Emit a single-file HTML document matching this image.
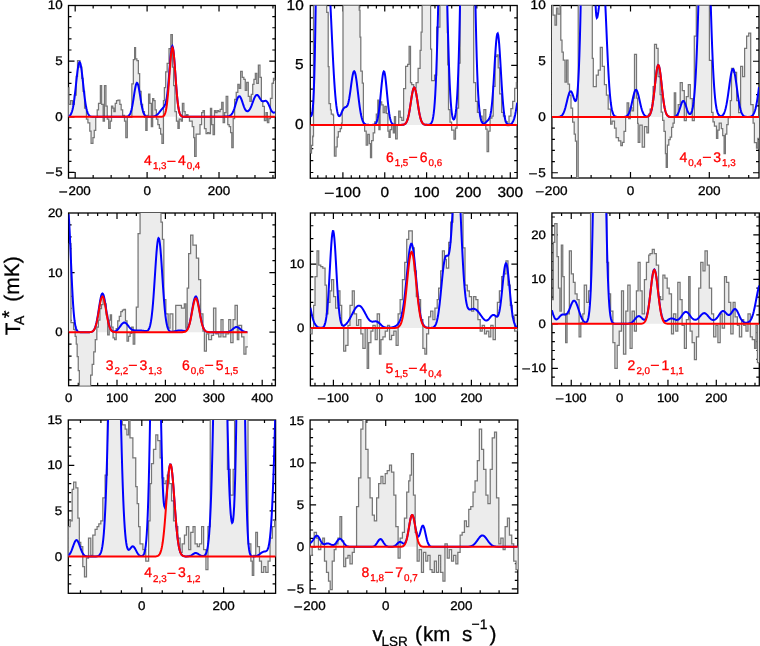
<!DOCTYPE html>
<html><head><meta charset="utf-8"><style>
html,body{margin:0;padding:0;background:#fff;}
svg{display:block;will-change:transform;}
text{font-family:"Liberation Sans", sans-serif;text-rendering:geometricPrecision;stroke:#000;stroke-width:0.3px;}
</style></head><body>
<svg width="760" height="646" viewBox="0 0 760 646">
<defs><clipPath id="c0"><rect x="68.5" y="5.5" width="206.8" height="172.6"/></clipPath><clipPath id="c1"><rect x="310.3" y="5.5" width="206.9" height="172.7"/></clipPath><clipPath id="c2"><rect x="551.9" y="5.5" width="207.1" height="172.5"/></clipPath><clipPath id="c3"><rect x="68.6" y="213" width="206.8" height="172.7"/></clipPath><clipPath id="c4"><rect x="310.4" y="213" width="207" height="172.8"/></clipPath><clipPath id="c5"><rect x="551.9" y="213" width="207.4" height="172.8"/></clipPath><clipPath id="c6"><rect x="68.3" y="420" width="207.3" height="173.3"/></clipPath><clipPath id="c7"><rect x="310.1" y="420" width="207.7" height="173.3"/></clipPath></defs>
<rect width="760" height="646" fill="#fff"/>
<rect x="68.5" y="5.5" width="206.8" height="172.6" fill="none" stroke="#000" stroke-width="1.3"/>
<path d="M75.18 178.1v-6 M75.18 5.5v6 M93.16 178.1v-3 M93.16 5.5v3 M111.14 178.1v-3 M111.14 5.5v3 M129.12 178.1v-3 M129.12 5.5v3 M147.1 178.1v-6 M147.1 5.5v6 M165.08 178.1v-3 M165.08 5.5v3 M183.06 178.1v-3 M183.06 5.5v3 M201.04 178.1v-3 M201.04 5.5v3 M219.02 178.1v-6 M219.02 5.5v6 M237 178.1v-3 M237 5.5v3 M254.98 178.1v-3 M254.98 5.5v3 M272.96 178.1v-3 M272.96 5.5v3 M68.5 172.45h6 M275.3 172.45h-6 M68.5 161.32h3 M275.3 161.32h-3 M68.5 150.19h3 M275.3 150.19h-3 M68.5 139.06h3 M275.3 139.06h-3 M68.5 127.93h3 M275.3 127.93h-3 M68.5 116.8h6 M275.3 116.8h-6 M68.5 105.67h3 M275.3 105.67h-3 M68.5 94.54h3 M275.3 94.54h-3 M68.5 83.41h3 M275.3 83.41h-3 M68.5 72.28h3 M275.3 72.28h-3 M68.5 61.15h6 M275.3 61.15h-6 M68.5 50.02h3 M275.3 50.02h-3 M68.5 38.89h3 M275.3 38.89h-3 M68.5 27.76h3 M275.3 27.76h-3 M68.5 16.63h3 M275.3 16.63h-3" stroke="#000" stroke-width="1.2" fill="none"/>
<g clip-path="url(#c0)"><path d="M67.86 116.8 L67.86 87.59 L68.79 87.59 L68.79 104.3 L70.64 104.3 L70.64 100.59 L72.5 100.59 L72.5 104.3 L74.36 104.3 L74.36 95.02 L76.22 95.02 L76.22 76.44 L77.52 76.44 L77.52 60.65 L79.93 60.65 L79.93 67.15 L81.79 67.15 L81.79 78.3 L83.09 78.3 L83.09 91.3 L84.58 91.3 L84.58 108.02 L86.43 108.02 L86.43 119.16 L87.92 119.16 L87.92 122.88 L89.78 122.88 L89.78 131.24 L91.08 131.24 L91.08 143.31 L92.93 143.31 L92.93 137.74 L94.24 137.74 L94.24 130.31 L95.72 130.31 L95.72 117.31 L97.21 117.31 L97.21 109.88 L98.51 109.88 L98.51 103.37 L100.37 103.37 L100.37 85.73 L101.67 85.73 L101.67 104.3 L103.15 104.3 L103.15 121.02 L104.45 121.02 L104.45 85.73 L105.94 85.73 L105.94 106.16 L107.24 106.16 L107.24 119.16 L108.72 119.16 L108.72 128.45 L110.21 128.45 L110.21 121.02 L111.51 121.02 L111.51 106.16 L112.81 106.16 L112.81 108.02 L113.93 108.02 L113.93 111.73 L115.23 111.73 L115.23 103.37 L116.53 103.37 L116.53 100.59 L118.01 100.59 L118.01 100.22 L119.87 100.22 L119.87 104.3 L121.17 104.3 L121.17 109.88 L122.66 109.88 L122.66 115.45 L124.51 115.45 L124.51 121.02 L125.81 121.02 L125.81 137.74 L127.3 137.74 L127.3 117.31 L131.86 117.31 L131.86 83.87 L133.34 83.87 L133.34 59.72 L134.64 59.72 L134.64 47.65 L135.57 47.65 L135.57 58.79 L136.87 58.79 L136.87 60.65 L138.36 60.65 L138.36 73.65 L139.66 73.65 L139.66 91.3 L141.15 91.3 L141.15 104.3 L142.63 104.3 L142.63 111.73 L144.49 111.73 L144.49 117.31 L145.79 117.31 L145.79 130.31 L147.09 130.31 L147.09 115.45 L148.58 115.45 L148.58 94.09 L149.88 94.09 L149.88 103.37 L151.36 103.37 L151.36 126.59 L152.66 126.59 L152.66 98.73 L153.78 98.73 L153.78 100.59 L155.08 100.59 L155.08 109.88 L156.38 109.88 L156.38 119.16 L157.86 119.16 L157.86 124.74 L159.35 124.74 L159.35 128.45 L160.65 128.45 L160.65 134.02 L161.95 134.02 L161.95 143.31 L163.44 143.31 L163.44 100.59 L164.37 100.59 L164.37 87.59 L165.67 87.59 L165.67 71.8 L167.15 71.8 L167.15 63.44 L169.01 63.44 L169.01 48.58 L170.87 48.58 L170.87 34.64 L172.35 34.64 L172.35 67.15 L173.65 67.15 L173.65 85.73 L174.95 85.73 L174.95 111.73 L176.44 111.73 L176.44 121.02 L177.93 121.02 L177.93 128.45 L179.23 128.45 L179.23 119.16 L181.08 119.16 L181.08 121.02 L182.38 121.02 L182.38 103.37 L183.87 103.37 L183.87 111.73 L185.17 111.73 L185.17 117.31 L186.66 117.31 L186.66 114.52 L187.96 114.52 L187.96 117.31 L189.44 117.31 L189.44 121.02 L190.93 121.02 L190.93 121.02 L192.23 121.02 L192.23 126.59 L193.72 126.59 L193.72 137.74 L194.64 137.74 L194.64 156.32 L196.13 156.32 L196.13 134.02 L200 134.02 L200 124.58 L201.61 124.58 L201.61 112.51 L203.02 112.51 L203.02 110.5 L204.43 110.5 L204.43 128.61 L206.04 128.61 L206.04 133.64 L207.65 133.64 L207.65 132.63 L209.06 132.63 L209.06 133.64 L210.46 133.64 L210.46 108.48 L211.67 108.48 L211.67 124.58 L213.08 124.58 L213.08 134.64 L214.49 134.64 L214.49 110.5 L215.7 110.5 L215.7 112.51 L217.11 112.51 L217.11 110.5 L218.51 110.5 L218.51 111.5 L220.12 111.5 L220.12 109.49 L221.73 109.49 L221.73 102.45 L223.14 102.45 L223.14 122.57 L224.55 122.57 L224.55 112.51 L226.16 112.51 L226.16 96.41 L227.77 96.41 L227.77 124.58 L229.18 124.58 L229.18 126.59 L230.59 126.59 L230.59 132.63 L231.8 132.63 L231.8 147.72 L233.2 147.72 L233.2 118.54 L234.61 118.54 L234.61 99.43 L236.22 99.43 L236.22 92.38 L237.83 92.38 L237.83 84.33 L239.24 84.33 L239.24 88.36 L240.65 88.36 L240.65 71.25 L242.26 71.25 L242.26 77.29 L243.87 77.29 L243.87 79.3 L245.28 79.3 L245.28 90.37 L246.69 90.37 L246.69 82.32 L248.3 82.32 L248.3 96.41 L249.91 96.41 L249.91 101.44 L251.32 101.44 L251.32 94.4 L252.72 94.4 L252.72 84.33 L253.93 84.33 L253.93 79.3 L255.34 79.3 L255.34 73.27 L256.75 73.27 L256.75 83.33 L258.36 83.33 L258.36 65.22 L259.97 65.22 L259.97 77.29 L261.38 77.29 L261.38 101.44 L262.79 101.44 L262.79 106.47 L264.4 106.47 L264.4 120.56 L266.01 120.56 L266.01 112.51 L267.41 112.51 L267.41 122.57 L268.82 122.57 L268.82 118.54 L270.43 118.54 L270.43 98.42 L272.04 98.42 L272.04 83.33 L273.45 83.33 L273.45 78.3 L274.86 78.3 L274.86 80.31 L277.07 80.31 L277.07 116.8 Z" fill="#ececec" stroke="none"/><path d="M67.86 87.59 L68.79 87.59 L68.79 104.3 L70.64 104.3 L70.64 100.59 L72.5 100.59 L72.5 104.3 L74.36 104.3 L74.36 95.02 L76.22 95.02 L76.22 76.44 L77.52 76.44 L77.52 60.65 L79.93 60.65 L79.93 67.15 L81.79 67.15 L81.79 78.3 L83.09 78.3 L83.09 91.3 L84.58 91.3 L84.58 108.02 L86.43 108.02 L86.43 119.16 L87.92 119.16 L87.92 122.88 L89.78 122.88 L89.78 131.24 L91.08 131.24 L91.08 143.31 L92.93 143.31 L92.93 137.74 L94.24 137.74 L94.24 130.31 L95.72 130.31 L95.72 117.31 L97.21 117.31 L97.21 109.88 L98.51 109.88 L98.51 103.37 L100.37 103.37 L100.37 85.73 L101.67 85.73 L101.67 104.3 L103.15 104.3 L103.15 121.02 L104.45 121.02 L104.45 85.73 L105.94 85.73 L105.94 106.16 L107.24 106.16 L107.24 119.16 L108.72 119.16 L108.72 128.45 L110.21 128.45 L110.21 121.02 L111.51 121.02 L111.51 106.16 L112.81 106.16 L112.81 108.02 L113.93 108.02 L113.93 111.73 L115.23 111.73 L115.23 103.37 L116.53 103.37 L116.53 100.59 L118.01 100.59 L118.01 100.22 L119.87 100.22 L119.87 104.3 L121.17 104.3 L121.17 109.88 L122.66 109.88 L122.66 115.45 L124.51 115.45 L124.51 121.02 L125.81 121.02 L125.81 137.74 L127.3 137.74 L127.3 117.31 L131.86 117.31 L131.86 83.87 L133.34 83.87 L133.34 59.72 L134.64 59.72 L134.64 47.65 L135.57 47.65 L135.57 58.79 L136.87 58.79 L136.87 60.65 L138.36 60.65 L138.36 73.65 L139.66 73.65 L139.66 91.3 L141.15 91.3 L141.15 104.3 L142.63 104.3 L142.63 111.73 L144.49 111.73 L144.49 117.31 L145.79 117.31 L145.79 130.31 L147.09 130.31 L147.09 115.45 L148.58 115.45 L148.58 94.09 L149.88 94.09 L149.88 103.37 L151.36 103.37 L151.36 126.59 L152.66 126.59 L152.66 98.73 L153.78 98.73 L153.78 100.59 L155.08 100.59 L155.08 109.88 L156.38 109.88 L156.38 119.16 L157.86 119.16 L157.86 124.74 L159.35 124.74 L159.35 128.45 L160.65 128.45 L160.65 134.02 L161.95 134.02 L161.95 143.31 L163.44 143.31 L163.44 100.59 L164.37 100.59 L164.37 87.59 L165.67 87.59 L165.67 71.8 L167.15 71.8 L167.15 63.44 L169.01 63.44 L169.01 48.58 L170.87 48.58 L170.87 34.64 L172.35 34.64 L172.35 67.15 L173.65 67.15 L173.65 85.73 L174.95 85.73 L174.95 111.73 L176.44 111.73 L176.44 121.02 L177.93 121.02 L177.93 128.45 L179.23 128.45 L179.23 119.16 L181.08 119.16 L181.08 121.02 L182.38 121.02 L182.38 103.37 L183.87 103.37 L183.87 111.73 L185.17 111.73 L185.17 117.31 L186.66 117.31 L186.66 114.52 L187.96 114.52 L187.96 117.31 L189.44 117.31 L189.44 121.02 L190.93 121.02 L190.93 121.02 L192.23 121.02 L192.23 126.59 L193.72 126.59 L193.72 137.74 L194.64 137.74 L194.64 156.32 L196.13 156.32 L196.13 134.02 L200 134.02 L200 124.58 L201.61 124.58 L201.61 112.51 L203.02 112.51 L203.02 110.5 L204.43 110.5 L204.43 128.61 L206.04 128.61 L206.04 133.64 L207.65 133.64 L207.65 132.63 L209.06 132.63 L209.06 133.64 L210.46 133.64 L210.46 108.48 L211.67 108.48 L211.67 124.58 L213.08 124.58 L213.08 134.64 L214.49 134.64 L214.49 110.5 L215.7 110.5 L215.7 112.51 L217.11 112.51 L217.11 110.5 L218.51 110.5 L218.51 111.5 L220.12 111.5 L220.12 109.49 L221.73 109.49 L221.73 102.45 L223.14 102.45 L223.14 122.57 L224.55 122.57 L224.55 112.51 L226.16 112.51 L226.16 96.41 L227.77 96.41 L227.77 124.58 L229.18 124.58 L229.18 126.59 L230.59 126.59 L230.59 132.63 L231.8 132.63 L231.8 147.72 L233.2 147.72 L233.2 118.54 L234.61 118.54 L234.61 99.43 L236.22 99.43 L236.22 92.38 L237.83 92.38 L237.83 84.33 L239.24 84.33 L239.24 88.36 L240.65 88.36 L240.65 71.25 L242.26 71.25 L242.26 77.29 L243.87 77.29 L243.87 79.3 L245.28 79.3 L245.28 90.37 L246.69 90.37 L246.69 82.32 L248.3 82.32 L248.3 96.41 L249.91 96.41 L249.91 101.44 L251.32 101.44 L251.32 94.4 L252.72 94.4 L252.72 84.33 L253.93 84.33 L253.93 79.3 L255.34 79.3 L255.34 73.27 L256.75 73.27 L256.75 83.33 L258.36 83.33 L258.36 65.22 L259.97 65.22 L259.97 77.29 L261.38 77.29 L261.38 101.44 L262.79 101.44 L262.79 106.47 L264.4 106.47 L264.4 120.56 L266.01 120.56 L266.01 112.51 L267.41 112.51 L267.41 122.57 L268.82 122.57 L268.82 118.54 L270.43 118.54 L270.43 98.42 L272.04 98.42 L272.04 83.33 L273.45 83.33 L273.45 78.3 L274.86 78.3 L274.86 80.31 L277.07 80.31 " fill="none" stroke="#767676" stroke-width="1.25" stroke-linejoin="miter"/><path d="M68.5 116.43 L69 116.23 L69.5 115.93 L70 115.5 L70.5 114.9 L71 114.08 L71.5 112.99 L72 111.56 L72.5 109.74 L73 107.49 L73.5 104.75 L73.99 101.53 L74.49 97.83 L74.99 93.7 L75.49 89.24 L75.99 84.58 L76.49 79.88 L76.99 75.35 L77.49 71.19 L77.99 67.62 L78.49 64.83 L78.99 62.98 L79.49 62.18 L79.99 62.48 L80.49 63.86 L80.99 66.24 L81.49 69.48 L81.99 73.39 L82.49 77.78 L82.99 82.43 L83.49 87.13 L83.99 91.7 L84.48 96 L84.98 99.9 L85.48 103.34 L85.98 106.3 L86.48 108.77 L86.98 110.79 L87.48 112.38 L87.98 113.62 L88.48 114.56 L88.98 115.25 L89.48 115.75 L89.98 116.1 L90.48 116.35 L90.98 116.51 L91.48 116.62 L91.98 116.69 L92.48 116.73 L92.98 116.76 L93.48 116.78 L93.98 116.79 L94.47 116.79 L94.97 116.8 L95.47 116.8 L95.97 116.8 L96.47 116.8 L96.97 116.8 L97.47 116.8 L97.97 116.8 L98.47 116.8 L98.97 116.8 L99.47 116.8 L99.97 116.8 L100.47 116.8 L100.97 116.8 L101.47 116.8 L101.97 116.8 L102.47 116.8 L102.97 116.8 L103.47 116.8 L103.97 116.8 L104.47 116.8 L104.96 116.8 L105.46 116.8 L105.96 116.8 L106.46 116.8 L106.96 116.8 L107.46 116.8 L107.96 116.8 L108.46 116.8 L108.96 116.8 L109.46 116.8 L109.96 116.8 L110.46 116.8 L110.96 116.8 L111.46 116.8 L111.96 116.8 L112.46 116.8 L112.96 116.8 L113.46 116.8 L113.96 116.8 L114.46 116.8 L114.96 116.8 L115.45 116.8 L115.95 116.8 L116.45 116.8 L116.95 116.8 L117.45 116.8 L117.95 116.8 L118.45 116.8 L118.95 116.8 L119.45 116.8 L119.95 116.8 L120.45 116.8 L120.95 116.8 L121.45 116.8 L121.95 116.8 L122.45 116.8 L122.95 116.8 L123.45 116.8 L123.95 116.79 L124.45 116.79 L124.95 116.78 L125.44 116.76 L125.94 116.74 L126.44 116.69 L126.94 116.61 L127.44 116.49 L127.94 116.3 L128.44 116.01 L128.94 115.6 L129.44 115 L129.94 114.19 L130.44 113.1 L130.94 111.69 L131.44 109.91 L131.94 107.76 L132.44 105.23 L132.94 102.36 L133.44 99.24 L133.94 95.97 L134.44 92.72 L134.94 89.67 L135.44 86.99 L135.93 84.87 L136.43 83.46 L136.93 82.87 L137.43 83.13 L137.93 84.23 L138.43 86.09 L138.93 88.57 L139.43 91.5 L139.93 94.7 L140.43 97.97 L140.93 101.17 L141.43 104.15 L141.93 106.82 L142.43 109.12 L142.93 111.04 L143.43 112.59 L143.93 113.8 L144.43 114.72 L144.93 115.39 L145.43 115.87 L145.93 116.2 L146.42 116.42 L146.92 116.57 L147.42 116.66 L147.92 116.71 L148.42 116.75 L148.92 116.76 L149.42 116.77 L149.92 116.76 L150.42 116.75 L150.92 116.73 L151.42 116.71 L151.92 116.67 L152.42 116.62 L152.92 116.55 L153.42 116.46 L153.92 116.35 L154.42 116.2 L154.92 116.02 L155.42 115.8 L155.92 115.53 L156.41 115.22 L156.91 114.85 L157.41 114.42 L157.91 113.94 L158.41 113.41 L158.91 112.84 L159.41 112.24 L159.91 111.61 L160.41 110.97 L160.91 110.33 L161.41 109.71 L161.91 109.11 L162.41 108.53 L162.91 107.97 L163.41 107.4 L163.91 106.78 L164.41 106.04 L164.91 105.09 L165.41 103.82 L165.91 102.11 L166.41 99.83 L166.9 96.85 L167.4 93.09 L167.9 88.52 L168.4 83.18 L168.9 77.21 L169.4 70.87 L169.9 64.48 L170.4 58.45 L170.9 53.21 L171.4 49.18 L171.9 46.72 L172.4 46.05 L172.9 47.26 L173.4 50.29 L173.9 54.9 L174.4 60.76 L174.9 67.45 L175.4 74.53 L175.9 81.6 L176.4 88.29 L176.9 94.35 L177.39 99.6 L177.89 104 L178.39 107.53 L178.89 110.27 L179.39 112.33 L179.89 113.83 L180.39 114.88 L180.89 115.59 L181.39 116.06 L181.89 116.36 L182.39 116.55 L182.89 116.66 L183.39 116.72 L183.89 116.76 L184.39 116.78 L184.89 116.79 L185.39 116.79 L185.89 116.8 L186.39 116.8 L186.89 116.8 L187.39 116.8 L187.88 116.8 L188.38 116.8 L188.88 116.8 L189.38 116.8 L189.88 116.8 L190.38 116.8 L190.88 116.8 L191.38 116.8 L191.88 116.8 L192.38 116.8 L192.88 116.8 L193.38 116.8 L193.88 116.8 L194.38 116.8 L194.88 116.8 L195.38 116.8 L195.88 116.8 L196.38 116.8 L196.88 116.8 L197.38 116.8 L197.87 116.8 L198.37 116.8 L198.87 116.8 L199.37 116.8 L199.87 116.8 L200.37 116.8 L200.87 116.8 L201.37 116.8 L201.87 116.8 L202.37 116.8 L202.87 116.8 L203.37 116.8 L203.87 116.8 L204.37 116.8 L204.87 116.8 L205.37 116.8 L205.87 116.8 L206.37 116.8 L206.87 116.8 L207.37 116.8 L207.87 116.8 L208.36 116.8 L208.86 116.8 L209.36 116.8 L209.86 116.8 L210.36 116.8 L210.86 116.79 L211.36 116.79 L211.86 116.79 L212.36 116.79 L212.86 116.79 L213.36 116.79 L213.86 116.79 L214.36 116.78 L214.86 116.78 L215.36 116.78 L215.86 116.78 L216.36 116.77 L216.86 116.77 L217.36 116.77 L217.86 116.76 L218.36 116.76 L218.85 116.75 L219.35 116.74 L219.85 116.74 L220.35 116.73 L220.85 116.72 L221.35 116.71 L221.85 116.7 L222.35 116.69 L222.85 116.68 L223.35 116.66 L223.85 116.65 L224.35 116.63 L224.85 116.61 L225.35 116.59 L225.85 116.56 L226.35 116.53 L226.85 116.48 L227.35 116.43 L227.85 116.36 L228.35 116.27 L228.84 116.15 L229.34 115.99 L229.84 115.77 L230.34 115.48 L230.84 115.1 L231.34 114.61 L231.84 113.99 L232.34 113.22 L232.84 112.29 L233.34 111.19 L233.84 109.91 L234.34 108.48 L234.84 106.91 L235.34 105.25 L235.84 103.55 L236.34 101.88 L236.84 100.3 L237.34 98.89 L237.84 97.72 L238.34 96.85 L238.84 96.33 L239.33 96.19 L239.83 96.42 L240.33 97.01 L240.83 97.92 L241.33 99.08 L241.83 100.44 L242.33 101.92 L242.83 103.44 L243.33 104.93 L243.83 106.34 L244.33 107.61 L244.83 108.71 L245.33 109.63 L245.83 110.34 L246.33 110.86 L246.83 111.17 L247.33 111.29 L247.83 111.22 L248.33 110.97 L248.83 110.54 L249.33 109.96 L249.82 109.21 L250.32 108.3 L250.82 107.26 L251.32 106.1 L251.82 104.83 L252.32 103.49 L252.82 102.11 L253.32 100.74 L253.82 99.41 L254.32 98.19 L254.82 97.11 L255.32 96.21 L255.82 95.54 L256.32 95.11 L256.82 94.95 L257.32 95.04 L257.82 95.36 L258.32 95.89 L258.82 96.58 L259.32 97.37 L259.81 98.2 L260.31 99.02 L260.81 99.76 L261.31 100.38 L261.81 100.85 L262.31 101.15 L262.81 101.29 L263.31 101.28 L263.81 101.18 L264.31 101.02 L264.81 100.87 L265.31 100.79 L265.81 100.83 L266.31 101.04 L266.81 101.44 L267.31 102.04 L267.81 102.83 L268.31 103.79 L268.81 104.88 L269.31 106.04 L269.81 107.22 L270.3 108.38 L270.8 109.46 L271.3 110.41 L271.8 111.22 L272.3 111.85 L272.8 112.29 L273.3 112.55 L273.8 112.63 L274.3 112.56 L274.8 112.35 L275.3 112.05" fill="none" stroke="#0000ff" stroke-width="2"/><path d="M68.5 116.8 L69 116.8 L69.5 116.8 L70 116.8 L70.5 116.8 L71 116.8 L71.5 116.8 L72 116.8 L72.5 116.8 L73 116.8 L73.5 116.8 L73.99 116.8 L74.49 116.8 L74.99 116.8 L75.49 116.8 L75.99 116.8 L76.49 116.8 L76.99 116.8 L77.49 116.8 L77.99 116.8 L78.49 116.8 L78.99 116.8 L79.49 116.8 L79.99 116.8 L80.49 116.8 L80.99 116.8 L81.49 116.8 L81.99 116.8 L82.49 116.8 L82.99 116.8 L83.49 116.8 L83.99 116.8 L84.48 116.8 L84.98 116.8 L85.48 116.8 L85.98 116.8 L86.48 116.8 L86.98 116.8 L87.48 116.8 L87.98 116.8 L88.48 116.8 L88.98 116.8 L89.48 116.8 L89.98 116.8 L90.48 116.8 L90.98 116.8 L91.48 116.8 L91.98 116.8 L92.48 116.8 L92.98 116.8 L93.48 116.8 L93.98 116.8 L94.47 116.8 L94.97 116.8 L95.47 116.8 L95.97 116.8 L96.47 116.8 L96.97 116.8 L97.47 116.8 L97.97 116.8 L98.47 116.8 L98.97 116.8 L99.47 116.8 L99.97 116.8 L100.47 116.8 L100.97 116.8 L101.47 116.8 L101.97 116.8 L102.47 116.8 L102.97 116.8 L103.47 116.8 L103.97 116.8 L104.47 116.8 L104.96 116.8 L105.46 116.8 L105.96 116.8 L106.46 116.8 L106.96 116.8 L107.46 116.8 L107.96 116.8 L108.46 116.8 L108.96 116.8 L109.46 116.8 L109.96 116.8 L110.46 116.8 L110.96 116.8 L111.46 116.8 L111.96 116.8 L112.46 116.8 L112.96 116.8 L113.46 116.8 L113.96 116.8 L114.46 116.8 L114.96 116.8 L115.45 116.8 L115.95 116.8 L116.45 116.8 L116.95 116.8 L117.45 116.8 L117.95 116.8 L118.45 116.8 L118.95 116.8 L119.45 116.8 L119.95 116.8 L120.45 116.8 L120.95 116.8 L121.45 116.8 L121.95 116.8 L122.45 116.8 L122.95 116.8 L123.45 116.8 L123.95 116.8 L124.45 116.8 L124.95 116.8 L125.44 116.8 L125.94 116.8 L126.44 116.8 L126.94 116.8 L127.44 116.8 L127.94 116.8 L128.44 116.8 L128.94 116.8 L129.44 116.8 L129.94 116.8 L130.44 116.8 L130.94 116.8 L131.44 116.8 L131.94 116.8 L132.44 116.8 L132.94 116.8 L133.44 116.8 L133.94 116.8 L134.44 116.8 L134.94 116.8 L135.44 116.8 L135.93 116.8 L136.43 116.8 L136.93 116.8 L137.43 116.8 L137.93 116.8 L138.43 116.8 L138.93 116.8 L139.43 116.8 L139.93 116.8 L140.43 116.8 L140.93 116.8 L141.43 116.8 L141.93 116.8 L142.43 116.8 L142.93 116.8 L143.43 116.8 L143.93 116.8 L144.43 116.8 L144.93 116.8 L145.43 116.8 L145.93 116.8 L146.42 116.8 L146.92 116.8 L147.42 116.8 L147.92 116.8 L148.42 116.8 L148.92 116.8 L149.42 116.8 L149.92 116.8 L150.42 116.8 L150.92 116.8 L151.42 116.8 L151.92 116.8 L152.42 116.8 L152.92 116.8 L153.42 116.8 L153.92 116.8 L154.42 116.8 L154.92 116.8 L155.42 116.8 L155.92 116.8 L156.41 116.8 L156.91 116.8 L157.41 116.8 L157.91 116.8 L158.41 116.8 L158.91 116.8 L159.41 116.79 L159.91 116.79 L160.41 116.78 L160.91 116.76 L161.41 116.73 L161.91 116.66 L162.41 116.56 L162.91 116.38 L163.41 116.09 L163.91 115.63 L164.41 114.94 L164.91 113.92 L165.41 112.46 L165.91 110.45 L166.41 107.77 L166.9 104.31 L167.4 100 L167.9 94.83 L168.4 88.87 L168.9 82.28 L169.4 75.31 L169.9 68.32 L170.4 61.73 L170.9 55.97 L171.4 51.48 L171.9 48.6 L172.4 47.57 L172.9 48.48 L173.4 51.24 L173.9 55.64 L174.4 61.32 L174.9 67.88 L175.4 74.85 L175.9 81.83 L176.4 88.46 L176.9 94.47 L177.39 99.69 L177.89 104.06 L178.39 107.57 L178.89 110.3 L179.39 112.35 L179.89 113.84 L180.39 114.88 L180.89 115.59 L181.39 116.06 L181.89 116.36 L182.39 116.55 L182.89 116.66 L183.39 116.72 L183.89 116.76 L184.39 116.78 L184.89 116.79 L185.39 116.79 L185.89 116.8 L186.39 116.8 L186.89 116.8 L187.39 116.8 L187.88 116.8 L188.38 116.8 L188.88 116.8 L189.38 116.8 L189.88 116.8 L190.38 116.8 L190.88 116.8 L191.38 116.8 L191.88 116.8 L192.38 116.8 L192.88 116.8 L193.38 116.8 L193.88 116.8 L194.38 116.8 L194.88 116.8 L195.38 116.8 L195.88 116.8 L196.38 116.8 L196.88 116.8 L197.38 116.8 L197.87 116.8 L198.37 116.8 L198.87 116.8 L199.37 116.8 L199.87 116.8 L200.37 116.8 L200.87 116.8 L201.37 116.8 L201.87 116.8 L202.37 116.8 L202.87 116.8 L203.37 116.8 L203.87 116.8 L204.37 116.8 L204.87 116.8 L205.37 116.8 L205.87 116.8 L206.37 116.8 L206.87 116.8 L207.37 116.8 L207.87 116.8 L208.36 116.8 L208.86 116.8 L209.36 116.8 L209.86 116.8 L210.36 116.8 L210.86 116.8 L211.36 116.8 L211.86 116.8 L212.36 116.8 L212.86 116.8 L213.36 116.8 L213.86 116.8 L214.36 116.8 L214.86 116.8 L215.36 116.8 L215.86 116.8 L216.36 116.8 L216.86 116.8 L217.36 116.8 L217.86 116.8 L218.36 116.8 L218.85 116.8 L219.35 116.8 L219.85 116.8 L220.35 116.8 L220.85 116.8 L221.35 116.8 L221.85 116.8 L222.35 116.8 L222.85 116.8 L223.35 116.8 L223.85 116.8 L224.35 116.8 L224.85 116.8 L225.35 116.8 L225.85 116.8 L226.35 116.8 L226.85 116.8 L227.35 116.8 L227.85 116.8 L228.35 116.8 L228.84 116.8 L229.34 116.8 L229.84 116.8 L230.34 116.8 L230.84 116.8 L231.34 116.8 L231.84 116.8 L232.34 116.8 L232.84 116.8 L233.34 116.8 L233.84 116.8 L234.34 116.8 L234.84 116.8 L235.34 116.8 L235.84 116.8 L236.34 116.8 L236.84 116.8 L237.34 116.8 L237.84 116.8 L238.34 116.8 L238.84 116.8 L239.33 116.8 L239.83 116.8 L240.33 116.8 L240.83 116.8 L241.33 116.8 L241.83 116.8 L242.33 116.8 L242.83 116.8 L243.33 116.8 L243.83 116.8 L244.33 116.8 L244.83 116.8 L245.33 116.8 L245.83 116.8 L246.33 116.8 L246.83 116.8 L247.33 116.8 L247.83 116.8 L248.33 116.8 L248.83 116.8 L249.33 116.8 L249.82 116.8 L250.32 116.8 L250.82 116.8 L251.32 116.8 L251.82 116.8 L252.32 116.8 L252.82 116.8 L253.32 116.8 L253.82 116.8 L254.32 116.8 L254.82 116.8 L255.32 116.8 L255.82 116.8 L256.32 116.8 L256.82 116.8 L257.32 116.8 L257.82 116.8 L258.32 116.8 L258.82 116.8 L259.32 116.8 L259.81 116.8 L260.31 116.8 L260.81 116.8 L261.31 116.8 L261.81 116.8 L262.31 116.8 L262.81 116.8 L263.31 116.8 L263.81 116.8 L264.31 116.8 L264.81 116.8 L265.31 116.8 L265.81 116.8 L266.31 116.8 L266.81 116.8 L267.31 116.8 L267.81 116.8 L268.31 116.8 L268.81 116.8 L269.31 116.8 L269.81 116.8 L270.3 116.8 L270.8 116.8 L271.3 116.8 L271.8 116.8 L272.3 116.8 L272.8 116.8 L273.3 116.8 L273.8 116.8 L274.3 116.8 L274.8 116.8 L275.3 116.8" fill="none" stroke="#ff0000" stroke-width="2"/></g>
<text transform="translate(75.18,0) scale(1.07,1)" x="0" y="194.7" font-size="12.5" text-anchor="middle"><tspan>–</tspan><tspan dx="1.3">200</tspan></text>
<text transform="translate(147.1,0) scale(1.07,1)" x="0" y="194.7" font-size="12.5" text-anchor="middle">0</text>
<text transform="translate(219.02,0) scale(1.07,1)" x="0" y="194.7" font-size="12.5" text-anchor="middle">200</text>
<text transform="translate(62.6,0) scale(1.07,1)" x="0" y="9.3" font-size="12.5" text-anchor="end">10</text>
<text transform="translate(62.6,0) scale(1.07,1)" x="0" y="64.95" font-size="12.5" text-anchor="end">5</text>
<text transform="translate(62.6,0) scale(1.07,1)" x="0" y="120.6" font-size="12.5" text-anchor="end">0</text>
<text transform="translate(62.6,0) scale(1.07,1)" x="0" y="176.25" font-size="12.5" text-anchor="end"><tspan>–</tspan><tspan dx="1.3">5</tspan></text>
<text x="144.1" y="165" fill="#ff0000" style="stroke:#ff0000;stroke-width:0.3px" font-size="14">4<tspan font-size="9.8" dx="1.0" dy="4.2">1,3</tspan><tspan dy="-4.7" dx="1.0">–</tspan><tspan dx="2.6" dy="0.5">4</tspan><tspan font-size="9.8" dx="1.0" dy="4.2">0,4</tspan></text>
<rect x="310.3" y="5.5" width="206.9" height="172.7" fill="none" stroke="#000" stroke-width="1.3"/>
<path d="M317.79 178.2v-3 M317.79 5.5v3 M326.16 178.2v-3 M326.16 5.5v3 M334.53 178.2v-3 M334.53 5.5v3 M342.9 178.2v-6 M342.9 5.5v6 M351.27 178.2v-3 M351.27 5.5v3 M359.64 178.2v-3 M359.64 5.5v3 M368.01 178.2v-3 M368.01 5.5v3 M376.38 178.2v-3 M376.38 5.5v3 M384.75 178.2v-6 M384.75 5.5v6 M393.12 178.2v-3 M393.12 5.5v3 M401.49 178.2v-3 M401.49 5.5v3 M409.86 178.2v-3 M409.86 5.5v3 M418.23 178.2v-3 M418.23 5.5v3 M426.6 178.2v-6 M426.6 5.5v6 M434.97 178.2v-3 M434.97 5.5v3 M443.34 178.2v-3 M443.34 5.5v3 M451.71 178.2v-3 M451.71 5.5v3 M460.08 178.2v-3 M460.08 5.5v3 M468.45 178.2v-6 M468.45 5.5v6 M476.82 178.2v-3 M476.82 5.5v3 M485.19 178.2v-3 M485.19 5.5v3 M493.56 178.2v-3 M493.56 5.5v3 M501.93 178.2v-3 M501.93 5.5v3 M510.3 178.2v-6 M510.3 5.5v6 M310.3 172.5h3 M517.2 172.5h-3 M310.3 160.6h3 M517.2 160.6h-3 M310.3 148.7h3 M517.2 148.7h-3 M310.3 136.8h3 M517.2 136.8h-3 M310.3 124.9h6 M517.2 124.9h-6 M310.3 113h3 M517.2 113h-3 M310.3 101.1h3 M517.2 101.1h-3 M310.3 89.2h3 M517.2 89.2h-3 M310.3 77.3h3 M517.2 77.3h-3 M310.3 65.4h6 M517.2 65.4h-6 M310.3 53.5h3 M517.2 53.5h-3 M310.3 41.6h3 M517.2 41.6h-3 M310.3 29.7h3 M517.2 29.7h-3 M310.3 17.8h3 M517.2 17.8h-3" stroke="#000" stroke-width="1.2" fill="none"/>
<g clip-path="url(#c1)"><path d="M310.3 124.9 L310.3 153.1 L311.5 153.1 L311.5 145.4 L312.7 145.4 L312.7 136.1 L313.5 136.1 L313.5 -20 L326.7 -20 L326.7 12.4 L328.2 12.4 L328.2 66.6 L329 66.6 L329 103.6 L330.5 103.6 L330.5 109.8 L331.3 109.8 L331.3 114 L333 114 L333 115.2 L333.6 115.2 L333.6 125.2 L334.4 125.2 L334.4 156.2 L336 156.2 L336 146.9 L337.2 146.9 L337.2 137 L338.3 137 L338.3 131.5 L340.3 131.5 L340.3 128.5 L341.5 128.5 L341.5 123 L342.2 123 L342.2 110 L343 110 L343 -20 L359.2 -20 L359.2 10 L360 10 L360 37 L360.8 37 L360.8 71.2 L362.3 71.2 L362.3 83.2 L363.4 83.2 L363.4 123.5 L364.6 123.5 L364.6 131.2 L366.2 131.2 L366.2 145.1 L367.7 145.1 L367.7 134.3 L369.3 134.3 L369.3 143.6 L370.5 143.6 L370.5 157.5 L371.6 157.5 L371.6 140.5 L373.2 140.5 L373.2 132.8 L374.7 132.8 L374.7 121.9 L376.3 121.9 L376.3 114.2 L377.8 114.2 L377.8 100.2 L378.9 100.2 L378.9 129.7 L380.1 129.7 L380.1 101.8 L381.7 101.8 L381.7 104.9 L383.2 104.9 L383.2 112.6 L384.8 112.6 L384.8 106.4 L386.3 106.4 L386.3 113.4 L387.9 113.4 L387.9 131.2 L389 131.2 L389 137.4 L390.2 137.4 L390.2 129.7 L391.7 129.7 L391.7 125 L393.3 125 L393.3 132.8 L394.4 132.8 L394.4 116.5 L395.6 116.5 L395.6 138.9 L397.2 138.9 L397.2 125 L398.7 125 L398.7 111.1 L400.2 111.1 L400.2 117.3 L401.8 117.3 L401.8 120.4 L403.6 120.4 L403.6 88.5 L405.6 88.5 L405.6 66.4 L407.6 66.4 L407.6 64.4 L409.1 64.4 L409.1 46.3 L410.5 46.3 L410.5 82.5 L411.7 82.5 L411.7 84.5 L413.7 84.5 L413.7 88 L416.1 88 L416.1 82.5 L418.1 82.5 L418.1 68.4 L420.1 68.4 L420.1 50.3 L421.1 50.3 L421.1 32.2 L422.1 32.2 L422.1 -20 L430.6 -20 L430.6 49 L431.6 49 L431.6 80.5 L434.5 80.5 L434.5 75 L436.6 75 L436.6 27 L439.9 27 L439.9 -20 L447.3 -20 L447.3 32.5 L447.7 32.5 L447.7 64.8 L448.5 64.8 L448.5 109.7 L450 109.7 L450 122 L451.6 122 L451.6 130 L454 130 L454 139 L455.5 139 L455.5 128 L457 128 L457 108 L458.6 108 L458.6 63 L460.1 63 L460.1 -20 L473.7 -20 L473.7 82.7 L475.6 82.7 L475.6 101.3 L477.4 101.3 L477.4 112.4 L480.2 112.4 L480.2 116.2 L482.1 116.2 L482.1 121.7 L483.9 121.7 L483.9 109.7 L485.8 109.7 L485.8 129.2 L487.1 129.2 L487.1 151.5 L488.6 151.5 L488.6 131 L490.1 131 L490.1 118 L491.9 118 L491.9 116.2 L493.2 116.2 L493.2 86.4 L495.1 86.4 L495.1 56.7 L496.9 56.7 L496.9 54.9 L498.2 54.9 L498.2 67.9 L499.7 67.9 L499.7 93.9 L501.6 93.9 L501.6 112.4 L503.4 112.4 L503.4 116.2 L505.3 116.2 L505.3 121.7 L507.2 121.7 L507.2 125.5 L509 125.5 L509 116.2 L510.9 116.2 L510.9 108.7 L512.7 108.7 L512.7 101.3 L514.6 101.3 L514.6 88.3 L516.4 88.3 L516.4 82.7 L517.5 82.7 L517.5 124.9 Z" fill="#ececec" stroke="none"/><path d="M310.3 153.1 L311.5 153.1 L311.5 145.4 L312.7 145.4 L312.7 136.1 L313.5 136.1 L313.5 -20 L326.7 -20 L326.7 12.4 L328.2 12.4 L328.2 66.6 L329 66.6 L329 103.6 L330.5 103.6 L330.5 109.8 L331.3 109.8 L331.3 114 L333 114 L333 115.2 L333.6 115.2 L333.6 125.2 L334.4 125.2 L334.4 156.2 L336 156.2 L336 146.9 L337.2 146.9 L337.2 137 L338.3 137 L338.3 131.5 L340.3 131.5 L340.3 128.5 L341.5 128.5 L341.5 123 L342.2 123 L342.2 110 L343 110 L343 -20 L359.2 -20 L359.2 10 L360 10 L360 37 L360.8 37 L360.8 71.2 L362.3 71.2 L362.3 83.2 L363.4 83.2 L363.4 123.5 L364.6 123.5 L364.6 131.2 L366.2 131.2 L366.2 145.1 L367.7 145.1 L367.7 134.3 L369.3 134.3 L369.3 143.6 L370.5 143.6 L370.5 157.5 L371.6 157.5 L371.6 140.5 L373.2 140.5 L373.2 132.8 L374.7 132.8 L374.7 121.9 L376.3 121.9 L376.3 114.2 L377.8 114.2 L377.8 100.2 L378.9 100.2 L378.9 129.7 L380.1 129.7 L380.1 101.8 L381.7 101.8 L381.7 104.9 L383.2 104.9 L383.2 112.6 L384.8 112.6 L384.8 106.4 L386.3 106.4 L386.3 113.4 L387.9 113.4 L387.9 131.2 L389 131.2 L389 137.4 L390.2 137.4 L390.2 129.7 L391.7 129.7 L391.7 125 L393.3 125 L393.3 132.8 L394.4 132.8 L394.4 116.5 L395.6 116.5 L395.6 138.9 L397.2 138.9 L397.2 125 L398.7 125 L398.7 111.1 L400.2 111.1 L400.2 117.3 L401.8 117.3 L401.8 120.4 L403.6 120.4 L403.6 88.5 L405.6 88.5 L405.6 66.4 L407.6 66.4 L407.6 64.4 L409.1 64.4 L409.1 46.3 L410.5 46.3 L410.5 82.5 L411.7 82.5 L411.7 84.5 L413.7 84.5 L413.7 88 L416.1 88 L416.1 82.5 L418.1 82.5 L418.1 68.4 L420.1 68.4 L420.1 50.3 L421.1 50.3 L421.1 32.2 L422.1 32.2 L422.1 -20 L430.6 -20 L430.6 49 L431.6 49 L431.6 80.5 L434.5 80.5 L434.5 75 L436.6 75 L436.6 27 L439.9 27 L439.9 -20 L447.3 -20 L447.3 32.5 L447.7 32.5 L447.7 64.8 L448.5 64.8 L448.5 109.7 L450 109.7 L450 122 L451.6 122 L451.6 130 L454 130 L454 139 L455.5 139 L455.5 128 L457 128 L457 108 L458.6 108 L458.6 63 L460.1 63 L460.1 -20 L473.7 -20 L473.7 82.7 L475.6 82.7 L475.6 101.3 L477.4 101.3 L477.4 112.4 L480.2 112.4 L480.2 116.2 L482.1 116.2 L482.1 121.7 L483.9 121.7 L483.9 109.7 L485.8 109.7 L485.8 129.2 L487.1 129.2 L487.1 151.5 L488.6 151.5 L488.6 131 L490.1 131 L490.1 118 L491.9 118 L491.9 116.2 L493.2 116.2 L493.2 86.4 L495.1 86.4 L495.1 56.7 L496.9 56.7 L496.9 54.9 L498.2 54.9 L498.2 67.9 L499.7 67.9 L499.7 93.9 L501.6 93.9 L501.6 112.4 L503.4 112.4 L503.4 116.2 L505.3 116.2 L505.3 121.7 L507.2 121.7 L507.2 125.5 L509 125.5 L509 116.2 L510.9 116.2 L510.9 108.7 L512.7 108.7 L512.7 101.3 L514.6 101.3 L514.6 88.3 L516.4 88.3 L516.4 82.7 L517.5 82.7 " fill="none" stroke="#767676" stroke-width="1.25" stroke-linejoin="miter"/><path d="M310.3 116.24 L310.8 116.19 L311.3 115.84 L311.8 114.8 L312.3 112.57 L312.8 108.48 L313.3 101.75 L313.8 91.45 L314.3 76.69 L314.8 56.67 L315.3 30.88 L315.8 -0.64 L316.3 -37.2 L316.8 -77.29 L317.3 -118.63 L317.8 -158.37 L318.3 -193.39 L318.8 -220.79 L319.3 -238.34 L319.8 -244.87 L320.3 -240.46 L320.79 -226.41 L321.29 -205.02 L321.79 -179.15 L322.29 -151.77 L322.79 -125.5 L323.29 -102.29 L323.79 -83.29 L324.29 -68.84 L324.79 -58.61 L325.29 -51.83 L325.79 -47.47 L326.29 -44.49 L326.79 -41.93 L327.29 -39.03 L327.79 -35.26 L328.29 -30.29 L328.79 -24 L329.29 -16.42 L329.79 -7.68 L330.29 1.99 L330.79 12.32 L331.29 23.04 L331.79 33.86 L332.29 44.52 L332.79 54.8 L333.29 64.5 L333.79 73.48 L334.29 81.63 L334.79 88.89 L335.29 95.22 L335.79 100.63 L336.29 105.14 L336.79 108.8 L337.29 111.64 L337.79 113.74 L338.29 115.15 L338.79 115.94 L339.29 116.19 L339.79 115.97 L340.29 115.37 L340.79 114.48 L341.29 113.39 L341.78 112.21 L342.28 111.04 L342.78 109.95 L343.28 109.02 L343.78 108.29 L344.28 107.77 L344.78 107.44 L345.28 107.23 L345.78 107.07 L346.28 106.84 L346.78 106.42 L347.28 105.69 L347.78 104.55 L348.28 102.93 L348.78 100.79 L349.28 98.14 L349.78 95.03 L350.28 91.57 L350.78 87.89 L351.28 84.17 L351.78 80.6 L352.28 77.37 L352.78 74.68 L353.28 72.69 L353.78 71.52 L354.28 71.26 L354.78 71.93 L355.28 73.5 L355.78 75.91 L356.28 79.03 L356.78 82.71 L357.28 86.78 L357.78 91.07 L358.28 95.41 L358.78 99.66 L359.28 103.67 L359.78 107.36 L360.28 110.67 L360.78 113.56 L361.28 116.02 L361.78 118.08 L362.27 119.75 L362.77 121.08 L363.27 122.11 L363.77 122.91 L364.27 123.5 L364.77 123.93 L365.27 124.24 L365.77 124.46 L366.27 124.61 L366.77 124.72 L367.27 124.78 L367.77 124.83 L368.27 124.86 L368.77 124.87 L369.27 124.88 L369.77 124.89 L370.27 124.89 L370.77 124.89 L371.27 124.89 L371.77 124.88 L372.27 124.87 L372.77 124.84 L373.27 124.79 L373.77 124.71 L374.27 124.57 L374.77 124.35 L375.27 124.01 L375.77 123.49 L376.27 122.72 L376.77 121.63 L377.27 120.13 L377.77 118.13 L378.27 115.56 L378.77 112.35 L379.27 108.49 L379.77 104.02 L380.27 99.05 L380.77 93.77 L381.27 88.42 L381.77 83.3 L382.27 78.75 L382.76 75.08 L383.26 72.57 L383.76 71.41 L384.26 71.71 L384.76 73.43 L385.26 76.44 L385.76 80.51 L386.26 85.33 L386.76 90.58 L387.26 95.94 L387.76 101.12 L388.26 105.9 L388.76 110.13 L389.26 113.73 L389.76 116.68 L390.26 119.01 L390.76 120.8 L391.26 122.12 L391.76 123.06 L392.26 123.72 L392.76 124.16 L393.26 124.45 L393.76 124.64 L394.26 124.75 L394.76 124.81 L395.26 124.85 L395.76 124.88 L396.26 124.89 L396.76 124.89 L397.26 124.9 L397.76 124.9 L398.26 124.9 L398.76 124.9 L399.26 124.9 L399.76 124.9 L400.26 124.89 L400.76 124.89 L401.26 124.88 L401.76 124.86 L402.26 124.83 L402.76 124.78 L403.26 124.71 L403.75 124.59 L404.25 124.42 L404.75 124.16 L405.25 123.79 L405.75 123.28 L406.25 122.58 L406.75 121.64 L407.25 120.43 L407.75 118.9 L408.25 117.03 L408.75 114.79 L409.25 112.2 L409.75 109.28 L410.25 106.12 L410.75 102.8 L411.25 99.46 L411.75 96.25 L412.25 93.34 L412.75 90.88 L413.25 89.02 L413.75 87.88 L414.25 87.54 L414.75 88 L415.25 89.25 L415.75 91.21 L416.25 93.75 L416.75 96.72 L417.25 99.96 L417.75 103.3 L418.25 106.6 L418.75 109.74 L419.25 112.61 L419.75 115.15 L420.25 117.33 L420.75 119.15 L421.25 120.63 L421.75 121.8 L422.25 122.69 L422.75 123.37 L423.25 123.86 L423.75 124.2 L424.24 124.45 L424.74 124.61 L425.24 124.72 L425.74 124.79 L426.24 124.83 L426.74 124.85 L427.24 124.85 L427.74 124.84 L428.24 124.81 L428.74 124.76 L429.24 124.66 L429.74 124.5 L430.24 124.25 L430.74 123.86 L431.24 123.27 L431.74 122.39 L432.24 121.1 L432.74 119.26 L433.24 116.7 L433.74 113.19 L434.24 108.51 L434.74 102.39 L435.24 94.58 L435.74 84.82 L436.24 72.93 L436.74 58.8 L437.24 42.42 L437.74 23.94 L438.24 3.67 L438.74 -17.91 L439.24 -40.13 L439.74 -62.18 L440.24 -83.15 L440.74 -102.07 L441.24 -118.01 L441.74 -130.12 L442.24 -137.75 L442.74 -140.47 L443.24 -138.12 L443.74 -130.83 L444.24 -119.02 L444.74 -103.34 L445.23 -84.6 L445.73 -63.75 L446.23 -41.75 L446.73 -19.51 L447.23 2.13 L447.73 22.52 L448.23 41.13 L448.73 57.66 L449.23 71.93 L449.73 83.95 L450.23 93.8 L450.73 101.67 L451.23 107.77 L451.73 112.36 L452.23 115.64 L452.73 117.83 L453.23 119.08 L453.73 119.49 L454.23 119.11 L454.73 117.91 L455.23 115.83 L455.73 112.73 L456.23 108.41 L456.73 102.63 L457.23 95.08 L457.73 85.44 L458.23 73.34 L458.73 58.43 L459.23 40.35 L459.73 18.82 L460.23 -6.38 L460.73 -35.36 L461.23 -68.07 L461.73 -104.28 L462.23 -143.59 L462.73 -185.34 L463.23 -228.7 L463.73 -272.62 L464.23 -315.91 L464.73 -357.25 L465.23 -395.27 L465.72 -428.64 L466.22 -456.12 L466.72 -476.65 L467.22 -489.42 L467.72 -493.9 L468.22 -489.91 L468.72 -477.62 L469.22 -457.53 L469.72 -430.43 L470.22 -397.37 L470.72 -359.58 L471.22 -318.4 L471.72 -275.19 L472.22 -231.27 L472.72 -187.84 L473.22 -145.97 L473.72 -106.5 L474.22 -70.09 L474.72 -37.17 L475.22 -7.97 L475.72 17.45 L476.22 39.2 L476.72 57.47 L477.22 72.57 L477.72 84.85 L478.22 94.66 L478.72 102.37 L479.22 108.34 L479.72 112.89 L480.22 116.29 L480.72 118.79 L481.22 120.58 L481.72 121.82 L482.22 122.64 L482.72 123.14 L483.22 123.38 L483.72 123.42 L484.22 123.31 L484.72 123.07 L485.22 122.74 L485.72 122.34 L486.21 121.92 L486.71 121.47 L487.21 121.03 L487.71 120.57 L488.21 120.06 L488.71 119.44 L489.21 118.61 L489.71 117.45 L490.21 115.8 L490.71 113.51 L491.21 110.42 L491.71 106.4 L492.21 101.35 L492.71 95.27 L493.21 88.22 L493.71 80.36 L494.21 71.97 L494.71 63.4 L495.21 55.11 L495.71 47.56 L496.21 41.23 L496.71 36.56 L497.21 33.86 L497.71 33.34 L498.21 35.04 L498.71 38.82 L499.21 44.44 L499.71 51.5 L500.21 59.56 L500.71 68.13 L501.21 76.77 L501.71 85.08 L502.21 92.75 L502.71 99.56 L503.21 105.42 L503.71 110.28 L504.21 114.19 L504.71 117.24 L505.21 119.56 L505.71 121.26 L506.21 122.47 L506.71 123.31 L507.2 123.87 L507.7 124.23 L508.2 124.44 L508.7 124.54 L509.2 124.55 L509.7 124.5 L510.2 124.37 L510.7 124.16 L511.2 123.85 L511.7 123.43 L512.2 122.86 L512.7 122.11 L513.2 121.15 L513.7 119.94 L514.2 118.45 L514.7 116.64 L515.2 114.49 L515.7 112 L516.2 109.16 L516.7 106.02 L517.2 102.62" fill="none" stroke="#0000ff" stroke-width="2"/><path d="M310.3 124.9 L310.8 124.9 L311.3 124.9 L311.8 124.9 L312.3 124.9 L312.8 124.9 L313.3 124.9 L313.8 124.9 L314.3 124.9 L314.8 124.9 L315.3 124.9 L315.8 124.9 L316.3 124.9 L316.8 124.9 L317.3 124.9 L317.8 124.9 L318.3 124.9 L318.8 124.9 L319.3 124.9 L319.8 124.9 L320.3 124.9 L320.79 124.9 L321.29 124.9 L321.79 124.9 L322.29 124.9 L322.79 124.9 L323.29 124.9 L323.79 124.9 L324.29 124.9 L324.79 124.9 L325.29 124.9 L325.79 124.9 L326.29 124.9 L326.79 124.9 L327.29 124.9 L327.79 124.9 L328.29 124.9 L328.79 124.9 L329.29 124.9 L329.79 124.9 L330.29 124.9 L330.79 124.9 L331.29 124.9 L331.79 124.9 L332.29 124.9 L332.79 124.9 L333.29 124.9 L333.79 124.9 L334.29 124.9 L334.79 124.9 L335.29 124.9 L335.79 124.9 L336.29 124.9 L336.79 124.9 L337.29 124.9 L337.79 124.9 L338.29 124.9 L338.79 124.9 L339.29 124.9 L339.79 124.9 L340.29 124.9 L340.79 124.9 L341.29 124.9 L341.78 124.9 L342.28 124.9 L342.78 124.9 L343.28 124.9 L343.78 124.9 L344.28 124.9 L344.78 124.9 L345.28 124.9 L345.78 124.9 L346.28 124.9 L346.78 124.9 L347.28 124.9 L347.78 124.9 L348.28 124.9 L348.78 124.9 L349.28 124.9 L349.78 124.9 L350.28 124.9 L350.78 124.9 L351.28 124.9 L351.78 124.9 L352.28 124.9 L352.78 124.9 L353.28 124.9 L353.78 124.9 L354.28 124.9 L354.78 124.9 L355.28 124.9 L355.78 124.9 L356.28 124.9 L356.78 124.9 L357.28 124.9 L357.78 124.9 L358.28 124.9 L358.78 124.9 L359.28 124.9 L359.78 124.9 L360.28 124.9 L360.78 124.9 L361.28 124.9 L361.78 124.9 L362.27 124.9 L362.77 124.9 L363.27 124.9 L363.77 124.9 L364.27 124.9 L364.77 124.9 L365.27 124.9 L365.77 124.9 L366.27 124.9 L366.77 124.9 L367.27 124.9 L367.77 124.9 L368.27 124.9 L368.77 124.9 L369.27 124.9 L369.77 124.9 L370.27 124.9 L370.77 124.9 L371.27 124.9 L371.77 124.9 L372.27 124.9 L372.77 124.9 L373.27 124.9 L373.77 124.9 L374.27 124.9 L374.77 124.9 L375.27 124.9 L375.77 124.9 L376.27 124.9 L376.77 124.9 L377.27 124.9 L377.77 124.9 L378.27 124.9 L378.77 124.9 L379.27 124.9 L379.77 124.9 L380.27 124.9 L380.77 124.9 L381.27 124.9 L381.77 124.9 L382.27 124.9 L382.76 124.9 L383.26 124.9 L383.76 124.9 L384.26 124.9 L384.76 124.9 L385.26 124.9 L385.76 124.9 L386.26 124.9 L386.76 124.9 L387.26 124.9 L387.76 124.9 L388.26 124.9 L388.76 124.9 L389.26 124.9 L389.76 124.9 L390.26 124.9 L390.76 124.9 L391.26 124.9 L391.76 124.9 L392.26 124.9 L392.76 124.9 L393.26 124.9 L393.76 124.9 L394.26 124.9 L394.76 124.9 L395.26 124.9 L395.76 124.9 L396.26 124.9 L396.76 124.9 L397.26 124.9 L397.76 124.9 L398.26 124.9 L398.76 124.9 L399.26 124.9 L399.76 124.9 L400.26 124.89 L400.76 124.89 L401.26 124.88 L401.76 124.86 L402.26 124.83 L402.76 124.78 L403.26 124.71 L403.75 124.59 L404.25 124.42 L404.75 124.16 L405.25 123.79 L405.75 123.28 L406.25 122.58 L406.75 121.64 L407.25 120.43 L407.75 118.9 L408.25 117.03 L408.75 114.79 L409.25 112.2 L409.75 109.28 L410.25 106.12 L410.75 102.8 L411.25 99.46 L411.75 96.25 L412.25 93.34 L412.75 90.88 L413.25 89.02 L413.75 87.88 L414.25 87.54 L414.75 88 L415.25 89.25 L415.75 91.21 L416.25 93.75 L416.75 96.72 L417.25 99.96 L417.75 103.3 L418.25 106.6 L418.75 109.74 L419.25 112.61 L419.75 115.15 L420.25 117.33 L420.75 119.15 L421.25 120.63 L421.75 121.8 L422.25 122.69 L422.75 123.37 L423.25 123.86 L423.75 124.21 L424.24 124.45 L424.74 124.61 L425.24 124.72 L425.74 124.79 L426.24 124.83 L426.74 124.86 L427.24 124.88 L427.74 124.89 L428.24 124.89 L428.74 124.9 L429.24 124.9 L429.74 124.9 L430.24 124.9 L430.74 124.9 L431.24 124.9 L431.74 124.9 L432.24 124.9 L432.74 124.9 L433.24 124.9 L433.74 124.9 L434.24 124.9 L434.74 124.9 L435.24 124.9 L435.74 124.9 L436.24 124.9 L436.74 124.9 L437.24 124.9 L437.74 124.9 L438.24 124.9 L438.74 124.9 L439.24 124.9 L439.74 124.9 L440.24 124.9 L440.74 124.9 L441.24 124.9 L441.74 124.9 L442.24 124.9 L442.74 124.9 L443.24 124.9 L443.74 124.9 L444.24 124.9 L444.74 124.9 L445.23 124.9 L445.73 124.9 L446.23 124.9 L446.73 124.9 L447.23 124.9 L447.73 124.9 L448.23 124.9 L448.73 124.9 L449.23 124.9 L449.73 124.9 L450.23 124.9 L450.73 124.9 L451.23 124.9 L451.73 124.9 L452.23 124.9 L452.73 124.9 L453.23 124.9 L453.73 124.9 L454.23 124.9 L454.73 124.9 L455.23 124.9 L455.73 124.9 L456.23 124.9 L456.73 124.9 L457.23 124.9 L457.73 124.9 L458.23 124.9 L458.73 124.9 L459.23 124.9 L459.73 124.9 L460.23 124.9 L460.73 124.9 L461.23 124.9 L461.73 124.9 L462.23 124.9 L462.73 124.9 L463.23 124.9 L463.73 124.9 L464.23 124.9 L464.73 124.9 L465.23 124.9 L465.72 124.9 L466.22 124.9 L466.72 124.9 L467.22 124.9 L467.72 124.9 L468.22 124.9 L468.72 124.9 L469.22 124.9 L469.72 124.9 L470.22 124.9 L470.72 124.9 L471.22 124.9 L471.72 124.9 L472.22 124.9 L472.72 124.9 L473.22 124.9 L473.72 124.9 L474.22 124.9 L474.72 124.9 L475.22 124.9 L475.72 124.9 L476.22 124.9 L476.72 124.9 L477.22 124.9 L477.72 124.9 L478.22 124.9 L478.72 124.9 L479.22 124.9 L479.72 124.9 L480.22 124.9 L480.72 124.9 L481.22 124.9 L481.72 124.9 L482.22 124.9 L482.72 124.9 L483.22 124.9 L483.72 124.9 L484.22 124.9 L484.72 124.9 L485.22 124.9 L485.72 124.9 L486.21 124.9 L486.71 124.9 L487.21 124.9 L487.71 124.9 L488.21 124.9 L488.71 124.9 L489.21 124.9 L489.71 124.9 L490.21 124.9 L490.71 124.9 L491.21 124.9 L491.71 124.9 L492.21 124.9 L492.71 124.9 L493.21 124.9 L493.71 124.9 L494.21 124.9 L494.71 124.9 L495.21 124.9 L495.71 124.9 L496.21 124.9 L496.71 124.9 L497.21 124.9 L497.71 124.9 L498.21 124.9 L498.71 124.9 L499.21 124.9 L499.71 124.9 L500.21 124.9 L500.71 124.9 L501.21 124.9 L501.71 124.9 L502.21 124.9 L502.71 124.9 L503.21 124.9 L503.71 124.9 L504.21 124.9 L504.71 124.9 L505.21 124.9 L505.71 124.9 L506.21 124.9 L506.71 124.9 L507.2 124.9 L507.7 124.9 L508.2 124.9 L508.7 124.9 L509.2 124.9 L509.7 124.9 L510.2 124.9 L510.7 124.9 L511.2 124.9 L511.7 124.9 L512.2 124.9 L512.7 124.9 L513.2 124.9 L513.7 124.9 L514.2 124.9 L514.7 124.9 L515.2 124.9 L515.7 124.9 L516.2 124.9 L516.7 124.9 L517.2 124.9" fill="none" stroke="#ff0000" stroke-width="2"/></g>
<text transform="translate(342.9,0) scale(1.07,1)" x="0" y="197.1" font-size="14.4" text-anchor="middle"><tspan>–</tspan><tspan dx="1.3">100</tspan></text>
<text transform="translate(384.75,0) scale(1.07,1)" x="0" y="197.1" font-size="14.4" text-anchor="middle">0</text>
<text transform="translate(426.6,0) scale(1.07,1)" x="0" y="197.1" font-size="14.4" text-anchor="middle">100</text>
<text transform="translate(468.45,0) scale(1.07,1)" x="0" y="197.1" font-size="14.4" text-anchor="middle">200</text>
<text transform="translate(510.3,0) scale(1.07,1)" x="0" y="197.1" font-size="14.4" text-anchor="middle">300</text>
<text transform="translate(303.7,0) scale(1.07,1)" x="0" y="9.9" font-size="14.4" text-anchor="end">10</text>
<text transform="translate(303.7,0) scale(1.07,1)" x="0" y="69.4" font-size="14.4" text-anchor="end">5</text>
<text transform="translate(303.7,0) scale(1.07,1)" x="0" y="128.9" font-size="14.4" text-anchor="end">0</text>
<text x="385.9" y="161.9" fill="#ff0000" style="stroke:#ff0000;stroke-width:0.3px" font-size="14">6<tspan font-size="9.8" dx="1.0" dy="4.2">1,5</tspan><tspan dy="-4.7" dx="1.0">–</tspan><tspan dx="2.6" dy="0.5">6</tspan><tspan font-size="9.8" dx="1.0" dy="4.2">0,6</tspan></text>
<rect x="551.9" y="5.5" width="207.1" height="172.5" fill="none" stroke="#000" stroke-width="1.3"/>
<path d="M571.4 178v-3 M571.4 5.5v3 M591.1 178v-3 M591.1 5.5v3 M610.8 178v-3 M610.8 5.5v3 M630.5 178v-6 M630.5 5.5v6 M650.2 178v-3 M650.2 5.5v3 M669.9 178v-3 M669.9 5.5v3 M689.6 178v-3 M689.6 5.5v3 M709.3 178v-6 M709.3 5.5v6 M729 178v-3 M729 5.5v3 M748.7 178v-3 M748.7 5.5v3 M551.9 172.75h6 M759 172.75h-6 M551.9 161.6h3 M759 161.6h-3 M551.9 150.45h3 M759 150.45h-3 M551.9 139.3h3 M759 139.3h-3 M551.9 128.15h3 M759 128.15h-3 M551.9 117h6 M759 117h-6 M551.9 105.85h3 M759 105.85h-3 M551.9 94.7h3 M759 94.7h-3 M551.9 83.55h3 M759 83.55h-3 M551.9 72.4h3 M759 72.4h-3 M551.9 61.25h6 M759 61.25h-6 M551.9 50.1h3 M759 50.1h-3 M551.9 38.95h3 M759 38.95h-3 M551.9 27.8h3 M759 27.8h-3 M551.9 16.65h3 M759 16.65h-3" stroke="#000" stroke-width="1.2" fill="none"/>
<g clip-path="url(#c2)"><path d="M551.9 117 L551.9 -20 L553 -20 L553 15 L555 15 L555 25 L556.5 25 L556.5 8 L558 8 L558 14 L560 14 L560 -20 L560.8 -20 L560.8 40 L562 40 L562 52 L563.3 52 L563.3 60 L565 60 L565 82 L566.5 82 L566.5 60 L568 60 L568 84 L569.5 84 L569.5 95 L571 95 L571 108 L572.6 108 L572.6 122 L574.2 122 L574.2 134 L575.4 134 L575.4 141 L576.6 141 L576.6 178.5 L578.2 178.5 L578.2 -20 L592.3 -20 L592.3 58.4 L593.3 58.4 L593.3 86.5 L596.3 86.5 L596.3 75 L598.3 75 L598.3 70 L600.3 70 L600.3 47.3 L602.3 47.3 L602.3 66.4 L604.4 66.4 L604.4 84.5 L606.4 84.5 L606.4 95 L608.2 95 L608.2 109 L610.6 109 L610.6 124.2 L612.1 124.2 L612.1 121 L614.5 121 L614.5 128.2 L616.1 128.2 L616.1 137.7 L618.5 137.7 L618.5 140.8 L620.8 140.8 L620.8 145.6 L622.4 145.6 L622.4 142.4 L624 142.4 L624 131.3 L625.6 131.3 L625.6 117.1 L627.1 117.1 L627.1 102.9 L628.7 102.9 L628.7 118.7 L630.3 118.7 L630.3 107.6 L631.9 107.6 L631.9 110.8 L633.5 110.8 L633.5 98.2 L634.5 98.2 L634.5 54.3 L636.5 54.3 L636.5 98 L637.6 98 L637.6 123.4 L638.2 123.4 L638.2 142.4 L639.8 142.4 L639.8 125 L642.2 125 L642.2 147.1 L644.5 147.1 L644.5 126.6 L646.9 126.6 L646.9 132.9 L648.5 132.9 L648.5 114 L650.1 114 L650.1 109.2 L652.4 109.2 L652.4 100.6 L653.1 100.6 L653.1 86.5 L654.5 86.5 L654.5 44.3 L656.5 44.3 L656.5 48.3 L658.1 48.3 L658.1 76.5 L660.1 76.5 L660.1 94.6 L661.2 94.6 L661.2 112 L662.6 112 L662.6 120.4 L664 120.4 L664 131.4 L665.4 131.4 L665.4 153.5 L666.2 153.5 L666.2 167.3 L667.4 167.3 L667.4 145.2 L668.8 145.2 L668.8 139.7 L670.2 139.7 L670.2 137 L671.6 137 L671.6 127.3 L673 127.3 L673 123.1 L674.3 123.1 L674.3 92.8 L675.7 92.8 L675.7 116.2 L678.2 116.2 L678.2 104.6 L680.2 104.6 L680.2 82.5 L682.3 82.5 L682.3 90.5 L684.3 90.5 L684.3 120.7 L686.3 120.7 L686.3 96.6 L688.3 96.6 L688.3 84.5 L690.3 84.5 L690.3 98.6 L692.3 98.6 L692.3 120.7 L694.3 120.7 L694.3 36.2 L696.3 36.2 L696.3 -20 L709.4 -20 L709.4 60.4 L711.6 60.4 L711.6 112.3 L713 112.3 L713 121.8 L714.4 121.8 L714.4 126 L716.5 126 L716.5 138.3 L717.8 138.3 L717.8 130 L719.2 130 L719.2 123.1 L721.3 123.1 L721.3 128.7 L722.7 128.7 L722.7 135.6 L724.1 135.6 L724.1 153.5 L725.4 153.5 L725.4 134.2 L726.8 134.2 L726.8 124.5 L728.2 124.5 L728.2 117.6 L730.3 117.6 L730.3 100.6 L731.5 100.6 L731.5 68.4 L733.6 68.4 L733.6 72.4 L736.6 72.4 L736.6 100.6 L738.6 100.6 L738.6 112.7 L740.6 112.7 L740.6 66.4 L742.6 66.4 L742.6 76.5 L744.6 76.5 L744.6 48.3 L746.6 48.3 L746.6 36.2 L748.7 36.2 L748.7 33.2 L750.7 33.2 L750.7 104.6 L753.1 104.6 L753.1 123.1 L754.4 123.1 L754.4 142.5 L756.5 142.5 L756.5 148 L757.9 148 L757.9 138.3 L759.5 138.3 L759.5 117 Z" fill="#ececec" stroke="none"/><path d="M551.9 -20 L553 -20 L553 15 L555 15 L555 25 L556.5 25 L556.5 8 L558 8 L558 14 L560 14 L560 -20 L560.8 -20 L560.8 40 L562 40 L562 52 L563.3 52 L563.3 60 L565 60 L565 82 L566.5 82 L566.5 60 L568 60 L568 84 L569.5 84 L569.5 95 L571 95 L571 108 L572.6 108 L572.6 122 L574.2 122 L574.2 134 L575.4 134 L575.4 141 L576.6 141 L576.6 178.5 L578.2 178.5 L578.2 -20 L592.3 -20 L592.3 58.4 L593.3 58.4 L593.3 86.5 L596.3 86.5 L596.3 75 L598.3 75 L598.3 70 L600.3 70 L600.3 47.3 L602.3 47.3 L602.3 66.4 L604.4 66.4 L604.4 84.5 L606.4 84.5 L606.4 95 L608.2 95 L608.2 109 L610.6 109 L610.6 124.2 L612.1 124.2 L612.1 121 L614.5 121 L614.5 128.2 L616.1 128.2 L616.1 137.7 L618.5 137.7 L618.5 140.8 L620.8 140.8 L620.8 145.6 L622.4 145.6 L622.4 142.4 L624 142.4 L624 131.3 L625.6 131.3 L625.6 117.1 L627.1 117.1 L627.1 102.9 L628.7 102.9 L628.7 118.7 L630.3 118.7 L630.3 107.6 L631.9 107.6 L631.9 110.8 L633.5 110.8 L633.5 98.2 L634.5 98.2 L634.5 54.3 L636.5 54.3 L636.5 98 L637.6 98 L637.6 123.4 L638.2 123.4 L638.2 142.4 L639.8 142.4 L639.8 125 L642.2 125 L642.2 147.1 L644.5 147.1 L644.5 126.6 L646.9 126.6 L646.9 132.9 L648.5 132.9 L648.5 114 L650.1 114 L650.1 109.2 L652.4 109.2 L652.4 100.6 L653.1 100.6 L653.1 86.5 L654.5 86.5 L654.5 44.3 L656.5 44.3 L656.5 48.3 L658.1 48.3 L658.1 76.5 L660.1 76.5 L660.1 94.6 L661.2 94.6 L661.2 112 L662.6 112 L662.6 120.4 L664 120.4 L664 131.4 L665.4 131.4 L665.4 153.5 L666.2 153.5 L666.2 167.3 L667.4 167.3 L667.4 145.2 L668.8 145.2 L668.8 139.7 L670.2 139.7 L670.2 137 L671.6 137 L671.6 127.3 L673 127.3 L673 123.1 L674.3 123.1 L674.3 92.8 L675.7 92.8 L675.7 116.2 L678.2 116.2 L678.2 104.6 L680.2 104.6 L680.2 82.5 L682.3 82.5 L682.3 90.5 L684.3 90.5 L684.3 120.7 L686.3 120.7 L686.3 96.6 L688.3 96.6 L688.3 84.5 L690.3 84.5 L690.3 98.6 L692.3 98.6 L692.3 120.7 L694.3 120.7 L694.3 36.2 L696.3 36.2 L696.3 -20 L709.4 -20 L709.4 60.4 L711.6 60.4 L711.6 112.3 L713 112.3 L713 121.8 L714.4 121.8 L714.4 126 L716.5 126 L716.5 138.3 L717.8 138.3 L717.8 130 L719.2 130 L719.2 123.1 L721.3 123.1 L721.3 128.7 L722.7 128.7 L722.7 135.6 L724.1 135.6 L724.1 153.5 L725.4 153.5 L725.4 134.2 L726.8 134.2 L726.8 124.5 L728.2 124.5 L728.2 117.6 L730.3 117.6 L730.3 100.6 L731.5 100.6 L731.5 68.4 L733.6 68.4 L733.6 72.4 L736.6 72.4 L736.6 100.6 L738.6 100.6 L738.6 112.7 L740.6 112.7 L740.6 66.4 L742.6 66.4 L742.6 76.5 L744.6 76.5 L744.6 48.3 L746.6 48.3 L746.6 36.2 L748.7 36.2 L748.7 33.2 L750.7 33.2 L750.7 104.6 L753.1 104.6 L753.1 123.1 L754.4 123.1 L754.4 142.5 L756.5 142.5 L756.5 148 L757.9 148 L757.9 138.3 L759.5 138.3 " fill="none" stroke="#767676" stroke-width="1.25" stroke-linejoin="miter"/><path d="M551.9 117 L552.4 117 L552.9 117 L553.4 117 L553.9 117 L554.4 117 L554.89 117 L555.39 117 L555.89 116.99 L556.39 116.99 L556.89 116.98 L557.39 116.96 L557.89 116.93 L558.39 116.9 L558.89 116.84 L559.39 116.75 L559.88 116.63 L560.38 116.46 L560.88 116.22 L561.38 115.89 L561.88 115.46 L562.38 114.9 L562.88 114.18 L563.38 113.28 L563.88 112.19 L564.38 110.89 L564.87 109.39 L565.37 107.68 L565.87 105.8 L566.37 103.79 L566.87 101.7 L567.37 99.6 L567.87 97.57 L568.37 95.7 L568.87 94.07 L569.37 92.76 L569.87 91.85 L570.36 91.36 L570.86 91.33 L571.36 91.74 L571.86 92.55 L572.36 93.71 L572.86 95.11 L573.36 96.65 L573.86 98.18 L574.36 99.54 L574.86 100.57 L575.35 101.07 L575.85 100.83 L576.35 99.63 L576.85 97.21 L577.35 93.3 L577.85 87.58 L578.35 79.73 L578.85 69.43 L579.35 56.35 L579.85 40.2 L580.35 20.73 L580.84 -2.2 L581.34 -28.62 L581.84 -58.38 L582.34 -91.17 L582.84 -126.47 L583.34 -163.54 L583.84 -201.44 L584.34 -239.08 L584.84 -275.22 L585.34 -308.58 L585.83 -337.88 L586.33 -361.93 L586.83 -379.72 L587.33 -390.47 L587.83 -393.72 L588.33 -389.32 L588.83 -377.49 L589.33 -358.76 L589.83 -333.98 L590.33 -304.22 L590.82 -270.72 L591.32 -234.81 L591.82 -197.86 L592.32 -161.13 L592.82 -125.8 L593.32 -92.91 L593.82 -63.32 L594.32 -37.76 L594.82 -16.82 L595.32 -0.93 L595.82 9.82 L596.31 15.78 L596.81 17.84 L597.31 17.22 L597.81 15.03 L598.31 11.89 L598.81 7.88 L599.31 2.87 L599.81 -3.14 L600.31 -9.76 L600.81 -16.3 L601.3 -22 L601.8 -26.19 L602.3 -28.39 L602.8 -28.32 L603.3 -25.89 L603.8 -21.17 L604.3 -14.36 L604.8 -5.78 L605.3 4.2 L605.8 15.13 L606.29 26.57 L606.79 38.1 L607.29 49.33 L607.79 59.96 L608.29 69.74 L608.79 78.51 L609.29 86.19 L609.79 92.76 L610.29 98.26 L610.79 102.76 L611.29 106.36 L611.78 109.19 L612.28 111.36 L612.78 113 L613.28 114.21 L613.78 115.09 L614.28 115.71 L614.78 116.15 L615.28 116.45 L615.78 116.65 L616.28 116.78 L616.77 116.86 L617.27 116.92 L617.77 116.95 L618.27 116.97 L618.77 116.98 L619.27 116.99 L619.77 116.99 L620.27 117 L620.77 117 L621.27 116.99 L621.77 116.99 L622.26 116.98 L622.76 116.97 L623.26 116.95 L623.76 116.92 L624.26 116.87 L624.76 116.8 L625.26 116.69 L625.76 116.53 L626.26 116.31 L626.76 116.01 L627.25 115.6 L627.75 115.05 L628.25 114.35 L628.75 113.46 L629.25 112.36 L629.75 111.03 L630.25 109.47 L630.75 107.69 L631.25 105.7 L631.75 103.55 L632.24 101.3 L632.74 99.01 L633.24 96.79 L633.74 94.72 L634.24 92.91 L634.74 91.45 L635.24 90.42 L635.74 89.88 L636.24 89.85 L636.74 90.33 L637.24 91.31 L637.73 92.73 L638.23 94.5 L638.73 96.54 L639.23 98.75 L639.73 101.04 L640.23 103.3 L640.73 105.46 L641.23 107.47 L641.73 109.28 L642.23 110.87 L642.72 112.22 L643.22 113.34 L643.72 114.25 L644.22 114.97 L644.72 115.53 L645.22 115.94 L645.72 116.23 L646.22 116.42 L646.72 116.52 L647.22 116.54 L647.71 116.46 L648.21 116.29 L648.71 115.99 L649.21 115.54 L649.71 114.88 L650.21 113.98 L650.71 112.76 L651.21 111.18 L651.71 109.17 L652.21 106.7 L652.71 103.72 L653.2 100.26 L653.7 96.34 L654.2 92.05 L654.7 87.51 L655.2 82.89 L655.7 78.38 L656.2 74.22 L656.7 70.62 L657.2 67.79 L657.7 65.9 L658.19 65.07 L658.69 65.36 L659.19 66.74 L659.69 69.13 L660.19 72.38 L660.69 76.3 L661.19 80.66 L661.69 85.25 L662.19 89.86 L662.69 94.29 L663.19 98.4 L663.68 102.09 L664.18 105.31 L664.68 108.03 L665.18 110.26 L665.68 112.05 L666.18 113.44 L666.68 114.49 L667.18 115.27 L667.68 115.83 L668.18 116.23 L668.67 116.5 L669.17 116.69 L669.67 116.81 L670.17 116.88 L670.67 116.93 L671.17 116.95 L671.67 116.97 L672.17 116.97 L672.67 116.96 L673.17 116.94 L673.66 116.9 L674.16 116.84 L674.66 116.74 L675.16 116.58 L675.66 116.35 L676.16 116.03 L676.66 115.58 L677.16 114.99 L677.66 114.22 L678.16 113.26 L678.66 112.1 L679.15 110.76 L679.65 109.27 L680.15 107.69 L680.65 106.08 L681.15 104.54 L681.65 103.17 L682.15 102.07 L682.65 101.31 L683.15 100.96 L683.65 101.05 L684.14 101.56 L684.64 102.46 L685.14 103.67 L685.64 105.1 L686.14 106.66 L686.64 108.23 L687.14 109.73 L687.64 111.08 L688.14 112.22 L688.64 113.12 L689.13 113.74 L689.63 114.08 L690.13 114.1 L690.63 113.79 L691.13 113.11 L691.63 112.03 L692.13 110.46 L692.63 108.33 L693.13 105.53 L693.63 101.95 L694.13 97.44 L694.62 91.88 L695.12 85.11 L695.62 77 L696.12 67.44 L696.62 56.35 L697.12 43.68 L697.62 29.44 L698.12 13.72 L698.62 -3.34 L699.12 -21.5 L699.61 -40.45 L700.11 -59.81 L700.61 -79.13 L701.11 -97.9 L701.61 -115.59 L702.11 -131.65 L702.61 -145.58 L703.11 -156.9 L703.61 -165.22 L704.11 -170.24 L704.61 -171.78 L705.1 -169.77 L705.6 -164.31 L706.1 -155.57 L706.6 -143.88 L707.1 -129.64 L707.6 -113.32 L708.1 -95.46 L708.6 -76.59 L709.1 -57.24 L709.6 -37.91 L710.09 -19.04 L710.59 -1.01 L711.09 15.88 L711.59 31.42 L712.09 45.45 L712.59 57.91 L713.09 68.8 L713.59 78.16 L714.09 86.09 L714.59 92.69 L715.08 98.12 L715.58 102.52 L716.08 106.02 L716.58 108.78 L717.08 110.91 L717.58 112.54 L718.08 113.76 L718.58 114.66 L719.08 115.3 L719.58 115.74 L720.08 116.01 L720.57 116.14 L721.07 116.15 L721.57 116.04 L722.07 115.8 L722.57 115.42 L723.07 114.89 L723.57 114.16 L724.07 113.22 L724.57 112.02 L725.07 110.54 L725.56 108.74 L726.06 106.61 L726.56 104.13 L727.06 101.32 L727.56 98.19 L728.06 94.81 L728.56 91.23 L729.06 87.55 L729.56 83.89 L730.06 80.36 L730.55 77.11 L731.05 74.27 L731.55 71.95 L732.05 70.26 L732.55 69.29 L733.05 69.07 L733.55 69.63 L734.05 70.92 L734.55 72.9 L735.05 75.46 L735.55 78.5 L736.04 81.89 L736.54 85.5 L737.04 89.18 L737.54 92.83 L738.04 96.33 L738.54 99.61 L739.04 102.6 L739.54 105.27 L740.04 107.59 L740.54 109.58 L741.03 111.24 L741.53 112.6 L742.03 113.69 L742.53 114.55 L743.03 115.22 L743.53 115.72 L744.03 116.1 L744.53 116.38 L745.03 116.57 L745.53 116.71 L746.03 116.8 L746.52 116.86 L747.02 116.9 L747.52 116.92 L748.02 116.92 L748.52 116.9 L749.02 116.87 L749.52 116.81 L750.02 116.73 L750.52 116.6 L751.02 116.43 L751.51 116.18 L752.01 115.85 L752.51 115.41 L753.01 114.83 L753.51 114.08 L754.01 113.13 L754.51 111.94 L755.01 110.47 L755.51 108.7 L756.01 106.6 L756.5 104.15 L757 101.35 L757.5 98.21 L758 94.75 L758.5 91.03 L759 87.12" fill="none" stroke="#0000ff" stroke-width="2"/><path d="M551.9 117 L552.4 117 L552.9 117 L553.4 117 L553.9 117 L554.4 117 L554.89 117 L555.39 117 L555.89 117 L556.39 117 L556.89 117 L557.39 117 L557.89 117 L558.39 117 L558.89 117 L559.39 117 L559.88 117 L560.38 117 L560.88 117 L561.38 117 L561.88 117 L562.38 117 L562.88 117 L563.38 117 L563.88 117 L564.38 117 L564.87 117 L565.37 117 L565.87 117 L566.37 117 L566.87 117 L567.37 117 L567.87 117 L568.37 117 L568.87 117 L569.37 117 L569.87 117 L570.36 117 L570.86 117 L571.36 117 L571.86 117 L572.36 117 L572.86 117 L573.36 117 L573.86 117 L574.36 117 L574.86 117 L575.35 117 L575.85 117 L576.35 117 L576.85 117 L577.35 117 L577.85 117 L578.35 117 L578.85 117 L579.35 117 L579.85 117 L580.35 117 L580.84 117 L581.34 117 L581.84 117 L582.34 117 L582.84 117 L583.34 117 L583.84 117 L584.34 117 L584.84 117 L585.34 117 L585.83 117 L586.33 117 L586.83 117 L587.33 117 L587.83 117 L588.33 117 L588.83 117 L589.33 117 L589.83 117 L590.33 117 L590.82 117 L591.32 117 L591.82 117 L592.32 117 L592.82 117 L593.32 117 L593.82 117 L594.32 117 L594.82 117 L595.32 117 L595.82 117 L596.31 117 L596.81 117 L597.31 117 L597.81 117 L598.31 117 L598.81 117 L599.31 117 L599.81 117 L600.31 117 L600.81 117 L601.3 117 L601.8 117 L602.3 117 L602.8 117 L603.3 117 L603.8 117 L604.3 117 L604.8 117 L605.3 117 L605.8 117 L606.29 117 L606.79 117 L607.29 117 L607.79 117 L608.29 117 L608.79 117 L609.29 117 L609.79 117 L610.29 117 L610.79 117 L611.29 117 L611.78 117 L612.28 117 L612.78 117 L613.28 117 L613.78 117 L614.28 117 L614.78 117 L615.28 117 L615.78 117 L616.28 117 L616.77 117 L617.27 117 L617.77 117 L618.27 117 L618.77 117 L619.27 117 L619.77 117 L620.27 117 L620.77 117 L621.27 117 L621.77 117 L622.26 117 L622.76 117 L623.26 117 L623.76 117 L624.26 117 L624.76 117 L625.26 117 L625.76 117 L626.26 117 L626.76 117 L627.25 117 L627.75 117 L628.25 117 L628.75 117 L629.25 117 L629.75 117 L630.25 117 L630.75 117 L631.25 117 L631.75 117 L632.24 117 L632.74 117 L633.24 117 L633.74 117 L634.24 117 L634.74 117 L635.24 117 L635.74 117 L636.24 117 L636.74 117 L637.24 117 L637.73 117 L638.23 117 L638.73 117 L639.23 117 L639.73 117 L640.23 117 L640.73 117 L641.23 117 L641.73 117 L642.23 117 L642.72 117 L643.22 117 L643.72 116.99 L644.22 116.99 L644.72 116.98 L645.22 116.97 L645.72 116.95 L646.22 116.91 L646.72 116.85 L647.22 116.75 L647.71 116.6 L648.21 116.38 L648.71 116.05 L649.21 115.57 L649.71 114.9 L650.21 113.99 L650.71 112.77 L651.21 111.18 L651.71 109.18 L652.21 106.7 L652.71 103.72 L653.2 100.26 L653.7 96.34 L654.2 92.05 L654.7 87.51 L655.2 82.89 L655.7 78.38 L656.2 74.22 L656.7 70.62 L657.2 67.79 L657.7 65.9 L658.19 65.07 L658.69 65.36 L659.19 66.74 L659.69 69.13 L660.19 72.38 L660.69 76.3 L661.19 80.66 L661.69 85.25 L662.19 89.86 L662.69 94.29 L663.19 98.4 L663.68 102.09 L664.18 105.31 L664.68 108.03 L665.18 110.26 L665.68 112.05 L666.18 113.44 L666.68 114.49 L667.18 115.27 L667.68 115.83 L668.18 116.23 L668.67 116.5 L669.17 116.69 L669.67 116.81 L670.17 116.88 L670.67 116.93 L671.17 116.96 L671.67 116.98 L672.17 116.99 L672.67 116.99 L673.17 117 L673.66 117 L674.16 117 L674.66 117 L675.16 117 L675.66 117 L676.16 117 L676.66 117 L677.16 117 L677.66 117 L678.16 117 L678.66 117 L679.15 117 L679.65 117 L680.15 117 L680.65 117 L681.15 117 L681.65 117 L682.15 117 L682.65 117 L683.15 117 L683.65 117 L684.14 117 L684.64 117 L685.14 117 L685.64 117 L686.14 117 L686.64 117 L687.14 117 L687.64 117 L688.14 117 L688.64 117 L689.13 117 L689.63 117 L690.13 117 L690.63 117 L691.13 117 L691.63 117 L692.13 117 L692.63 117 L693.13 117 L693.63 117 L694.13 117 L694.62 117 L695.12 117 L695.62 117 L696.12 117 L696.62 117 L697.12 117 L697.62 117 L698.12 117 L698.62 117 L699.12 117 L699.61 117 L700.11 117 L700.61 117 L701.11 117 L701.61 117 L702.11 117 L702.61 117 L703.11 117 L703.61 117 L704.11 117 L704.61 117 L705.1 117 L705.6 117 L706.1 117 L706.6 117 L707.1 117 L707.6 117 L708.1 117 L708.6 117 L709.1 117 L709.6 117 L710.09 117 L710.59 117 L711.09 117 L711.59 117 L712.09 117 L712.59 117 L713.09 117 L713.59 117 L714.09 117 L714.59 117 L715.08 117 L715.58 117 L716.08 117 L716.58 117 L717.08 117 L717.58 117 L718.08 117 L718.58 117 L719.08 117 L719.58 117 L720.08 117 L720.57 117 L721.07 117 L721.57 117 L722.07 117 L722.57 117 L723.07 117 L723.57 117 L724.07 117 L724.57 117 L725.07 117 L725.56 117 L726.06 117 L726.56 117 L727.06 117 L727.56 117 L728.06 117 L728.56 117 L729.06 117 L729.56 117 L730.06 117 L730.55 117 L731.05 117 L731.55 117 L732.05 117 L732.55 117 L733.05 117 L733.55 117 L734.05 117 L734.55 117 L735.05 117 L735.55 117 L736.04 117 L736.54 117 L737.04 117 L737.54 117 L738.04 117 L738.54 117 L739.04 117 L739.54 117 L740.04 117 L740.54 117 L741.03 117 L741.53 117 L742.03 117 L742.53 117 L743.03 117 L743.53 117 L744.03 117 L744.53 117 L745.03 117 L745.53 117 L746.03 117 L746.52 117 L747.02 117 L747.52 117 L748.02 117 L748.52 117 L749.02 117 L749.52 117 L750.02 117 L750.52 117 L751.02 117 L751.51 117 L752.01 117 L752.51 117 L753.01 117 L753.51 117 L754.01 117 L754.51 117 L755.01 117 L755.51 117 L756.01 117 L756.5 117 L757 117 L757.5 117 L758 117 L758.5 117 L759 117" fill="none" stroke="#ff0000" stroke-width="2"/></g>
<text transform="translate(551.7,0) scale(1.07,1)" x="0" y="194.8" font-size="12.7" text-anchor="middle"><tspan>–</tspan><tspan dx="1.3">200</tspan></text>
<text transform="translate(630.5,0) scale(1.07,1)" x="0" y="194.8" font-size="12.7" text-anchor="middle">0</text>
<text transform="translate(709.3,0) scale(1.07,1)" x="0" y="194.8" font-size="12.7" text-anchor="middle">200</text>
<text transform="translate(545.7,0) scale(1.07,1)" x="0" y="9.4" font-size="12.7" text-anchor="end">10</text>
<text transform="translate(545.7,0) scale(1.07,1)" x="0" y="65.15" font-size="12.7" text-anchor="end">5</text>
<text transform="translate(545.7,0) scale(1.07,1)" x="0" y="120.9" font-size="12.7" text-anchor="end">0</text>
<text transform="translate(545.7,0) scale(1.07,1)" x="0" y="176.65" font-size="12.7" text-anchor="end"><tspan>–</tspan><tspan dx="1.3">5</tspan></text>
<text x="679.5" y="161.9" fill="#ff0000" style="stroke:#ff0000;stroke-width:0.3px" font-size="14">4<tspan font-size="9.8" dx="1.0" dy="4.2">0,4</tspan><tspan dy="-4.7" dx="1.0">–</tspan><tspan dx="2.6" dy="0.5">3</tspan><tspan font-size="9.8" dx="1.0" dy="4.2">1,3</tspan></text>
<rect x="68.6" y="213" width="206.8" height="172.7" fill="none" stroke="#000" stroke-width="1.3"/>
<path d="M78.28 385.7v-3 M78.28 213v3 M87.96 385.7v-3 M87.96 213v3 M97.64 385.7v-3 M97.64 213v3 M107.32 385.7v-3 M107.32 213v3 M117 385.7v-6 M117 213v6 M126.68 385.7v-3 M126.68 213v3 M136.36 385.7v-3 M136.36 213v3 M146.04 385.7v-3 M146.04 213v3 M155.72 385.7v-3 M155.72 213v3 M165.4 385.7v-6 M165.4 213v6 M175.08 385.7v-3 M175.08 213v3 M184.76 385.7v-3 M184.76 213v3 M194.44 385.7v-3 M194.44 213v3 M204.12 385.7v-3 M204.12 213v3 M213.8 385.7v-6 M213.8 213v6 M223.48 385.7v-3 M223.48 213v3 M233.16 385.7v-3 M233.16 213v3 M242.84 385.7v-3 M242.84 213v3 M252.52 385.7v-3 M252.52 213v3 M262.2 385.7v-6 M262.2 213v6 M271.88 385.7v-3 M271.88 213v3 M68.6 379.88h3 M275.4 379.88h-3 M68.6 367.96h3 M275.4 367.96h-3 M68.6 356.04h3 M275.4 356.04h-3 M68.6 344.12h3 M275.4 344.12h-3 M68.6 332.2h6 M275.4 332.2h-6 M68.6 320.28h3 M275.4 320.28h-3 M68.6 308.36h3 M275.4 308.36h-3 M68.6 296.44h3 M275.4 296.44h-3 M68.6 284.52h3 M275.4 284.52h-3 M68.6 272.6h6 M275.4 272.6h-6 M68.6 260.68h3 M275.4 260.68h-3 M68.6 248.76h3 M275.4 248.76h-3 M68.6 236.84h3 M275.4 236.84h-3 M68.6 224.92h3 M275.4 224.92h-3" stroke="#000" stroke-width="1.2" fill="none"/>
<g clip-path="url(#c3)"><path d="M68.6 332.2 L68.6 243.56 L70.98 243.56 L70.98 322.51 L73.61 322.51 L73.61 329.47 L75.16 329.47 L75.16 336.44 L76.24 336.44 L76.24 344.18 L77.17 344.18 L77.17 356.56 L78.25 356.56 L78.25 370.5 L79.34 370.5 L79.34 398.36 L90.64 398.36 L90.64 375.14 L92.19 375.14 L92.19 364.3 L93.73 364.3 L93.73 351.92 L95.28 351.92 L95.28 339.54 L96.83 339.54 L96.83 327.15 L98.38 327.15 L98.38 320.19 L99.93 320.19 L99.93 308.58 L101.47 308.58 L101.47 304.71 L103.02 304.71 L103.02 299.29 L104.57 299.29 L104.57 303.93 L106.12 303.93 L106.12 314.77 L107.67 314.77 L107.67 334.89 L109.21 334.89 L109.21 320.19 L110.3 320.19 L110.3 314.77 L111.54 314.77 L111.54 327.15 L113.08 327.15 L113.08 337.99 L114.63 337.99 L114.63 339.54 L116.18 339.54 L116.18 328.7 L117.73 328.7 L117.73 320.96 L119.28 320.96 L119.28 316.32 L120.82 316.32 L120.82 311.67 L122.37 311.67 L122.37 310.12 L123.92 310.12 L123.92 309.35 L125.47 309.35 L125.47 320.96 L127.02 320.96 L127.02 341.08 L128.56 341.08 L128.56 336.44 L130.11 336.44 L130.11 333.34 L131.66 333.34 L131.66 327.15 L133.21 327.15 L133.21 344.18 L134.76 344.18 L134.76 330.25 L136.3 330.25 L136.3 307.03 L138.07 307.03 L138.07 233.65 L140.07 233.65 L140.07 193.54 L160.99 193.54 L160.99 222.19 L162.42 222.19 L162.42 239.38 L163.85 239.38 L163.85 299.56 L165.86 299.56 L165.86 313.88 L168.15 313.88 L168.15 328.21 L170 328.21 L170 313.88 L172.87 313.88 L172.87 331.07 L175.73 331.07 L175.73 305.29 L178.6 305.29 L178.6 305.29 L181.46 305.29 L181.46 308.15 L184.33 308.15 L184.33 303.85 L185.76 303.85 L185.76 328.21 L187.19 328.21 L187.19 288.09 L188.62 288.09 L188.62 253.71 L190.63 253.71 L190.63 235.09 L192.92 235.09 L192.92 245.11 L194.36 245.11 L194.36 245.11 L196.36 245.11 L196.36 258.01 L198.65 258.01 L198.65 279.5 L200.66 279.5 L200.66 313.88 L202.95 313.88 L202.95 331.07 L204.38 331.07 L204.38 351.13 L206.39 351.13 L206.39 333.94 L208.68 333.94 L208.68 339.67 L211.55 339.67 L211.55 335.37 L213.55 335.37 L213.55 308.15 L215.85 308.15 L215.85 333.94 L218.71 333.94 L218.71 336.81 L221 336.81 L221 319.61 L223.01 319.61 L223.01 336.81 L225.87 336.81 L225.87 333.94 L228.74 333.94 L228.74 319.61 L230.74 319.61 L230.74 342.54 L233.04 342.54 L233.04 319.61 L235.04 319.61 L235.04 305.29 L237.34 305.29 L237.34 339.67 L238.77 339.67 L238.77 325.34 L241.63 325.34 L241.63 336.81 L243.93 336.81 L243.93 354 L245.93 354 L245.93 346.83 L247.94 346.83 L247.94 332.2 Z" fill="#ececec" stroke="none"/><path d="M68.6 243.56 L70.98 243.56 L70.98 322.51 L73.61 322.51 L73.61 329.47 L75.16 329.47 L75.16 336.44 L76.24 336.44 L76.24 344.18 L77.17 344.18 L77.17 356.56 L78.25 356.56 L78.25 370.5 L79.34 370.5 L79.34 398.36 L90.64 398.36 L90.64 375.14 L92.19 375.14 L92.19 364.3 L93.73 364.3 L93.73 351.92 L95.28 351.92 L95.28 339.54 L96.83 339.54 L96.83 327.15 L98.38 327.15 L98.38 320.19 L99.93 320.19 L99.93 308.58 L101.47 308.58 L101.47 304.71 L103.02 304.71 L103.02 299.29 L104.57 299.29 L104.57 303.93 L106.12 303.93 L106.12 314.77 L107.67 314.77 L107.67 334.89 L109.21 334.89 L109.21 320.19 L110.3 320.19 L110.3 314.77 L111.54 314.77 L111.54 327.15 L113.08 327.15 L113.08 337.99 L114.63 337.99 L114.63 339.54 L116.18 339.54 L116.18 328.7 L117.73 328.7 L117.73 320.96 L119.28 320.96 L119.28 316.32 L120.82 316.32 L120.82 311.67 L122.37 311.67 L122.37 310.12 L123.92 310.12 L123.92 309.35 L125.47 309.35 L125.47 320.96 L127.02 320.96 L127.02 341.08 L128.56 341.08 L128.56 336.44 L130.11 336.44 L130.11 333.34 L131.66 333.34 L131.66 327.15 L133.21 327.15 L133.21 344.18 L134.76 344.18 L134.76 330.25 L136.3 330.25 L136.3 307.03 L138.07 307.03 L138.07 233.65 L140.07 233.65 L140.07 193.54 L160.99 193.54 L160.99 222.19 L162.42 222.19 L162.42 239.38 L163.85 239.38 L163.85 299.56 L165.86 299.56 L165.86 313.88 L168.15 313.88 L168.15 328.21 L170 328.21 L170 313.88 L172.87 313.88 L172.87 331.07 L175.73 331.07 L175.73 305.29 L178.6 305.29 L178.6 305.29 L181.46 305.29 L181.46 308.15 L184.33 308.15 L184.33 303.85 L185.76 303.85 L185.76 328.21 L187.19 328.21 L187.19 288.09 L188.62 288.09 L188.62 253.71 L190.63 253.71 L190.63 235.09 L192.92 235.09 L192.92 245.11 L194.36 245.11 L194.36 245.11 L196.36 245.11 L196.36 258.01 L198.65 258.01 L198.65 279.5 L200.66 279.5 L200.66 313.88 L202.95 313.88 L202.95 331.07 L204.38 331.07 L204.38 351.13 L206.39 351.13 L206.39 333.94 L208.68 333.94 L208.68 339.67 L211.55 339.67 L211.55 335.37 L213.55 335.37 L213.55 308.15 L215.85 308.15 L215.85 333.94 L218.71 333.94 L218.71 336.81 L221 336.81 L221 319.61 L223.01 319.61 L223.01 336.81 L225.87 336.81 L225.87 333.94 L228.74 333.94 L228.74 319.61 L230.74 319.61 L230.74 342.54 L233.04 342.54 L233.04 319.61 L235.04 319.61 L235.04 305.29 L237.34 305.29 L237.34 339.67 L238.77 339.67 L238.77 325.34 L241.63 325.34 L241.63 336.81 L243.93 336.81 L243.93 354 L245.93 354 L245.93 346.83 L247.94 346.83 " fill="none" stroke="#767676" stroke-width="1.25" stroke-linejoin="miter"/><path d="M68.6 214.1 L69.1 221.1 L69.6 230.23 L70.1 240.87 L70.6 252.39 L71.1 264.15 L71.6 275.59 L72.1 286.25 L72.6 295.8 L73.09 304.07 L73.59 310.99 L74.09 316.6 L74.59 321 L75.09 324.35 L75.59 326.84 L76.09 328.62 L76.59 329.87 L77.09 330.72 L77.59 331.28 L78.09 331.65 L78.59 331.87 L79.09 332.01 L79.59 332.09 L80.09 332.14 L80.59 332.17 L81.09 332.18 L81.59 332.19 L82.08 332.2 L82.58 332.2 L83.08 332.2 L83.58 332.2 L84.08 332.2 L84.58 332.2 L85.08 332.2 L85.58 332.2 L86.08 332.2 L86.58 332.2 L87.08 332.2 L87.58 332.19 L88.08 332.19 L88.58 332.18 L89.08 332.16 L89.58 332.14 L90.08 332.1 L90.58 332.04 L91.07 331.95 L91.57 331.81 L92.07 331.61 L92.57 331.33 L93.07 330.93 L93.57 330.4 L94.07 329.68 L94.57 328.75 L95.07 327.56 L95.57 326.08 L96.07 324.29 L96.57 322.16 L97.07 319.71 L97.57 316.95 L98.07 313.95 L98.57 310.77 L99.07 307.51 L99.57 304.3 L100.06 301.28 L100.56 298.58 L101.06 296.35 L101.56 294.7 L102.06 293.72 L102.56 293.47 L103.06 293.96 L103.56 295.17 L104.06 297.02 L104.56 299.42 L105.06 302.24 L105.56 305.34 L106.06 308.58 L106.56 311.82 L107.06 314.96 L107.56 317.89 L108.06 320.55 L108.56 322.89 L109.05 324.9 L109.55 326.58 L110.05 327.95 L110.55 329.04 L111.05 329.88 L111.55 330.51 L112.05 330.96 L112.55 331.27 L113.05 331.45 L113.55 331.54 L114.05 331.54 L114.55 331.47 L115.05 331.34 L115.55 331.14 L116.05 330.87 L116.55 330.54 L117.05 330.14 L117.55 329.68 L118.04 329.15 L118.54 328.56 L119.04 327.93 L119.54 327.25 L120.04 326.55 L120.54 325.84 L121.04 325.15 L121.54 324.5 L122.04 323.91 L122.54 323.41 L123.04 323.01 L123.54 322.73 L124.04 322.58 L124.54 322.56 L125.04 322.68 L125.54 322.93 L126.04 323.3 L126.54 323.77 L127.03 324.32 L127.53 324.92 L128.03 325.55 L128.53 326.19 L129.03 326.83 L129.53 327.43 L130.03 327.99 L130.53 328.49 L131.03 328.93 L131.53 329.31 L132.03 329.62 L132.53 329.87 L133.03 330.06 L133.53 330.2 L134.03 330.3 L134.53 330.37 L135.03 330.41 L135.53 330.42 L136.02 330.42 L136.52 330.42 L137.02 330.41 L137.52 330.4 L138.02 330.39 L138.52 330.39 L139.02 330.4 L139.52 330.42 L140.02 330.44 L140.52 330.48 L141.02 330.52 L141.52 330.58 L142.02 330.64 L142.52 330.71 L143.02 330.78 L143.52 330.85 L144.02 330.92 L144.52 330.98 L145.01 331.03 L145.51 331.06 L146.01 331.05 L146.51 330.99 L147.01 330.85 L147.51 330.61 L148.01 330.22 L148.51 329.62 L149.01 328.77 L149.51 327.58 L150.01 325.97 L150.51 323.86 L151.01 321.16 L151.51 317.79 L152.01 313.68 L152.51 308.78 L153.01 303.12 L153.51 296.71 L154 289.68 L154.5 282.18 L155 274.44 L155.5 266.71 L156 259.32 L156.5 252.59 L157 246.83 L157.5 242.35 L158 239.38 L158.5 238.08 L159 238.52 L159.5 240.68 L160 244.44 L160.5 249.6 L161 255.89 L161.5 263 L162 270.61 L162.49 278.4 L162.99 286.06 L163.49 293.37 L163.99 300.12 L164.49 306.19 L164.99 311.5 L165.49 316.02 L165.99 319.79 L166.49 322.86 L166.99 325.29 L167.49 327.18 L167.99 328.62 L168.49 329.68 L168.99 330.44 L169.49 330.98 L169.99 331.35 L170.49 331.58 L170.99 331.72 L171.48 331.79 L171.98 331.8 L172.48 331.78 L172.98 331.73 L173.48 331.65 L173.98 331.56 L174.48 331.45 L174.98 331.33 L175.48 331.2 L175.98 331.07 L176.48 330.94 L176.98 330.82 L177.48 330.7 L177.98 330.6 L178.48 330.52 L178.98 330.46 L179.48 330.42 L179.98 330.41 L180.47 330.42 L180.97 330.46 L181.47 330.52 L181.97 330.59 L182.47 330.67 L182.97 330.75 L183.47 330.83 L183.97 330.88 L184.47 330.9 L184.97 330.86 L185.47 330.75 L185.97 330.54 L186.47 330.21 L186.97 329.71 L187.47 329.03 L187.97 328.13 L188.47 326.97 L188.97 325.53 L189.46 323.81 L189.96 321.78 L190.46 319.47 L190.96 316.91 L191.46 314.15 L191.96 311.27 L192.46 308.36 L192.96 305.52 L193.46 302.89 L193.96 300.58 L194.46 298.69 L194.96 297.34 L195.46 296.59 L195.96 296.47 L196.46 297.01 L196.96 298.16 L197.46 299.87 L197.96 302.04 L198.45 304.58 L198.95 307.36 L199.45 310.27 L199.95 313.18 L200.45 316.01 L200.95 318.66 L201.45 321.09 L201.95 323.24 L202.45 325.11 L202.95 326.69 L203.45 327.99 L203.95 329.05 L204.45 329.88 L204.95 330.52 L205.45 331.01 L205.95 331.37 L206.45 331.63 L206.95 331.82 L207.44 331.95 L207.94 332.04 L208.44 332.1 L208.94 332.14 L209.44 332.16 L209.94 332.18 L210.44 332.19 L210.94 332.19 L211.44 332.2 L211.94 332.2 L212.44 332.2 L212.94 332.2 L213.44 332.2 L213.94 332.2 L214.44 332.2 L214.94 332.2 L215.44 332.2 L215.94 332.2 L216.43 332.2 L216.93 332.2 L217.43 332.2 L217.93 332.2 L218.43 332.2 L218.93 332.2 L219.43 332.2 L219.93 332.2 L220.43 332.2 L220.93 332.2 L221.43 332.2 L221.93 332.2 L222.43 332.2 L222.93 332.19 L223.43 332.19 L223.93 332.18 L224.43 332.18 L224.93 332.16 L225.42 332.14 L225.92 332.12 L226.42 332.08 L226.92 332.02 L227.42 331.95 L227.92 331.86 L228.42 331.74 L228.92 331.58 L229.42 331.39 L229.92 331.16 L230.42 330.89 L230.92 330.57 L231.42 330.22 L231.92 329.83 L232.42 329.42 L232.92 329 L233.42 328.58 L233.92 328.17 L234.41 327.81 L234.91 327.5 L235.41 327.25 L235.91 327.09 L236.41 327.02 L236.91 327.04 L237.41 327.15 L237.91 327.35 L238.41 327.63 L238.91 327.97 L239.41 328.35 L239.91 328.77 L240.41 329.19 L240.91 329.61 L241.41 330.01 L241.91 330.38 L242.41 330.72 L242.91 331.02 L243.4 331.27 L243.9 331.48 L244.4 331.66 L244.9 331.8 L245.4 331.9 L245.9 331.99 L246.4 332.05 L246.9 332.1 L247.4 332.13" fill="none" stroke="#0000ff" stroke-width="2"/><path d="M68.6 332.2 L69.1 332.2 L69.6 332.2 L70.1 332.2 L70.6 332.2 L71.1 332.2 L71.6 332.2 L72.1 332.2 L72.6 332.2 L73.09 332.2 L73.59 332.2 L74.09 332.2 L74.59 332.2 L75.09 332.2 L75.59 332.2 L76.09 332.2 L76.59 332.2 L77.09 332.2 L77.59 332.2 L78.09 332.2 L78.59 332.2 L79.09 332.2 L79.59 332.2 L80.09 332.2 L80.59 332.2 L81.09 332.2 L81.59 332.2 L82.08 332.2 L82.58 332.2 L83.08 332.2 L83.58 332.2 L84.08 332.2 L84.58 332.2 L85.08 332.2 L85.58 332.2 L86.08 332.2 L86.58 332.2 L87.08 332.2 L87.58 332.19 L88.08 332.19 L88.58 332.18 L89.08 332.17 L89.58 332.14 L90.08 332.11 L90.58 332.05 L91.07 331.97 L91.57 331.84 L92.07 331.66 L92.57 331.39 L93.07 331.03 L93.57 330.53 L94.07 329.87 L94.57 329.01 L95.07 327.92 L95.57 326.55 L96.07 324.9 L96.57 322.93 L97.07 320.67 L97.57 318.13 L98.07 315.35 L98.57 312.41 L99.07 309.41 L99.57 306.45 L100.06 303.66 L100.56 301.17 L101.06 299.11 L101.56 297.58 L102.06 296.68 L102.56 296.45 L103.06 296.9 L103.56 298.02 L104.06 299.73 L104.56 301.94 L105.06 304.55 L105.56 307.41 L106.06 310.4 L106.56 313.39 L107.06 316.29 L107.56 318.99 L108.06 321.45 L108.56 323.61 L109.05 325.47 L109.55 327.03 L110.05 328.3 L110.55 329.32 L111.05 330.11 L111.55 330.71 L112.05 331.16 L112.55 331.49 L113.05 331.72 L113.55 331.89 L114.05 332 L114.55 332.07 L115.05 332.12 L115.55 332.15 L116.05 332.17 L116.55 332.18 L117.05 332.19 L117.55 332.19 L118.04 332.2 L118.54 332.2 L119.04 332.2 L119.54 332.2 L120.04 332.2 L120.54 332.2 L121.04 332.2 L121.54 332.2 L122.04 332.2 L122.54 332.2 L123.04 332.2 L123.54 332.2 L124.04 332.2 L124.54 332.2 L125.04 332.2 L125.54 332.2 L126.04 332.2 L126.54 332.2 L127.03 332.2 L127.53 332.2 L128.03 332.2 L128.53 332.2 L129.03 332.2 L129.53 332.2 L130.03 332.2 L130.53 332.2 L131.03 332.2 L131.53 332.2 L132.03 332.2 L132.53 332.2 L133.03 332.2 L133.53 332.2 L134.03 332.2 L134.53 332.2 L135.03 332.2 L135.53 332.2 L136.02 332.2 L136.52 332.2 L137.02 332.2 L137.52 332.2 L138.02 332.2 L138.52 332.2 L139.02 332.2 L139.52 332.2 L140.02 332.2 L140.52 332.2 L141.02 332.2 L141.52 332.2 L142.02 332.2 L142.52 332.2 L143.02 332.2 L143.52 332.2 L144.02 332.2 L144.52 332.2 L145.01 332.2 L145.51 332.2 L146.01 332.2 L146.51 332.2 L147.01 332.2 L147.51 332.2 L148.01 332.2 L148.51 332.2 L149.01 332.2 L149.51 332.2 L150.01 332.2 L150.51 332.2 L151.01 332.2 L151.51 332.2 L152.01 332.2 L152.51 332.2 L153.01 332.2 L153.51 332.2 L154 332.2 L154.5 332.2 L155 332.2 L155.5 332.2 L156 332.2 L156.5 332.2 L157 332.2 L157.5 332.2 L158 332.2 L158.5 332.2 L159 332.2 L159.5 332.2 L160 332.2 L160.5 332.2 L161 332.2 L161.5 332.2 L162 332.2 L162.49 332.2 L162.99 332.2 L163.49 332.2 L163.99 332.2 L164.49 332.2 L164.99 332.2 L165.49 332.2 L165.99 332.2 L166.49 332.2 L166.99 332.2 L167.49 332.2 L167.99 332.2 L168.49 332.2 L168.99 332.2 L169.49 332.2 L169.99 332.2 L170.49 332.2 L170.99 332.2 L171.48 332.2 L171.98 332.2 L172.48 332.2 L172.98 332.2 L173.48 332.2 L173.98 332.2 L174.48 332.2 L174.98 332.2 L175.48 332.2 L175.98 332.2 L176.48 332.2 L176.98 332.2 L177.48 332.2 L177.98 332.2 L178.48 332.2 L178.98 332.2 L179.48 332.2 L179.98 332.2 L180.47 332.19 L180.97 332.19 L181.47 332.18 L181.97 332.17 L182.47 332.15 L182.97 332.12 L183.47 332.07 L183.97 332 L184.47 331.89 L184.97 331.73 L185.47 331.51 L185.97 331.21 L186.47 330.79 L186.97 330.24 L187.47 329.52 L187.97 328.6 L188.47 327.45 L188.97 326.05 L189.46 324.38 L189.96 322.44 L190.46 320.24 L190.96 317.8 L191.46 315.18 L191.96 312.44 L192.46 309.68 L192.96 307 L193.46 304.51 L193.96 302.32 L194.46 300.54 L194.96 299.26 L195.46 298.55 L195.96 298.44 L196.46 298.94 L196.96 300.03 L197.46 301.65 L197.96 303.7 L198.45 306.1 L198.95 308.73 L199.45 311.47 L199.95 314.23 L200.45 316.9 L200.95 319.41 L201.45 321.7 L201.95 323.73 L202.45 325.5 L202.95 326.99 L203.45 328.22 L203.95 329.22 L204.45 330.01 L204.95 330.62 L205.45 331.08 L205.95 331.42 L206.45 331.66 L206.95 331.84 L207.44 331.96 L207.94 332.05 L208.44 332.1 L208.94 332.14 L209.44 332.16 L209.94 332.18 L210.44 332.19 L210.94 332.19 L211.44 332.2 L211.94 332.2 L212.44 332.2 L212.94 332.2 L213.44 332.2 L213.94 332.2 L214.44 332.2 L214.94 332.2 L215.44 332.2 L215.94 332.2 L216.43 332.2 L216.93 332.2 L217.43 332.2 L217.93 332.2 L218.43 332.2 L218.93 332.2 L219.43 332.2 L219.93 332.2 L220.43 332.2 L220.93 332.2 L221.43 332.2 L221.93 332.2 L222.43 332.2 L222.93 332.2 L223.43 332.2 L223.93 332.2 L224.43 332.2 L224.93 332.2 L225.42 332.2 L225.92 332.2 L226.42 332.2 L226.92 332.2 L227.42 332.2 L227.92 332.2 L228.42 332.2 L228.92 332.2 L229.42 332.2 L229.92 332.2 L230.42 332.2 L230.92 332.2 L231.42 332.2 L231.92 332.2 L232.42 332.2 L232.92 332.2 L233.42 332.2 L233.92 332.2 L234.41 332.2 L234.91 332.2 L235.41 332.2 L235.91 332.2 L236.41 332.2 L236.91 332.2 L237.41 332.2 L237.91 332.2 L238.41 332.2 L238.91 332.2 L239.41 332.2 L239.91 332.2 L240.41 332.2 L240.91 332.2 L241.41 332.2 L241.91 332.2 L242.41 332.2 L242.91 332.2 L243.4 332.2 L243.9 332.2 L244.4 332.2 L244.9 332.2 L245.4 332.2 L245.9 332.2 L246.4 332.2 L246.9 332.2 L247.4 332.2" fill="none" stroke="#ff0000" stroke-width="2"/></g>
<text transform="translate(68.6,0) scale(1.07,1)" x="0" y="402.1" font-size="12.3" text-anchor="middle">0</text>
<text transform="translate(117,0) scale(1.07,1)" x="0" y="402.1" font-size="12.3" text-anchor="middle">100</text>
<text transform="translate(165.4,0) scale(1.07,1)" x="0" y="402.1" font-size="12.3" text-anchor="middle">200</text>
<text transform="translate(213.8,0) scale(1.07,1)" x="0" y="402.1" font-size="12.3" text-anchor="middle">300</text>
<text transform="translate(262.2,0) scale(1.07,1)" x="0" y="402.1" font-size="12.3" text-anchor="middle">400</text>
<text transform="translate(62.6,0) scale(1.07,1)" x="0" y="217" font-size="12.3" text-anchor="end">20</text>
<text transform="translate(62.6,0) scale(1.07,1)" x="0" y="276.6" font-size="12.3" text-anchor="end">10</text>
<text transform="translate(62.6,0) scale(1.07,1)" x="0" y="336.2" font-size="12.3" text-anchor="end">0</text>
<text x="105.7" y="369.8" fill="#ff0000" style="stroke:#ff0000;stroke-width:0.3px" font-size="14">3<tspan font-size="9.8" dx="1.0" dy="4.2">2,2</tspan><tspan dy="-4.7" dx="1.0">–</tspan><tspan dx="2.6" dy="0.5">3</tspan><tspan font-size="9.8" dx="1.0" dy="4.2">1,3</tspan></text>
<text x="181.9" y="369.8" fill="#ff0000" style="stroke:#ff0000;stroke-width:0.3px" font-size="14">6<tspan font-size="9.8" dx="1.0" dy="4.2">0,6</tspan><tspan dy="-4.7" dx="1.0">–</tspan><tspan dx="2.6" dy="0.5">5</tspan><tspan font-size="9.8" dx="1.0" dy="4.2">1,5</tspan></text>
<rect x="310.4" y="213" width="207" height="172.8" fill="none" stroke="#000" stroke-width="1.3"/>
<path d="M315 385.8v-3 M315 213v3 M324.2 385.8v-3 M324.2 213v3 M333.4 385.8v-6 M333.4 213v6 M342.6 385.8v-3 M342.6 213v3 M351.8 385.8v-3 M351.8 213v3 M361 385.8v-3 M361 213v3 M370.2 385.8v-3 M370.2 213v3 M379.4 385.8v-6 M379.4 213v6 M388.6 385.8v-3 M388.6 213v3 M397.8 385.8v-3 M397.8 213v3 M407 385.8v-3 M407 213v3 M416.2 385.8v-3 M416.2 213v3 M425.4 385.8v-6 M425.4 213v6 M434.6 385.8v-3 M434.6 213v3 M443.8 385.8v-3 M443.8 213v3 M453 385.8v-3 M453 213v3 M462.2 385.8v-3 M462.2 213v3 M471.4 385.8v-6 M471.4 213v6 M480.6 385.8v-3 M480.6 213v3 M489.8 385.8v-3 M489.8 213v3 M499 385.8v-3 M499 213v3 M508.2 385.8v-3 M508.2 213v3 M310.4 379.12h3 M517.4 379.12h-3 M310.4 366.34h3 M517.4 366.34h-3 M310.4 353.56h3 M517.4 353.56h-3 M310.4 340.78h3 M517.4 340.78h-3 M310.4 328h6 M517.4 328h-6 M310.4 315.22h3 M517.4 315.22h-3 M310.4 302.44h3 M517.4 302.44h-3 M310.4 289.66h3 M517.4 289.66h-3 M310.4 276.88h3 M517.4 276.88h-3 M310.4 264.1h6 M517.4 264.1h-6 M310.4 251.32h3 M517.4 251.32h-3 M310.4 238.54h3 M517.4 238.54h-3 M310.4 225.76h3 M517.4 225.76h-3" stroke="#000" stroke-width="1.2" fill="none"/>
<g clip-path="url(#c4)"><path d="M310.4 328 L310.4 333.94 L312.16 333.94 L312.16 328.21 L313.6 328.21 L313.6 305.29 L315.03 305.29 L315.03 276.63 L317.03 276.63 L317.03 250.85 L318.75 250.85 L318.75 265.17 L320.76 265.17 L320.76 266.6 L322.77 266.6 L322.77 268.04 L325.06 268.04 L325.06 285.23 L326.49 285.23 L326.49 313.88 L327.92 313.88 L327.92 302.42 L329.93 302.42 L329.93 290.96 L331.65 290.96 L331.65 279.5 L333.65 279.5 L333.65 296.69 L335.66 296.69 L335.66 308.15 L337.95 308.15 L337.95 290.96 L339.96 290.96 L339.96 305.29 L341.68 305.29 L341.68 325.34 L343.68 325.34 L343.68 351.13 L345.69 351.13 L345.69 345.4 L347.98 345.4 L347.98 325.34 L349.99 325.34 L349.99 305.29 L352.28 305.29 L352.28 290.96 L354.28 290.96 L354.28 313.88 L356.58 313.88 L356.58 325.34 L358.58 325.34 L358.58 319.61 L360.87 319.61 L360.87 333.94 L362.88 333.94 L362.88 348.27 L365.17 348.27 L365.17 328.21 L367.18 328.21 L367.18 368.32 L368.61 368.32 L368.61 342.54 L370.9 342.54 L370.9 331.07 L372.91 331.07 L372.91 325.34 L375.2 325.34 L375.2 339.67 L377.21 339.67 L377.21 313.88 L379.5 313.88 L379.5 354 L380.93 354 L380.93 339.67 L382.94 339.67 L382.94 336.81 L385.23 336.81 L385.23 331.07 L387.52 331.07 L387.52 325.34 L389.53 325.34 L389.53 339.67 L391.53 339.67 L391.53 335.37 L393.83 335.37 L393.83 331.07 L396.12 331.07 L396.12 345.4 L398.12 345.4 L398.12 313.88 L400.13 313.88 L400.13 299.56 L402.42 299.56 L402.42 279.5 L404.71 279.5 L404.71 262.31 L406.72 262.31 L406.72 239.38 L408.72 239.38 L408.72 230.79 L410 230.79 L410 230.79 L412.29 230.79 L412.29 247.98 L414.3 247.98 L414.3 270.9 L416.3 270.9 L416.3 296.69 L418.6 296.69 L418.6 299.56 L420.6 299.56 L420.6 319.61 L422.89 319.61 L422.89 348.27 L424.9 348.27 L424.9 354 L426.62 354 L426.62 333.94 L428.62 333.94 L428.62 316.75 L430.63 316.75 L430.63 311.02 L432.92 311.02 L432.92 319.61 L434.93 319.61 L434.93 308.15 L437.22 308.15 L437.22 299.56 L438.65 299.56 L438.65 288.09 L440.66 288.09 L440.66 270.9 L442.38 270.9 L442.38 250.85 L444.38 250.85 L444.38 259.44 L446.39 259.44 L446.39 268.04 L448.68 268.04 L448.68 242.25 L450.69 242.25 L450.69 222.19 L452.98 222.19 L452.98 193.54 L463.01 193.54 L463.01 247.98 L465.01 247.98 L465.01 285.23 L467.31 285.23 L467.31 290.96 L469.31 290.96 L469.31 296.69 L471.6 296.69 L471.6 311.02 L473.61 311.02 L473.61 296.69 L475.9 296.69 L475.9 299.56 L477.91 299.56 L477.91 319.61 L480.2 319.61 L480.2 331.07 L482.21 331.07 L482.21 325.34 L484.5 325.34 L484.5 333.94 L486.5 333.94 L486.5 331.07 L488.8 331.07 L488.8 336.81 L490.8 336.81 L490.8 325.34 L493.09 325.34 L493.09 339.67 L495.39 339.67 L495.39 316.75 L497.39 316.75 L497.39 302.42 L499.4 302.42 L499.4 290.96 L501.69 290.96 L501.69 276.63 L503.7 276.63 L503.7 273.77 L505.99 273.77 L505.99 260.87 L507.99 260.87 L507.99 285.23 L510.29 285.23 L510.29 305.29 L512.29 305.29 L512.29 316.75 L514.58 316.75 L514.58 331.07 L517.74 331.07 L517.74 328 Z" fill="#ececec" stroke="none"/><path d="M310.4 333.94 L312.16 333.94 L312.16 328.21 L313.6 328.21 L313.6 305.29 L315.03 305.29 L315.03 276.63 L317.03 276.63 L317.03 250.85 L318.75 250.85 L318.75 265.17 L320.76 265.17 L320.76 266.6 L322.77 266.6 L322.77 268.04 L325.06 268.04 L325.06 285.23 L326.49 285.23 L326.49 313.88 L327.92 313.88 L327.92 302.42 L329.93 302.42 L329.93 290.96 L331.65 290.96 L331.65 279.5 L333.65 279.5 L333.65 296.69 L335.66 296.69 L335.66 308.15 L337.95 308.15 L337.95 290.96 L339.96 290.96 L339.96 305.29 L341.68 305.29 L341.68 325.34 L343.68 325.34 L343.68 351.13 L345.69 351.13 L345.69 345.4 L347.98 345.4 L347.98 325.34 L349.99 325.34 L349.99 305.29 L352.28 305.29 L352.28 290.96 L354.28 290.96 L354.28 313.88 L356.58 313.88 L356.58 325.34 L358.58 325.34 L358.58 319.61 L360.87 319.61 L360.87 333.94 L362.88 333.94 L362.88 348.27 L365.17 348.27 L365.17 328.21 L367.18 328.21 L367.18 368.32 L368.61 368.32 L368.61 342.54 L370.9 342.54 L370.9 331.07 L372.91 331.07 L372.91 325.34 L375.2 325.34 L375.2 339.67 L377.21 339.67 L377.21 313.88 L379.5 313.88 L379.5 354 L380.93 354 L380.93 339.67 L382.94 339.67 L382.94 336.81 L385.23 336.81 L385.23 331.07 L387.52 331.07 L387.52 325.34 L389.53 325.34 L389.53 339.67 L391.53 339.67 L391.53 335.37 L393.83 335.37 L393.83 331.07 L396.12 331.07 L396.12 345.4 L398.12 345.4 L398.12 313.88 L400.13 313.88 L400.13 299.56 L402.42 299.56 L402.42 279.5 L404.71 279.5 L404.71 262.31 L406.72 262.31 L406.72 239.38 L408.72 239.38 L408.72 230.79 L410 230.79 L410 230.79 L412.29 230.79 L412.29 247.98 L414.3 247.98 L414.3 270.9 L416.3 270.9 L416.3 296.69 L418.6 296.69 L418.6 299.56 L420.6 299.56 L420.6 319.61 L422.89 319.61 L422.89 348.27 L424.9 348.27 L424.9 354 L426.62 354 L426.62 333.94 L428.62 333.94 L428.62 316.75 L430.63 316.75 L430.63 311.02 L432.92 311.02 L432.92 319.61 L434.93 319.61 L434.93 308.15 L437.22 308.15 L437.22 299.56 L438.65 299.56 L438.65 288.09 L440.66 288.09 L440.66 270.9 L442.38 270.9 L442.38 250.85 L444.38 250.85 L444.38 259.44 L446.39 259.44 L446.39 268.04 L448.68 268.04 L448.68 242.25 L450.69 242.25 L450.69 222.19 L452.98 222.19 L452.98 193.54 L463.01 193.54 L463.01 247.98 L465.01 247.98 L465.01 285.23 L467.31 285.23 L467.31 290.96 L469.31 290.96 L469.31 296.69 L471.6 296.69 L471.6 311.02 L473.61 311.02 L473.61 296.69 L475.9 296.69 L475.9 299.56 L477.91 299.56 L477.91 319.61 L480.2 319.61 L480.2 331.07 L482.21 331.07 L482.21 325.34 L484.5 325.34 L484.5 333.94 L486.5 333.94 L486.5 331.07 L488.8 331.07 L488.8 336.81 L490.8 336.81 L490.8 325.34 L493.09 325.34 L493.09 339.67 L495.39 339.67 L495.39 316.75 L497.39 316.75 L497.39 302.42 L499.4 302.42 L499.4 290.96 L501.69 290.96 L501.69 276.63 L503.7 276.63 L503.7 273.77 L505.99 273.77 L505.99 260.87 L507.99 260.87 L507.99 285.23 L510.29 285.23 L510.29 305.29 L512.29 305.29 L512.29 316.75 L514.58 316.75 L514.58 331.07 L517.74 331.07 " fill="none" stroke="#767676" stroke-width="1.25" stroke-linejoin="miter"/><path d="M310.4 307.68 L310.9 310.31 L311.4 312.74 L311.9 314.96 L312.4 316.97 L312.89 318.76 L313.39 320.33 L313.89 321.7 L314.39 322.87 L314.89 323.86 L315.39 324.7 L315.89 325.39 L316.39 325.95 L316.88 326.41 L317.38 326.78 L317.88 327.07 L318.38 327.3 L318.88 327.47 L319.38 327.6 L319.88 327.7 L320.38 327.75 L320.87 327.78 L321.37 327.76 L321.87 327.7 L322.37 327.56 L322.87 327.32 L323.37 326.94 L323.87 326.35 L324.37 325.47 L324.87 324.21 L325.36 322.45 L325.86 320.07 L326.36 316.92 L326.86 312.89 L327.36 307.87 L327.86 301.83 L328.36 294.78 L328.86 286.82 L329.35 278.17 L329.85 269.12 L330.35 260.08 L330.85 251.5 L331.35 243.88 L331.85 237.68 L332.35 233.33 L332.85 231.11 L333.34 231.18 L333.84 233.54 L334.34 238.03 L334.84 244.32 L335.34 252.01 L335.84 260.62 L336.34 269.65 L336.84 278.66 L337.33 287.24 L337.83 295.1 L338.33 302.04 L338.83 307.95 L339.33 312.82 L339.83 316.71 L340.33 319.7 L340.83 321.92 L341.33 323.49 L341.82 324.56 L342.32 325.22 L342.82 325.58 L343.32 325.7 L343.82 325.65 L344.32 325.47 L344.82 325.18 L345.32 324.81 L345.81 324.36 L346.31 323.85 L346.81 323.28 L347.31 322.66 L347.81 321.97 L348.31 321.24 L348.81 320.45 L349.31 319.62 L349.8 318.74 L350.3 317.82 L350.8 316.88 L351.3 315.91 L351.8 314.92 L352.3 313.94 L352.8 312.95 L353.3 311.98 L353.8 311.05 L354.29 310.15 L354.79 309.3 L355.29 308.52 L355.79 307.81 L356.29 307.19 L356.79 306.66 L357.29 306.24 L357.79 305.92 L358.28 305.72 L358.78 305.64 L359.28 305.67 L359.78 305.83 L360.28 306.1 L360.78 306.48 L361.28 306.96 L361.78 307.54 L362.27 308.22 L362.77 308.97 L363.27 309.78 L363.77 310.65 L364.27 311.56 L364.77 312.5 L365.27 313.45 L365.77 314.4 L366.27 315.34 L366.76 316.25 L367.26 317.12 L367.76 317.94 L368.26 318.69 L368.76 319.37 L369.26 319.96 L369.76 320.47 L370.26 320.88 L370.75 321.2 L371.25 321.42 L371.75 321.57 L372.25 321.63 L372.75 321.64 L373.25 321.59 L373.75 321.52 L374.25 321.44 L374.74 321.37 L375.24 321.33 L375.74 321.33 L376.24 321.39 L376.74 321.51 L377.24 321.71 L377.74 321.97 L378.24 322.3 L378.73 322.69 L379.23 323.12 L379.73 323.58 L380.23 324.06 L380.73 324.54 L381.23 325 L381.73 325.45 L382.23 325.86 L382.73 326.23 L383.22 326.56 L383.72 326.84 L384.22 327.08 L384.72 327.27 L385.22 327.43 L385.72 327.55 L386.22 327.65 L386.72 327.71 L387.21 327.75 L387.71 327.77 L388.21 327.78 L388.71 327.76 L389.21 327.74 L389.71 327.7 L390.21 327.65 L390.71 327.59 L391.2 327.51 L391.7 327.42 L392.2 327.31 L392.7 327.18 L393.2 327.04 L393.7 326.87 L394.2 326.68 L394.7 326.46 L395.2 326.21 L395.69 325.92 L396.19 325.59 L396.69 325.2 L397.19 324.76 L397.69 324.24 L398.19 323.64 L398.69 322.93 L399.19 322.09 L399.68 321.1 L400.18 319.93 L400.68 318.56 L401.18 316.94 L401.68 315.04 L402.18 312.83 L402.68 310.27 L403.18 307.35 L403.67 304.05 L404.17 300.35 L404.67 296.28 L405.17 291.84 L405.67 287.1 L406.17 282.1 L406.67 276.95 L407.17 271.74 L407.67 266.6 L408.16 261.66 L408.66 257.06 L409.16 252.94 L409.66 249.45 L410.16 246.69 L410.66 244.77 L411.16 243.76 L411.66 243.71 L412.15 244.62 L412.65 246.48 L413.15 249.21 L413.65 252.73 L414.15 256.94 L414.65 261.69 L415.15 266.84 L415.65 272.24 L416.14 277.76 L416.64 283.25 L417.14 288.61 L417.64 293.72 L418.14 298.5 L418.64 302.9 L419.14 306.89 L419.64 310.43 L420.13 313.54 L420.63 316.23 L421.13 318.51 L421.63 320.43 L422.13 322.02 L422.63 323.31 L423.13 324.36 L423.63 325.2 L424.13 325.86 L424.62 326.38 L425.12 326.78 L425.62 327.08 L426.12 327.31 L426.62 327.49 L427.12 327.62 L427.62 327.71 L428.12 327.78 L428.61 327.84 L429.11 327.87 L429.61 327.89 L430.11 327.9 L430.61 327.89 L431.11 327.86 L431.61 327.81 L432.11 327.74 L432.6 327.61 L433.1 327.43 L433.6 327.18 L434.1 326.81 L434.6 326.31 L435.1 325.64 L435.6 324.74 L436.1 323.59 L436.6 322.11 L437.09 320.26 L437.59 318 L438.09 315.29 L438.59 312.1 L439.09 308.44 L439.59 304.31 L440.09 299.76 L440.59 294.88 L441.08 289.77 L441.58 284.57 L442.08 279.41 L442.58 274.48 L443.08 269.92 L443.58 265.88 L444.08 262.48 L444.58 259.8 L445.07 257.85 L445.57 256.6 L446.07 255.94 L446.57 255.73 L447.07 255.76 L447.57 255.78 L448.07 255.52 L448.57 254.73 L449.07 253.15 L449.56 250.59 L450.06 246.89 L450.56 241.97 L451.06 235.85 L451.56 228.61 L452.06 220.44 L452.56 211.58 L453.06 202.37 L453.55 193.17 L454.05 184.37 L454.55 176.37 L455.05 169.57 L455.55 164.28 L456.05 160.78 L456.55 159.26 L457.05 159.83 L457.54 162.49 L458.04 167.15 L458.54 173.64 L459.04 181.71 L459.54 191.07 L460.04 201.37 L460.54 212.28 L461.04 223.43 L461.53 234.51 L462.03 245.24 L462.53 255.36 L463.03 264.71 L463.53 273.14 L464.03 280.58 L464.53 287.01 L465.03 292.45 L465.53 296.93 L466.02 300.54 L466.52 303.37 L467.02 305.51 L467.52 307.08 L468.02 308.17 L468.52 308.87 L469.02 309.28 L469.52 309.47 L470.01 309.5 L470.51 309.43 L471.01 309.29 L471.51 309.14 L472.01 308.99 L472.51 308.86 L473.01 308.78 L473.51 308.76 L474 308.8 L474.5 308.9 L475 309.08 L475.5 309.32 L476 309.64 L476.5 310.02 L477 310.46 L477.5 310.96 L478 311.51 L478.49 312.11 L478.99 312.75 L479.49 313.41 L479.99 314.1 L480.49 314.81 L480.99 315.52 L481.49 316.22 L481.99 316.91 L482.48 317.58 L482.98 318.21 L483.48 318.78 L483.98 319.3 L484.48 319.74 L484.98 320.1 L485.48 320.35 L485.98 320.5 L486.47 320.53 L486.97 320.44 L487.47 320.22 L487.97 319.89 L488.47 319.45 L488.97 318.92 L489.47 318.33 L489.97 317.7 L490.47 317.06 L490.96 316.45 L491.46 315.9 L491.96 315.45 L492.46 315.12 L492.96 314.94 L493.46 314.9 L493.96 315 L494.46 315.23 L494.95 315.55 L495.45 315.91 L495.95 316.25 L496.45 316.5 L496.95 316.57 L497.45 316.37 L497.95 315.82 L498.45 314.82 L498.94 313.29 L499.44 311.19 L499.94 308.46 L500.44 305.12 L500.94 301.19 L501.44 296.76 L501.94 291.95 L502.44 286.92 L502.93 281.86 L503.43 277.01 L503.93 272.59 L504.43 268.84 L504.93 265.96 L505.43 264.11 L505.93 263.39 L506.43 263.86 L506.93 265.5 L507.42 268.21 L507.92 271.86 L508.42 276.26 L508.92 281.19 L509.42 286.44 L509.92 291.77 L510.42 297.01 L510.92 301.98 L511.41 306.55 L511.91 310.65 L512.41 314.22 L512.91 317.26 L513.41 319.79 L513.91 321.83 L514.41 323.46 L514.91 324.71 L515.4 325.67 L515.9 326.37 L516.4 326.89 L516.9 327.25 L517.4 327.51" fill="none" stroke="#0000ff" stroke-width="2"/><path d="M310.4 328 L310.9 328 L311.4 328 L311.9 328 L312.4 328 L312.89 328 L313.39 328 L313.89 328 L314.39 328 L314.89 328 L315.39 328 L315.89 328 L316.39 328 L316.88 328 L317.38 328 L317.88 328 L318.38 328 L318.88 328 L319.38 328 L319.88 328 L320.38 328 L320.87 328 L321.37 328 L321.87 328 L322.37 328 L322.87 328 L323.37 328 L323.87 328 L324.37 328 L324.87 328 L325.36 328 L325.86 328 L326.36 328 L326.86 328 L327.36 328 L327.86 328 L328.36 328 L328.86 328 L329.35 328 L329.85 328 L330.35 328 L330.85 328 L331.35 328 L331.85 328 L332.35 328 L332.85 328 L333.34 328 L333.84 328 L334.34 328 L334.84 328 L335.34 328 L335.84 328 L336.34 328 L336.84 328 L337.33 328 L337.83 328 L338.33 328 L338.83 328 L339.33 328 L339.83 328 L340.33 328 L340.83 328 L341.33 328 L341.82 328 L342.32 328 L342.82 328 L343.32 328 L343.82 328 L344.32 328 L344.82 328 L345.32 328 L345.81 328 L346.31 328 L346.81 328 L347.31 328 L347.81 328 L348.31 328 L348.81 328 L349.31 328 L349.8 328 L350.3 328 L350.8 328 L351.3 328 L351.8 328 L352.3 328 L352.8 328 L353.3 328 L353.8 328 L354.29 328 L354.79 328 L355.29 328 L355.79 328 L356.29 328 L356.79 328 L357.29 328 L357.79 328 L358.28 328 L358.78 328 L359.28 328 L359.78 328 L360.28 328 L360.78 328 L361.28 328 L361.78 328 L362.27 328 L362.77 328 L363.27 328 L363.77 328 L364.27 328 L364.77 328 L365.27 328 L365.77 328 L366.27 328 L366.76 328 L367.26 328 L367.76 328 L368.26 328 L368.76 328 L369.26 328 L369.76 328 L370.26 328 L370.75 328 L371.25 328 L371.75 328 L372.25 328 L372.75 328 L373.25 328 L373.75 328 L374.25 328 L374.74 328 L375.24 328 L375.74 328 L376.24 328 L376.74 328 L377.24 328 L377.74 328 L378.24 328 L378.73 328 L379.23 328 L379.73 328 L380.23 328 L380.73 328 L381.23 328 L381.73 328 L382.23 328 L382.73 328 L383.22 328 L383.72 328 L384.22 328 L384.72 328 L385.22 328 L385.72 328 L386.22 328 L386.72 328 L387.21 328 L387.71 328 L388.21 328 L388.71 328 L389.21 328 L389.71 328 L390.21 328 L390.71 328 L391.2 328 L391.7 328 L392.2 327.99 L392.7 327.99 L393.2 327.98 L393.7 327.97 L394.2 327.96 L394.7 327.94 L395.2 327.9 L395.69 327.86 L396.19 327.79 L396.69 327.69 L397.19 327.56 L397.69 327.37 L398.19 327.12 L398.69 326.78 L399.19 326.33 L399.68 325.74 L400.18 324.99 L400.68 324.03 L401.18 322.83 L401.68 321.36 L402.18 319.56 L402.68 317.42 L403.18 314.89 L403.67 311.95 L404.17 308.6 L404.67 304.84 L405.17 300.68 L405.67 296.18 L406.17 291.38 L406.67 286.38 L407.17 281.27 L407.67 276.18 L408.16 271.24 L408.66 266.59 L409.16 262.37 L409.66 258.73 L410.16 255.77 L410.66 253.61 L411.16 252.33 L411.66 251.96 L412.15 252.54 L412.65 254.02 L413.15 256.36 L413.65 259.48 L414.15 263.27 L414.65 267.59 L415.15 272.32 L415.65 277.3 L416.14 282.41 L416.64 287.5 L417.14 292.47 L417.64 297.2 L418.14 301.64 L418.64 305.71 L419.14 309.38 L419.64 312.64 L420.13 315.48 L420.63 317.93 L421.13 319.99 L421.63 321.71 L422.13 323.12 L422.63 324.26 L423.13 325.17 L423.63 325.89 L424.13 326.44 L424.62 326.86 L425.12 327.18 L425.62 327.42 L426.12 327.59 L426.62 327.72 L427.12 327.8 L427.62 327.87 L428.12 327.91 L428.61 327.94 L429.11 327.96 L429.61 327.98 L430.11 327.98 L430.61 327.99 L431.11 327.99 L431.61 328 L432.11 328 L432.6 328 L433.1 328 L433.6 328 L434.1 328 L434.6 328 L435.1 328 L435.6 328 L436.1 328 L436.6 328 L437.09 328 L437.59 328 L438.09 328 L438.59 328 L439.09 328 L439.59 328 L440.09 328 L440.59 328 L441.08 328 L441.58 328 L442.08 328 L442.58 328 L443.08 328 L443.58 328 L444.08 328 L444.58 328 L445.07 328 L445.57 328 L446.07 328 L446.57 328 L447.07 328 L447.57 328 L448.07 328 L448.57 328 L449.07 328 L449.56 328 L450.06 328 L450.56 328 L451.06 328 L451.56 328 L452.06 328 L452.56 328 L453.06 328 L453.55 328 L454.05 328 L454.55 328 L455.05 328 L455.55 328 L456.05 328 L456.55 328 L457.05 328 L457.54 328 L458.04 328 L458.54 328 L459.04 328 L459.54 328 L460.04 328 L460.54 328 L461.04 328 L461.53 328 L462.03 328 L462.53 328 L463.03 328 L463.53 328 L464.03 328 L464.53 328 L465.03 328 L465.53 328 L466.02 328 L466.52 328 L467.02 328 L467.52 328 L468.02 328 L468.52 328 L469.02 328 L469.52 328 L470.01 328 L470.51 328 L471.01 328 L471.51 328 L472.01 328 L472.51 328 L473.01 328 L473.51 328 L474 328 L474.5 328 L475 328 L475.5 328 L476 328 L476.5 328 L477 328 L477.5 328 L478 328 L478.49 328 L478.99 328 L479.49 328 L479.99 328 L480.49 328 L480.99 328 L481.49 328 L481.99 328 L482.48 328 L482.98 328 L483.48 328 L483.98 328 L484.48 328 L484.98 328 L485.48 328 L485.98 328 L486.47 328 L486.97 328 L487.47 328 L487.97 328 L488.47 328 L488.97 328 L489.47 328 L489.97 328 L490.47 328 L490.96 328 L491.46 328 L491.96 328 L492.46 328 L492.96 328 L493.46 328 L493.96 328 L494.46 328 L494.95 328 L495.45 328 L495.95 328 L496.45 328 L496.95 328 L497.45 328 L497.95 328 L498.45 328 L498.94 328 L499.44 328 L499.94 328 L500.44 328 L500.94 328 L501.44 328 L501.94 328 L502.44 328 L502.93 328 L503.43 328 L503.93 328 L504.43 328 L504.93 328 L505.43 328 L505.93 328 L506.43 328 L506.93 328 L507.42 328 L507.92 328 L508.42 328 L508.92 328 L509.42 328 L509.92 328 L510.42 328 L510.92 328 L511.41 328 L511.91 328 L512.41 328 L512.91 328 L513.41 328 L513.91 328 L514.41 328 L514.91 328 L515.4 328 L515.9 328 L516.4 328 L516.9 328 L517.4 328" fill="none" stroke="#ff0000" stroke-width="2"/></g>
<text transform="translate(333.4,0) scale(1.07,1)" x="0" y="402.1" font-size="12.3" text-anchor="middle"><tspan>–</tspan><tspan dx="1.3">100</tspan></text>
<text transform="translate(379.4,0) scale(1.07,1)" x="0" y="402.1" font-size="12.3" text-anchor="middle">0</text>
<text transform="translate(425.4,0) scale(1.07,1)" x="0" y="402.1" font-size="12.3" text-anchor="middle">100</text>
<text transform="translate(471.4,0) scale(1.07,1)" x="0" y="402.1" font-size="12.3" text-anchor="middle">200</text>
<text transform="translate(304.4,0) scale(1.07,1)" x="0" y="268.1" font-size="12.3" text-anchor="end">10</text>
<text transform="translate(304.4,0) scale(1.07,1)" x="0" y="332" font-size="12.3" text-anchor="end">0</text>
<text x="385.6" y="372.8" fill="#ff0000" style="stroke:#ff0000;stroke-width:0.3px" font-size="14">5<tspan font-size="9.8" dx="1.0" dy="4.2">1,5</tspan><tspan dy="-4.7" dx="1.0">–</tspan><tspan dx="2.6" dy="0.5">4</tspan><tspan font-size="9.8" dx="1.0" dy="4.2">0,4</tspan></text>
<rect x="551.9" y="213" width="207.4" height="172.8" fill="none" stroke="#000" stroke-width="1.3"/>
<path d="M561.58 385.8v-3 M561.58 213v3 M571.25 385.8v-6 M571.25 213v6 M580.92 385.8v-3 M580.92 213v3 M590.59 385.8v-3 M590.59 213v3 M600.26 385.8v-3 M600.26 213v3 M609.93 385.8v-3 M609.93 213v3 M619.6 385.8v-6 M619.6 213v6 M629.27 385.8v-3 M629.27 213v3 M638.94 385.8v-3 M638.94 213v3 M648.61 385.8v-3 M648.61 213v3 M658.28 385.8v-3 M658.28 213v3 M667.95 385.8v-6 M667.95 213v6 M677.62 385.8v-3 M677.62 213v3 M687.29 385.8v-3 M687.29 213v3 M696.96 385.8v-3 M696.96 213v3 M706.63 385.8v-3 M706.63 213v3 M716.3 385.8v-6 M716.3 213v6 M725.97 385.8v-3 M725.97 213v3 M735.64 385.8v-3 M735.64 213v3 M745.31 385.8v-3 M745.31 213v3 M754.98 385.8v-3 M754.98 213v3 M551.9 377.2h3 M759.3 377.2h-3 M551.9 368.3h6 M759.3 368.3h-6 M551.9 359.4h3 M759.3 359.4h-3 M551.9 350.5h3 M759.3 350.5h-3 M551.9 341.6h3 M759.3 341.6h-3 M551.9 332.7h3 M759.3 332.7h-3 M551.9 323.8h6 M759.3 323.8h-6 M551.9 314.9h3 M759.3 314.9h-3 M551.9 306h3 M759.3 306h-3 M551.9 297.1h3 M759.3 297.1h-3 M551.9 288.2h3 M759.3 288.2h-3 M551.9 279.3h6 M759.3 279.3h-6 M551.9 270.4h3 M759.3 270.4h-3 M551.9 261.5h3 M759.3 261.5h-3 M551.9 252.6h3 M759.3 252.6h-3 M551.9 243.7h3 M759.3 243.7h-3 M551.9 234.8h6 M759.3 234.8h-6 M551.9 225.9h3 M759.3 225.9h-3 M551.9 217h3 M759.3 217h-3" stroke="#000" stroke-width="1.2" fill="none"/>
<g clip-path="url(#c5)"><path d="M551.9 323.8 L551.9 299.56 L553.3 299.56 L553.3 242.25 L554.74 242.25 L554.74 223.62 L557.03 223.62 L557.03 256.58 L558.46 256.58 L558.46 288.09 L559.89 288.09 L559.89 311.02 L561.33 311.02 L561.33 245.11 L562.76 245.11 L562.76 276.63 L564.19 276.63 L564.19 313.88 L565.62 313.88 L565.62 342.54 L567.06 342.54 L567.06 313.88 L569.35 313.88 L569.35 250.85 L571.36 250.85 L571.36 273.77 L573.36 273.77 L573.36 282.36 L575.08 282.36 L575.08 293.83 L577.09 293.83 L577.09 299.56 L579.09 299.56 L579.09 336.81 L580.81 336.81 L580.81 322.48 L582.82 322.48 L582.82 313.88 L584.25 313.88 L584.25 285.23 L586.54 285.23 L586.54 302.42 L588.55 302.42 L588.55 290.96 L590.55 290.96 L590.55 193.54 L606.89 193.54 L606.89 262.31 L608.6 262.31 L608.6 293.83 L610.61 293.83 L610.61 311.02 L612.9 311.02 L612.9 342.54 L614.91 342.54 L614.91 368.32 L617.2 368.32 L617.2 345.4 L619.21 345.4 L619.21 331.07 L621.5 331.07 L621.5 290.96 L623.5 290.96 L623.5 354 L625.8 354 L625.8 311.02 L627.8 311.02 L627.8 285.23 L630.09 285.23 L630.09 348.27 L632.1 348.27 L632.1 311.02 L634.39 311.02 L634.39 331.07 L636.4 331.07 L636.4 290.96 L638.12 290.96 L638.12 262.31 L640.12 262.31 L640.12 290.96 L642.13 290.96 L642.13 313.88 L644.42 313.88 L644.42 279.5 L646.43 279.5 L646.43 262.31 L648.72 262.31 L648.72 255.14 L650 255.14 L650 253.71 L652.29 253.71 L652.29 249.41 L654.3 249.41 L654.3 253.71 L656.3 253.71 L656.3 265.17 L658.6 265.17 L658.6 296.69 L660.6 296.69 L660.6 299.56 L662.89 299.56 L662.89 275.2 L664.9 275.2 L664.9 278.07 L667.19 278.07 L667.19 288.09 L669.2 288.09 L669.2 293.83 L671.49 293.83 L671.49 333.94 L673.5 333.94 L673.5 313.88 L675.79 313.88 L675.79 331.07 L677.79 331.07 L677.79 282.36 L680.09 282.36 L680.09 299.56 L682.09 299.56 L682.09 325.34 L684.38 325.34 L684.38 348.27 L686.39 348.27 L686.39 319.61 L688.68 319.61 L688.68 276.63 L690.11 276.63 L690.11 331.07 L692.12 331.07 L692.12 342.54 L694.41 342.54 L694.41 359.73 L696.42 359.73 L696.42 336.81 L698.71 336.81 L698.71 288.09 L700.72 288.09 L700.72 262.31 L703.01 262.31 L703.01 270.9 L705.01 270.9 L705.01 250.85 L707.31 250.85 L707.31 265.17 L709.31 265.17 L709.31 288.09 L711.6 288.09 L711.6 313.88 L713.61 313.88 L713.61 336.81 L715.9 336.81 L715.9 325.34 L717.91 325.34 L717.91 342.54 L720.2 342.54 L720.2 313.88 L722.21 313.88 L722.21 328.21 L724.5 328.21 L724.5 276.63 L726.5 276.63 L726.5 282.36 L728.8 282.36 L728.8 302.42 L730.8 302.42 L730.8 333.94 L733.09 333.94 L733.09 302.42 L735.1 302.42 L735.1 316.75 L737.39 316.75 L737.39 325.34 L739.4 325.34 L739.4 336.81 L741.69 336.81 L741.69 319.61 L743.7 319.61 L743.7 325.34 L745.99 325.34 L745.99 331.07 L747.99 331.07 L747.99 313.88 L750.29 313.88 L750.29 336.81 L752.29 336.81 L752.29 339.67 L754.58 339.67 L754.58 348.27 L756.02 348.27 L756.02 325.34 L757.45 325.34 L757.45 362.59 L760.03 362.59 L760.03 323.8 Z" fill="#ececec" stroke="none"/><path d="M551.9 299.56 L553.3 299.56 L553.3 242.25 L554.74 242.25 L554.74 223.62 L557.03 223.62 L557.03 256.58 L558.46 256.58 L558.46 288.09 L559.89 288.09 L559.89 311.02 L561.33 311.02 L561.33 245.11 L562.76 245.11 L562.76 276.63 L564.19 276.63 L564.19 313.88 L565.62 313.88 L565.62 342.54 L567.06 342.54 L567.06 313.88 L569.35 313.88 L569.35 250.85 L571.36 250.85 L571.36 273.77 L573.36 273.77 L573.36 282.36 L575.08 282.36 L575.08 293.83 L577.09 293.83 L577.09 299.56 L579.09 299.56 L579.09 336.81 L580.81 336.81 L580.81 322.48 L582.82 322.48 L582.82 313.88 L584.25 313.88 L584.25 285.23 L586.54 285.23 L586.54 302.42 L588.55 302.42 L588.55 290.96 L590.55 290.96 L590.55 193.54 L606.89 193.54 L606.89 262.31 L608.6 262.31 L608.6 293.83 L610.61 293.83 L610.61 311.02 L612.9 311.02 L612.9 342.54 L614.91 342.54 L614.91 368.32 L617.2 368.32 L617.2 345.4 L619.21 345.4 L619.21 331.07 L621.5 331.07 L621.5 290.96 L623.5 290.96 L623.5 354 L625.8 354 L625.8 311.02 L627.8 311.02 L627.8 285.23 L630.09 285.23 L630.09 348.27 L632.1 348.27 L632.1 311.02 L634.39 311.02 L634.39 331.07 L636.4 331.07 L636.4 290.96 L638.12 290.96 L638.12 262.31 L640.12 262.31 L640.12 290.96 L642.13 290.96 L642.13 313.88 L644.42 313.88 L644.42 279.5 L646.43 279.5 L646.43 262.31 L648.72 262.31 L648.72 255.14 L650 255.14 L650 253.71 L652.29 253.71 L652.29 249.41 L654.3 249.41 L654.3 253.71 L656.3 253.71 L656.3 265.17 L658.6 265.17 L658.6 296.69 L660.6 296.69 L660.6 299.56 L662.89 299.56 L662.89 275.2 L664.9 275.2 L664.9 278.07 L667.19 278.07 L667.19 288.09 L669.2 288.09 L669.2 293.83 L671.49 293.83 L671.49 333.94 L673.5 333.94 L673.5 313.88 L675.79 313.88 L675.79 331.07 L677.79 331.07 L677.79 282.36 L680.09 282.36 L680.09 299.56 L682.09 299.56 L682.09 325.34 L684.38 325.34 L684.38 348.27 L686.39 348.27 L686.39 319.61 L688.68 319.61 L688.68 276.63 L690.11 276.63 L690.11 331.07 L692.12 331.07 L692.12 342.54 L694.41 342.54 L694.41 359.73 L696.42 359.73 L696.42 336.81 L698.71 336.81 L698.71 288.09 L700.72 288.09 L700.72 262.31 L703.01 262.31 L703.01 270.9 L705.01 270.9 L705.01 250.85 L707.31 250.85 L707.31 265.17 L709.31 265.17 L709.31 288.09 L711.6 288.09 L711.6 313.88 L713.61 313.88 L713.61 336.81 L715.9 336.81 L715.9 325.34 L717.91 325.34 L717.91 342.54 L720.2 342.54 L720.2 313.88 L722.21 313.88 L722.21 328.21 L724.5 328.21 L724.5 276.63 L726.5 276.63 L726.5 282.36 L728.8 282.36 L728.8 302.42 L730.8 302.42 L730.8 333.94 L733.09 333.94 L733.09 302.42 L735.1 302.42 L735.1 316.75 L737.39 316.75 L737.39 325.34 L739.4 325.34 L739.4 336.81 L741.69 336.81 L741.69 319.61 L743.7 319.61 L743.7 325.34 L745.99 325.34 L745.99 331.07 L747.99 331.07 L747.99 313.88 L750.29 313.88 L750.29 336.81 L752.29 336.81 L752.29 339.67 L754.58 339.67 L754.58 348.27 L756.02 348.27 L756.02 325.34 L757.45 325.34 L757.45 362.59 L760.03 362.59 " fill="none" stroke="#767676" stroke-width="1.25" stroke-linejoin="miter"/><path d="M551.9 310.19 L552.4 311.98 L552.9 313.65 L553.4 315.16 L553.9 316.47 L554.4 317.54 L554.9 318.37 L555.4 318.94 L555.9 319.27 L556.4 319.38 L556.9 319.29 L557.4 319.03 L557.9 318.62 L558.4 318.12 L558.9 317.56 L559.4 316.97 L559.9 316.39 L560.4 315.85 L560.9 315.39 L561.4 315.02 L561.9 314.75 L562.39 314.58 L562.89 314.51 L563.39 314.51 L563.89 314.56 L564.39 314.62 L564.89 314.66 L565.39 314.63 L565.89 314.51 L566.39 314.25 L566.89 313.84 L567.39 313.25 L567.89 312.5 L568.39 311.58 L568.89 310.52 L569.39 309.33 L569.89 308.07 L570.39 306.77 L570.89 305.48 L571.39 304.25 L571.89 303.14 L572.39 302.18 L572.89 301.43 L573.39 300.91 L573.89 300.65 L574.39 300.66 L574.89 300.95 L575.39 301.5 L575.89 302.3 L576.39 303.33 L576.89 304.54 L577.39 305.9 L577.89 307.36 L578.39 308.89 L578.89 310.44 L579.39 311.98 L579.89 313.47 L580.39 314.87 L580.89 316.18 L581.39 317.38 L581.89 318.45 L582.39 319.39 L582.89 320.21 L583.38 320.9 L583.88 321.46 L584.38 321.9 L584.88 322.21 L585.38 322.39 L585.88 322.4 L586.38 322.22 L586.88 321.77 L587.38 320.97 L587.88 319.69 L588.38 317.73 L588.88 314.87 L589.38 310.8 L589.88 305.15 L590.38 297.48 L590.88 287.31 L591.38 274.11 L591.88 257.34 L592.38 236.51 L592.88 211.23 L593.38 181.26 L593.88 146.57 L594.38 107.44 L594.88 64.45 L595.38 18.55 L595.88 -28.97 L596.38 -76.5 L596.88 -122.19 L597.38 -164.11 L597.88 -200.29 L598.38 -228.95 L598.88 -248.62 L599.38 -258.25 L599.88 -257.31 L600.38 -245.87 L600.88 -224.53 L601.38 -194.43 L601.88 -157.11 L602.38 -114.39 L602.88 -68.23 L603.38 -20.58 L603.87 26.76 L604.37 72.24 L604.87 114.61 L605.37 153 L605.87 186.87 L606.37 216.01 L606.87 240.49 L607.37 260.57 L607.87 276.68 L608.37 289.33 L608.87 299.03 L609.37 306.33 L609.87 311.7 L610.37 315.57 L610.87 318.3 L611.37 320.19 L611.87 321.47 L612.37 322.33 L612.87 322.88 L613.37 323.24 L613.87 323.46 L614.37 323.59 L614.87 323.68 L615.37 323.72 L615.87 323.75 L616.37 323.77 L616.87 323.77 L617.37 323.78 L617.87 323.78 L618.37 323.78 L618.87 323.78 L619.37 323.78 L619.87 323.78 L620.37 323.78 L620.87 323.78 L621.37 323.77 L621.87 323.77 L622.37 323.77 L622.87 323.77 L623.37 323.77 L623.87 323.76 L624.37 323.76 L624.86 323.76 L625.36 323.75 L625.86 323.74 L626.36 323.73 L626.86 323.71 L627.36 323.68 L627.86 323.64 L628.36 323.59 L628.86 323.52 L629.36 323.43 L629.86 323.3 L630.36 323.14 L630.86 322.93 L631.36 322.67 L631.86 322.35 L632.36 321.98 L632.86 321.54 L633.36 321.04 L633.86 320.49 L634.36 319.9 L634.86 319.28 L635.36 318.66 L635.86 318.05 L636.36 317.49 L636.86 316.99 L637.36 316.58 L637.86 316.29 L638.36 316.12 L638.86 316.08 L639.36 316.18 L639.86 316.41 L640.36 316.74 L640.86 317.17 L641.36 317.65 L641.86 318.17 L642.36 318.67 L642.86 319.13 L643.36 319.49 L643.86 319.73 L644.36 319.79 L644.86 319.62 L645.35 319.19 L645.85 318.45 L646.35 317.34 L646.85 315.82 L647.35 313.87 L647.85 311.45 L648.35 308.56 L648.85 305.21 L649.35 301.46 L649.85 297.37 L650.35 293.06 L650.85 288.65 L651.35 284.32 L651.85 280.23 L652.35 276.59 L652.85 273.55 L653.35 271.27 L653.85 269.88 L654.35 269.44 L654.85 269.98 L655.35 271.47 L655.85 273.83 L656.35 276.93 L656.85 280.62 L657.35 284.73 L657.85 289.06 L658.35 293.44 L658.85 297.72 L659.35 301.76 L659.85 305.47 L660.35 308.78 L660.85 311.66 L661.35 314.08 L661.85 316.08 L662.35 317.67 L662.85 318.89 L663.35 319.8 L663.85 320.43 L664.35 320.83 L664.85 321.04 L665.35 321.1 L665.85 321.03 L666.34 320.87 L666.84 320.63 L667.34 320.35 L667.84 320.03 L668.34 319.71 L668.84 319.39 L669.34 319.1 L669.84 318.85 L670.34 318.65 L670.84 318.51 L671.34 318.44 L671.84 318.44 L672.34 318.5 L672.84 318.62 L673.34 318.79 L673.84 319 L674.34 319.21 L674.84 319.43 L675.34 319.63 L675.84 319.78 L676.34 319.89 L676.84 319.93 L677.34 319.88 L677.84 319.75 L678.34 319.53 L678.84 319.21 L679.34 318.8 L679.84 318.3 L680.34 317.73 L680.84 317.08 L681.34 316.39 L681.84 315.68 L682.34 314.96 L682.84 314.25 L683.34 313.6 L683.84 313.02 L684.34 312.53 L684.84 312.16 L685.34 311.92 L685.84 311.82 L686.34 311.87 L686.83 312.06 L687.33 312.38 L687.83 312.81 L688.33 313.35 L688.83 313.96 L689.33 314.62 L689.83 315.31 L690.33 316 L690.83 316.67 L691.33 317.3 L691.83 317.88 L692.33 318.4 L692.83 318.84 L693.33 319.2 L693.83 319.47 L694.33 319.66 L694.83 319.77 L695.33 319.78 L695.83 319.71 L696.33 319.56 L696.83 319.33 L697.33 319.02 L697.83 318.64 L698.33 318.2 L698.83 317.7 L699.33 317.16 L699.83 316.59 L700.33 316 L700.83 315.42 L701.33 314.87 L701.83 314.36 L702.33 313.92 L702.83 313.56 L703.33 313.3 L703.83 313.16 L704.33 313.13 L704.83 313.22 L705.33 313.42 L705.83 313.73 L706.33 314.13 L706.83 314.61 L707.33 315.15 L707.82 315.73 L708.32 316.32 L708.82 316.91 L709.32 317.48 L709.82 318.01 L710.32 318.5 L710.82 318.93 L711.32 319.3 L711.82 319.59 L712.32 319.81 L712.82 319.95 L713.32 320.01 L713.82 319.99 L714.32 319.88 L714.82 319.68 L715.32 319.4 L715.82 319.03 L716.32 318.58 L716.82 318.05 L717.32 317.44 L717.82 316.77 L718.32 316.05 L718.82 315.3 L719.32 314.55 L719.82 313.81 L720.32 313.11 L720.82 312.48 L721.32 311.94 L721.82 311.51 L722.32 311.22 L722.82 311.08 L723.32 311.08 L723.82 311.22 L724.32 311.49 L724.82 311.88 L725.32 312.35 L725.82 312.87 L726.32 313.41 L726.82 313.93 L727.32 314.39 L727.82 314.75 L728.31 314.98 L728.81 315.07 L729.31 314.98 L729.81 314.73 L730.31 314.32 L730.81 313.77 L731.31 313.09 L731.81 312.35 L732.31 311.58 L732.81 310.83 L733.31 310.15 L733.81 309.6 L734.31 309.21 L734.81 309.03 L735.31 309.07 L735.81 309.33 L736.31 309.81 L736.81 310.5 L737.31 311.35 L737.81 312.34 L738.31 313.41 L738.81 314.53 L739.31 315.65 L739.81 316.73 L740.31 317.75 L740.81 318.68 L741.31 319.51 L741.81 320.24 L742.31 320.85 L742.81 321.35 L743.31 321.76 L743.81 322.08 L744.31 322.33 L744.81 322.51 L745.31 322.63 L745.81 322.7 L746.31 322.72 L746.81 322.69 L747.31 322.61 L747.81 322.47 L748.31 322.27 L748.81 321.99 L749.3 321.62 L749.8 321.14 L750.3 320.53 L750.8 319.78 L751.3 318.86 L751.8 317.75 L752.3 316.44 L752.8 314.92 L753.3 313.19 L753.8 311.23 L754.3 309.07 L754.8 306.73 L755.3 304.23 L755.8 301.62 L756.3 298.95 L756.8 296.29 L757.3 293.71 L757.8 291.27 L758.3 289.05 L758.8 287.13 L759.3 285.57" fill="none" stroke="#0000ff" stroke-width="2"/><path d="M551.9 323.8 L552.4 323.8 L552.9 323.8 L553.4 323.8 L553.9 323.8 L554.4 323.8 L554.9 323.8 L555.4 323.8 L555.9 323.8 L556.4 323.8 L556.9 323.8 L557.4 323.8 L557.9 323.8 L558.4 323.8 L558.9 323.8 L559.4 323.8 L559.9 323.8 L560.4 323.8 L560.9 323.8 L561.4 323.8 L561.9 323.8 L562.39 323.8 L562.89 323.8 L563.39 323.8 L563.89 323.8 L564.39 323.8 L564.89 323.8 L565.39 323.8 L565.89 323.8 L566.39 323.8 L566.89 323.8 L567.39 323.8 L567.89 323.8 L568.39 323.8 L568.89 323.8 L569.39 323.8 L569.89 323.8 L570.39 323.8 L570.89 323.8 L571.39 323.8 L571.89 323.8 L572.39 323.8 L572.89 323.8 L573.39 323.8 L573.89 323.8 L574.39 323.8 L574.89 323.8 L575.39 323.8 L575.89 323.8 L576.39 323.8 L576.89 323.8 L577.39 323.8 L577.89 323.8 L578.39 323.8 L578.89 323.8 L579.39 323.8 L579.89 323.8 L580.39 323.8 L580.89 323.8 L581.39 323.8 L581.89 323.8 L582.39 323.8 L582.89 323.8 L583.38 323.8 L583.88 323.8 L584.38 323.8 L584.88 323.8 L585.38 323.8 L585.88 323.8 L586.38 323.8 L586.88 323.8 L587.38 323.8 L587.88 323.8 L588.38 323.8 L588.88 323.8 L589.38 323.8 L589.88 323.8 L590.38 323.8 L590.88 323.8 L591.38 323.8 L591.88 323.8 L592.38 323.8 L592.88 323.8 L593.38 323.8 L593.88 323.8 L594.38 323.8 L594.88 323.8 L595.38 323.8 L595.88 323.8 L596.38 323.8 L596.88 323.8 L597.38 323.8 L597.88 323.8 L598.38 323.8 L598.88 323.8 L599.38 323.8 L599.88 323.8 L600.38 323.8 L600.88 323.8 L601.38 323.8 L601.88 323.8 L602.38 323.8 L602.88 323.8 L603.38 323.8 L603.87 323.8 L604.37 323.8 L604.87 323.8 L605.37 323.8 L605.87 323.8 L606.37 323.8 L606.87 323.8 L607.37 323.8 L607.87 323.8 L608.37 323.8 L608.87 323.8 L609.37 323.8 L609.87 323.8 L610.37 323.8 L610.87 323.8 L611.37 323.8 L611.87 323.8 L612.37 323.8 L612.87 323.8 L613.37 323.8 L613.87 323.8 L614.37 323.8 L614.87 323.8 L615.37 323.8 L615.87 323.8 L616.37 323.8 L616.87 323.8 L617.37 323.8 L617.87 323.8 L618.37 323.8 L618.87 323.8 L619.37 323.8 L619.87 323.8 L620.37 323.8 L620.87 323.8 L621.37 323.8 L621.87 323.8 L622.37 323.8 L622.87 323.8 L623.37 323.8 L623.87 323.8 L624.37 323.8 L624.86 323.8 L625.36 323.8 L625.86 323.8 L626.36 323.8 L626.86 323.8 L627.36 323.8 L627.86 323.8 L628.36 323.8 L628.86 323.8 L629.36 323.8 L629.86 323.8 L630.36 323.8 L630.86 323.8 L631.36 323.8 L631.86 323.8 L632.36 323.8 L632.86 323.8 L633.36 323.8 L633.86 323.8 L634.36 323.8 L634.86 323.8 L635.36 323.8 L635.86 323.8 L636.36 323.8 L636.86 323.8 L637.36 323.8 L637.86 323.8 L638.36 323.8 L638.86 323.79 L639.36 323.79 L639.86 323.77 L640.36 323.76 L640.86 323.73 L641.36 323.68 L641.86 323.62 L642.36 323.51 L642.86 323.36 L643.36 323.14 L643.86 322.82 L644.36 322.37 L644.86 321.77 L645.35 320.95 L645.85 319.88 L646.35 318.51 L646.85 316.78 L647.35 314.66 L647.85 312.12 L648.35 309.14 L648.85 305.73 L649.35 301.94 L649.85 297.82 L650.35 293.5 L650.85 289.09 L651.35 284.76 L651.85 280.68 L652.35 277.04 L652.85 274.02 L653.35 271.76 L653.85 270.38 L654.35 269.96 L654.85 270.52 L655.35 272.02 L655.85 274.4 L656.35 277.52 L656.85 281.23 L657.35 285.36 L657.85 289.71 L658.35 294.12 L658.85 298.42 L659.35 302.5 L659.85 306.24 L660.35 309.59 L660.85 312.51 L661.35 314.99 L661.85 317.05 L662.35 318.72 L662.85 320.05 L663.35 321.08 L663.85 321.86 L664.35 322.45 L664.85 322.87 L665.35 323.17 L665.85 323.39 L666.34 323.53 L666.84 323.63 L667.34 323.69 L667.84 323.73 L668.34 323.76 L668.84 323.78 L669.34 323.79 L669.84 323.79 L670.34 323.8 L670.84 323.8 L671.34 323.8 L671.84 323.8 L672.34 323.8 L672.84 323.8 L673.34 323.8 L673.84 323.8 L674.34 323.8 L674.84 323.8 L675.34 323.8 L675.84 323.8 L676.34 323.8 L676.84 323.8 L677.34 323.8 L677.84 323.8 L678.34 323.8 L678.84 323.8 L679.34 323.8 L679.84 323.8 L680.34 323.8 L680.84 323.8 L681.34 323.8 L681.84 323.8 L682.34 323.8 L682.84 323.8 L683.34 323.8 L683.84 323.8 L684.34 323.8 L684.84 323.8 L685.34 323.8 L685.84 323.8 L686.34 323.8 L686.83 323.8 L687.33 323.8 L687.83 323.8 L688.33 323.8 L688.83 323.8 L689.33 323.8 L689.83 323.8 L690.33 323.8 L690.83 323.8 L691.33 323.8 L691.83 323.8 L692.33 323.8 L692.83 323.8 L693.33 323.8 L693.83 323.8 L694.33 323.8 L694.83 323.8 L695.33 323.8 L695.83 323.8 L696.33 323.8 L696.83 323.8 L697.33 323.8 L697.83 323.8 L698.33 323.8 L698.83 323.8 L699.33 323.8 L699.83 323.8 L700.33 323.8 L700.83 323.8 L701.33 323.8 L701.83 323.8 L702.33 323.8 L702.83 323.8 L703.33 323.8 L703.83 323.8 L704.33 323.8 L704.83 323.8 L705.33 323.8 L705.83 323.8 L706.33 323.8 L706.83 323.8 L707.33 323.8 L707.82 323.8 L708.32 323.8 L708.82 323.8 L709.32 323.8 L709.82 323.8 L710.32 323.8 L710.82 323.8 L711.32 323.8 L711.82 323.8 L712.32 323.8 L712.82 323.8 L713.32 323.8 L713.82 323.8 L714.32 323.8 L714.82 323.8 L715.32 323.8 L715.82 323.8 L716.32 323.8 L716.82 323.8 L717.32 323.8 L717.82 323.8 L718.32 323.8 L718.82 323.8 L719.32 323.8 L719.82 323.8 L720.32 323.8 L720.82 323.8 L721.32 323.8 L721.82 323.8 L722.32 323.8 L722.82 323.8 L723.32 323.8 L723.82 323.8 L724.32 323.8 L724.82 323.8 L725.32 323.8 L725.82 323.8 L726.32 323.8 L726.82 323.8 L727.32 323.8 L727.82 323.8 L728.31 323.8 L728.81 323.8 L729.31 323.8 L729.81 323.8 L730.31 323.8 L730.81 323.8 L731.31 323.8 L731.81 323.8 L732.31 323.8 L732.81 323.8 L733.31 323.8 L733.81 323.8 L734.31 323.8 L734.81 323.8 L735.31 323.8 L735.81 323.8 L736.31 323.8 L736.81 323.8 L737.31 323.8 L737.81 323.8 L738.31 323.8 L738.81 323.8 L739.31 323.8 L739.81 323.8 L740.31 323.8 L740.81 323.8 L741.31 323.8 L741.81 323.8 L742.31 323.8 L742.81 323.8 L743.31 323.8 L743.81 323.8 L744.31 323.8 L744.81 323.8 L745.31 323.8 L745.81 323.8 L746.31 323.8 L746.81 323.8 L747.31 323.8 L747.81 323.8 L748.31 323.8 L748.81 323.8 L749.3 323.8 L749.8 323.8 L750.3 323.8 L750.8 323.8 L751.3 323.8 L751.8 323.8 L752.3 323.8 L752.8 323.8 L753.3 323.8 L753.8 323.8 L754.3 323.8 L754.8 323.8 L755.3 323.8 L755.8 323.8 L756.3 323.8 L756.8 323.8 L757.3 323.8 L757.8 323.8 L758.3 323.8 L758.8 323.8 L759.3 323.8" fill="none" stroke="#ff0000" stroke-width="2"/></g>
<text transform="translate(571.25,0) scale(1.07,1)" x="0" y="402.1" font-size="12.3" text-anchor="middle"><tspan>–</tspan><tspan dx="1.3">100</tspan></text>
<text transform="translate(619.6,0) scale(1.07,1)" x="0" y="402.1" font-size="12.3" text-anchor="middle">0</text>
<text transform="translate(667.95,0) scale(1.07,1)" x="0" y="402.1" font-size="12.3" text-anchor="middle">100</text>
<text transform="translate(716.3,0) scale(1.07,1)" x="0" y="402.1" font-size="12.3" text-anchor="middle">200</text>
<text transform="translate(545.9,0) scale(1.07,1)" x="0" y="238.8" font-size="12.3" text-anchor="end">20</text>
<text transform="translate(545.9,0) scale(1.07,1)" x="0" y="283.3" font-size="12.3" text-anchor="end">10</text>
<text transform="translate(545.9,0) scale(1.07,1)" x="0" y="327.8" font-size="12.3" text-anchor="end">0</text>
<text transform="translate(545.9,0) scale(1.07,1)" x="0" y="372.3" font-size="12.3" text-anchor="end"><tspan>–</tspan><tspan dx="1.3">10</tspan></text>
<text x="627.6" y="369.8" fill="#ff0000" style="stroke:#ff0000;stroke-width:0.3px" font-size="14">2<tspan font-size="9.8" dx="1.0" dy="4.2">2,0</tspan><tspan dy="-4.7" dx="1.0">–</tspan><tspan dx="2.6" dy="0.5">1</tspan><tspan font-size="9.8" dx="1.0" dy="4.2">1,1</tspan></text>
<rect x="68.3" y="420" width="207.3" height="173.3" fill="none" stroke="#000" stroke-width="1.3"/>
<path d="M80.45 593.3v-3 M80.45 420v3 M100.9 593.3v-3 M100.9 420v3 M121.35 593.3v-3 M121.35 420v3 M141.8 593.3v-6 M141.8 420v6 M162.25 593.3v-3 M162.25 420v3 M182.7 593.3v-3 M182.7 420v3 M203.15 593.3v-3 M203.15 420v3 M223.6 593.3v-6 M223.6 420v6 M244.05 593.3v-3 M244.05 420v3 M264.5 593.3v-3 M264.5 420v3 M68.3 583.86h3 M275.6 583.86h-3 M68.3 574.74h3 M275.6 574.74h-3 M68.3 565.62h3 M275.6 565.62h-3 M68.3 556.5h6 M275.6 556.5h-6 M68.3 547.38h3 M275.6 547.38h-3 M68.3 538.26h3 M275.6 538.26h-3 M68.3 529.14h3 M275.6 529.14h-3 M68.3 520.02h3 M275.6 520.02h-3 M68.3 510.9h6 M275.6 510.9h-6 M68.3 501.78h3 M275.6 501.78h-3 M68.3 492.66h3 M275.6 492.66h-3 M68.3 483.54h3 M275.6 483.54h-3 M68.3 474.42h3 M275.6 474.42h-3 M68.3 465.3h6 M275.6 465.3h-6 M68.3 456.18h3 M275.6 456.18h-3 M68.3 447.06h3 M275.6 447.06h-3 M68.3 437.94h3 M275.6 437.94h-3 M68.3 428.82h3 M275.6 428.82h-3" stroke="#000" stroke-width="1.2" fill="none"/>
<g clip-path="url(#c6)"><path d="M68.3 556.5 L68.3 526.61 L70.16 526.61 L70.16 520.88 L72.16 520.88 L72.16 489.36 L73.6 489.36 L73.6 482.2 L75.89 482.2 L75.89 487.93 L77.89 487.93 L77.89 518.02 L79.33 518.02 L79.33 542.37 L80.76 542.37 L80.76 546.67 L82.77 546.67 L82.77 566.73 L84.48 566.73 L84.48 576.76 L86.49 576.76 L86.49 558.13 L88.5 558.13 L88.5 538.07 L90.79 538.07 L90.79 555.27 L92.79 555.27 L92.79 535.21 L95.09 535.21 L95.09 529.48 L97.09 529.48 L97.09 526.61 L98.81 526.61 L98.81 523.75 L100.82 523.75 L100.82 520.88 L102.82 520.88 L102.82 497.96 L105.11 497.96 L105.11 475.04 L107.41 475.04 L107.41 400.54 L122.31 400.54 L122.31 424.89 L125.17 424.89 L125.17 429.19 L126.89 429.19 L126.89 434.92 L128.61 434.92 L128.61 400.54 L130 400.54 L130 437.79 L132.87 437.79 L132.87 457.85 L135.73 457.85 L135.73 486.5 L137.16 486.5 L137.16 503.69 L138.6 503.69 L138.6 526.61 L140.03 526.61 L140.03 543.81 L142.89 543.81 L142.89 549.54 L145.76 549.54 L145.76 561 L148.62 561 L148.62 520.88 L150.06 520.88 L150.06 483.63 L151.49 483.63 L151.49 463.58 L153.5 463.58 L153.5 449.25 L155.79 449.25 L155.79 434.92 L157.79 434.92 L157.79 440.65 L160.09 440.65 L160.09 457.85 L162.09 457.85 L162.09 477.9 L163.81 477.9 L163.81 483.63 L165.82 483.63 L165.82 480.77 L167.25 480.77 L167.25 475.04 L169.26 475.04 L169.26 483.63 L171.55 483.63 L171.55 500.83 L173.55 500.83 L173.55 520.88 L175.85 520.88 L175.85 526.61 L177.85 526.61 L177.85 538.07 L180.14 538.07 L180.14 552.4 L182.15 552.4 L182.15 543.81 L184.44 543.81 L184.44 535.21 L186.45 535.21 L186.45 526.61 L188.74 526.61 L188.74 549.54 L190.74 549.54 L190.74 532.34 L193.04 532.34 L193.04 526.61 L195.04 526.61 L195.04 543.81 L197.34 543.81 L197.34 546.67 L199.34 546.67 L199.34 543.81 L201.63 543.81 L201.63 526.61 L203.64 526.61 L203.64 549.54 L205.93 549.54 L205.93 569.59 L207.94 569.59 L207.94 526.61 L210.23 526.61 L210.23 400.54 L227.42 400.54 L227.42 469.31 L230.29 469.31 L230.29 495.09 L233.15 495.09 L233.15 469.31 L234.58 469.31 L234.58 400.54 L248.01 400.54 L248.01 543.81 L250.87 543.81 L250.87 561 L252.31 561 L252.31 575.32 L253.74 575.32 L253.74 555.27 L255.74 555.27 L255.74 532.34 L257.46 532.34 L257.46 546.67 L259.47 546.67 L259.47 561 L261.48 561 L261.48 572.46 L263.77 572.46 L263.77 566.73 L265.77 566.73 L265.77 572.46 L268.07 572.46 L268.07 561 L270.07 561 L270.07 538.07 L272.36 538.07 L272.36 526.61 L274.66 526.61 L274.66 520.88 L276.38 520.88 L276.38 556.5 Z" fill="#ececec" stroke="none"/><path d="M68.3 526.61 L70.16 526.61 L70.16 520.88 L72.16 520.88 L72.16 489.36 L73.6 489.36 L73.6 482.2 L75.89 482.2 L75.89 487.93 L77.89 487.93 L77.89 518.02 L79.33 518.02 L79.33 542.37 L80.76 542.37 L80.76 546.67 L82.77 546.67 L82.77 566.73 L84.48 566.73 L84.48 576.76 L86.49 576.76 L86.49 558.13 L88.5 558.13 L88.5 538.07 L90.79 538.07 L90.79 555.27 L92.79 555.27 L92.79 535.21 L95.09 535.21 L95.09 529.48 L97.09 529.48 L97.09 526.61 L98.81 526.61 L98.81 523.75 L100.82 523.75 L100.82 520.88 L102.82 520.88 L102.82 497.96 L105.11 497.96 L105.11 475.04 L107.41 475.04 L107.41 400.54 L122.31 400.54 L122.31 424.89 L125.17 424.89 L125.17 429.19 L126.89 429.19 L126.89 434.92 L128.61 434.92 L128.61 400.54 L130 400.54 L130 437.79 L132.87 437.79 L132.87 457.85 L135.73 457.85 L135.73 486.5 L137.16 486.5 L137.16 503.69 L138.6 503.69 L138.6 526.61 L140.03 526.61 L140.03 543.81 L142.89 543.81 L142.89 549.54 L145.76 549.54 L145.76 561 L148.62 561 L148.62 520.88 L150.06 520.88 L150.06 483.63 L151.49 483.63 L151.49 463.58 L153.5 463.58 L153.5 449.25 L155.79 449.25 L155.79 434.92 L157.79 434.92 L157.79 440.65 L160.09 440.65 L160.09 457.85 L162.09 457.85 L162.09 477.9 L163.81 477.9 L163.81 483.63 L165.82 483.63 L165.82 480.77 L167.25 480.77 L167.25 475.04 L169.26 475.04 L169.26 483.63 L171.55 483.63 L171.55 500.83 L173.55 500.83 L173.55 520.88 L175.85 520.88 L175.85 526.61 L177.85 526.61 L177.85 538.07 L180.14 538.07 L180.14 552.4 L182.15 552.4 L182.15 543.81 L184.44 543.81 L184.44 535.21 L186.45 535.21 L186.45 526.61 L188.74 526.61 L188.74 549.54 L190.74 549.54 L190.74 532.34 L193.04 532.34 L193.04 526.61 L195.04 526.61 L195.04 543.81 L197.34 543.81 L197.34 546.67 L199.34 546.67 L199.34 543.81 L201.63 543.81 L201.63 526.61 L203.64 526.61 L203.64 549.54 L205.93 549.54 L205.93 569.59 L207.94 569.59 L207.94 526.61 L210.23 526.61 L210.23 400.54 L227.42 400.54 L227.42 469.31 L230.29 469.31 L230.29 495.09 L233.15 495.09 L233.15 469.31 L234.58 469.31 L234.58 400.54 L248.01 400.54 L248.01 543.81 L250.87 543.81 L250.87 561 L252.31 561 L252.31 575.32 L253.74 575.32 L253.74 555.27 L255.74 555.27 L255.74 532.34 L257.46 532.34 L257.46 546.67 L259.47 546.67 L259.47 561 L261.48 561 L261.48 572.46 L263.77 572.46 L263.77 566.73 L265.77 566.73 L265.77 572.46 L268.07 572.46 L268.07 561 L270.07 561 L270.07 538.07 L272.36 538.07 L272.36 526.61 L274.66 526.61 L274.66 520.88 L276.38 520.88 " fill="none" stroke="#767676" stroke-width="1.25" stroke-linejoin="miter"/><path d="M68.3 555.48 L68.8 555.08 L69.3 554.57 L69.8 553.92 L70.3 553.14 L70.8 552.2 L71.3 551.11 L71.8 549.89 L72.3 548.56 L72.8 547.15 L73.3 545.72 L73.79 544.33 L74.29 543.04 L74.79 541.91 L75.29 541.02 L75.79 540.4 L76.29 540.11 L76.79 540.15 L77.29 540.52 L77.79 541.21 L78.29 542.16 L78.79 543.33 L79.29 544.66 L79.79 546.06 L80.29 547.49 L80.79 548.88 L81.29 550.19 L81.79 551.38 L82.29 552.43 L82.79 553.34 L83.29 554.09 L83.79 554.7 L84.28 555.18 L84.78 555.56 L85.28 555.84 L85.78 556.04 L86.28 556.19 L86.78 556.3 L87.28 556.37 L87.78 556.42 L88.28 556.45 L88.78 556.47 L89.28 556.48 L89.78 556.49 L90.28 556.49 L90.78 556.5 L91.28 556.5 L91.78 556.5 L92.28 556.5 L92.78 556.5 L93.28 556.49 L93.78 556.49 L94.27 556.48 L94.77 556.47 L95.27 556.46 L95.77 556.43 L96.27 556.39 L96.77 556.33 L97.27 556.25 L97.77 556.11 L98.27 555.92 L98.77 555.64 L99.27 555.24 L99.77 554.67 L100.27 553.89 L100.77 552.82 L101.27 551.36 L101.77 549.43 L102.27 546.88 L102.77 543.58 L103.27 539.35 L103.77 534.02 L104.27 527.4 L104.76 519.29 L105.26 509.49 L105.76 497.85 L106.26 484.22 L106.76 468.52 L107.26 450.71 L107.76 430.86 L108.26 409.11 L108.76 385.72 L109.26 361.05 L109.76 335.54 L110.26 309.77 L110.76 284.37 L111.26 260.04 L111.76 237.48 L112.26 217.42 L112.76 200.51 L113.26 187.34 L113.76 178.37 L114.26 173.93 L114.76 174.18 L115.25 179.12 L115.75 188.55 L116.25 202.14 L116.75 219.42 L117.25 239.78 L117.75 262.56 L118.25 287.04 L118.75 312.51 L119.25 338.28 L119.75 363.72 L120.25 388.28 L120.75 411.51 L121.25 433.06 L121.75 452.69 L122.25 470.26 L122.75 485.72 L123.25 499.1 L123.75 510.48 L124.25 520.01 L124.75 527.83 L125.25 534.14 L125.74 539.11 L126.24 542.92 L126.74 545.73 L127.24 547.69 L127.74 548.95 L128.24 549.61 L128.74 549.82 L129.24 549.65 L129.74 549.23 L130.24 548.66 L130.74 548.01 L131.24 547.39 L131.74 546.88 L132.24 546.52 L132.74 546.38 L133.24 546.47 L133.74 546.79 L134.24 547.34 L134.74 548.07 L135.24 548.93 L135.73 549.88 L136.23 550.85 L136.73 551.8 L137.23 552.69 L137.73 553.48 L138.23 554.17 L138.73 554.75 L139.23 555.21 L139.73 555.56 L140.23 555.81 L140.73 555.98 L141.23 556.05 L141.73 556.04 L142.23 555.91 L142.73 555.64 L143.23 555.18 L143.73 554.45 L144.23 553.32 L144.73 551.65 L145.23 549.22 L145.73 545.78 L146.22 541.01 L146.72 534.54 L147.22 525.97 L147.72 514.86 L148.22 500.81 L148.72 483.42 L149.22 462.45 L149.72 437.77 L150.22 409.49 L150.72 377.94 L151.22 343.77 L151.72 307.9 L152.22 271.54 L152.72 236.11 L153.22 203.16 L153.72 174.26 L154.22 150.91 L154.72 134.35 L155.22 125.51 L155.72 124.87 L156.22 132.48 L156.71 147.88 L157.21 170.19 L157.71 198.18 L158.21 230.37 L158.71 265.16 L159.21 300.93 L159.71 336.22 L160.21 369.72 L160.71 400.4 L161.21 427.54 L161.71 450.66 L162.21 469.57 L162.71 484.31 L163.21 495.07 L163.71 502.19 L164.21 506.08 L164.71 507.19 L165.21 506.01 L165.71 503.02 L166.21 498.7 L166.71 493.5 L167.2 487.85 L167.7 482.16 L168.2 476.8 L168.7 472.09 L169.2 468.33 L169.7 465.73 L170.2 464.44 L170.7 464.54 L171.2 466.06 L171.7 468.91 L172.2 472.99 L172.7 478.11 L173.2 484.05 L173.7 490.59 L174.2 497.46 L174.7 504.44 L175.2 511.3 L175.7 517.87 L176.2 524 L176.7 529.57 L177.19 534.54 L177.69 538.87 L178.19 542.57 L178.69 545.66 L179.19 548.19 L179.69 550.24 L180.19 551.85 L180.69 553.1 L181.19 554.05 L181.69 554.77 L182.19 555.29 L182.69 555.67 L183.19 555.94 L183.69 556.12 L184.19 556.25 L184.69 556.34 L185.19 556.39 L185.69 556.42 L186.19 556.43 L186.69 556.43 L187.19 556.41 L187.68 556.37 L188.18 556.32 L188.68 556.24 L189.18 556.13 L189.68 555.98 L190.18 555.81 L190.68 555.59 L191.18 555.33 L191.68 555.04 L192.18 554.72 L192.68 554.39 L193.18 554.05 L193.68 553.74 L194.18 553.46 L194.68 553.25 L195.18 553.1 L195.68 553.04 L196.18 553.06 L196.68 553.17 L197.18 553.36 L197.68 553.61 L198.17 553.91 L198.67 554.23 L199.17 554.57 L199.67 554.89 L200.17 555.19 L200.67 555.45 L201.17 555.66 L201.67 555.83 L202.17 555.94 L202.67 555.99 L203.17 555.97 L203.67 555.88 L204.17 555.68 L204.67 555.36 L205.17 554.87 L205.67 554.16 L206.17 553.16 L206.67 551.77 L207.17 549.88 L207.67 547.35 L208.17 544.01 L208.66 539.66 L209.16 534.08 L209.66 527.02 L210.16 518.23 L210.66 507.43 L211.16 494.38 L211.66 478.85 L212.16 460.64 L212.66 439.66 L213.16 415.87 L213.66 389.35 L214.16 360.33 L214.66 329.16 L215.16 296.34 L215.66 262.51 L216.16 228.45 L216.66 195.04 L217.16 163.21 L217.66 133.96 L218.16 108.21 L218.65 86.87 L219.15 70.68 L219.65 60.23 L220.15 55.92 L220.65 57.9 L221.15 66.11 L221.65 80.22 L222.15 99.73 L222.65 123.93 L223.15 151.98 L223.65 182.95 L224.15 215.86 L224.65 249.74 L225.15 283.66 L225.65 316.81 L226.15 348.45 L226.65 378.01 L227.15 405.04 L227.65 429.24 L228.15 450.43 L228.65 468.58 L229.14 483.74 L229.64 496.07 L230.14 505.76 L230.64 513.07 L231.14 518.23 L231.64 521.45 L232.14 522.83 L232.64 522.33 L233.14 519.76 L233.64 514.72 L234.14 506.65 L234.64 494.84 L235.14 478.55 L235.64 457.16 L236.14 430.31 L236.64 398.07 L237.14 361.11 L237.64 320.75 L238.14 278.99 L238.64 238.38 L239.14 201.77 L239.63 172.02 L240.13 151.62 L240.63 142.39 L241.13 145.19 L241.63 159.83 L242.13 185.09 L242.63 218.87 L243.13 258.53 L243.63 301.21 L244.13 344.17 L244.63 385.05 L245.13 422.11 L245.63 454.24 L246.13 480.96 L246.63 502.33 L247.13 518.78 L247.63 531.01 L248.13 539.78 L248.63 545.85 L249.13 549.91 L249.63 552.55 L250.12 554.19 L250.62 555.19 L251.12 555.78 L251.62 556.11 L252.12 556.28 L252.62 556.37 L253.12 556.41 L253.62 556.41 L254.12 556.39 L254.62 556.34 L255.12 556.28 L255.62 556.19 L256.12 556.07 L256.62 555.92 L257.12 555.73 L257.62 555.51 L258.12 555.23 L258.62 554.92 L259.12 554.57 L259.62 554.19 L260.11 553.8 L260.61 553.39 L261.11 553 L261.61 552.63 L262.11 552.31 L262.61 552.04 L263.11 551.83 L263.61 551.68 L264.11 551.58 L264.61 551.52 L265.11 551.47 L265.61 551.37 L266.11 551.19 L266.61 550.86 L267.11 550.3 L267.61 549.42 L268.11 548.13 L268.61 546.31 L269.11 543.85 L269.61 540.61 L270.11 536.46 L270.6 531.26 L271.1 524.87 L271.6 517.17 L272.1 508.04 L272.6 497.4 L273.1 485.21 L273.6 471.46 L274.1 456.22 L274.6 439.61 L275.1 421.84 L275.6 403.17" fill="none" stroke="#0000ff" stroke-width="2"/><path d="M68.3 556.5 L68.8 556.5 L69.3 556.5 L69.8 556.5 L70.3 556.5 L70.8 556.5 L71.3 556.5 L71.8 556.5 L72.3 556.5 L72.8 556.5 L73.3 556.5 L73.79 556.5 L74.29 556.5 L74.79 556.5 L75.29 556.5 L75.79 556.5 L76.29 556.5 L76.79 556.5 L77.29 556.5 L77.79 556.5 L78.29 556.5 L78.79 556.5 L79.29 556.5 L79.79 556.5 L80.29 556.5 L80.79 556.5 L81.29 556.5 L81.79 556.5 L82.29 556.5 L82.79 556.5 L83.29 556.5 L83.79 556.5 L84.28 556.5 L84.78 556.5 L85.28 556.5 L85.78 556.5 L86.28 556.5 L86.78 556.5 L87.28 556.5 L87.78 556.5 L88.28 556.5 L88.78 556.5 L89.28 556.5 L89.78 556.5 L90.28 556.5 L90.78 556.5 L91.28 556.5 L91.78 556.5 L92.28 556.5 L92.78 556.5 L93.28 556.5 L93.78 556.5 L94.27 556.5 L94.77 556.5 L95.27 556.5 L95.77 556.5 L96.27 556.5 L96.77 556.5 L97.27 556.5 L97.77 556.5 L98.27 556.5 L98.77 556.5 L99.27 556.5 L99.77 556.5 L100.27 556.5 L100.77 556.5 L101.27 556.5 L101.77 556.5 L102.27 556.5 L102.77 556.5 L103.27 556.5 L103.77 556.5 L104.27 556.5 L104.76 556.5 L105.26 556.5 L105.76 556.5 L106.26 556.5 L106.76 556.5 L107.26 556.5 L107.76 556.5 L108.26 556.5 L108.76 556.5 L109.26 556.5 L109.76 556.5 L110.26 556.5 L110.76 556.5 L111.26 556.5 L111.76 556.5 L112.26 556.5 L112.76 556.5 L113.26 556.5 L113.76 556.5 L114.26 556.5 L114.76 556.5 L115.25 556.5 L115.75 556.5 L116.25 556.5 L116.75 556.5 L117.25 556.5 L117.75 556.5 L118.25 556.5 L118.75 556.5 L119.25 556.5 L119.75 556.5 L120.25 556.5 L120.75 556.5 L121.25 556.5 L121.75 556.5 L122.25 556.5 L122.75 556.5 L123.25 556.5 L123.75 556.5 L124.25 556.5 L124.75 556.5 L125.25 556.5 L125.74 556.5 L126.24 556.5 L126.74 556.5 L127.24 556.5 L127.74 556.5 L128.24 556.5 L128.74 556.5 L129.24 556.5 L129.74 556.5 L130.24 556.5 L130.74 556.5 L131.24 556.5 L131.74 556.5 L132.24 556.5 L132.74 556.5 L133.24 556.5 L133.74 556.5 L134.24 556.5 L134.74 556.5 L135.24 556.5 L135.73 556.5 L136.23 556.5 L136.73 556.5 L137.23 556.5 L137.73 556.5 L138.23 556.5 L138.73 556.5 L139.23 556.5 L139.73 556.5 L140.23 556.5 L140.73 556.5 L141.23 556.5 L141.73 556.5 L142.23 556.5 L142.73 556.5 L143.23 556.5 L143.73 556.5 L144.23 556.5 L144.73 556.5 L145.23 556.5 L145.73 556.5 L146.22 556.5 L146.72 556.5 L147.22 556.5 L147.72 556.5 L148.22 556.5 L148.72 556.5 L149.22 556.5 L149.72 556.5 L150.22 556.5 L150.72 556.5 L151.22 556.5 L151.72 556.5 L152.22 556.5 L152.72 556.5 L153.22 556.49 L153.72 556.49 L154.22 556.48 L154.72 556.46 L155.22 556.43 L155.72 556.4 L156.22 556.34 L156.71 556.25 L157.21 556.11 L157.71 555.92 L158.21 555.64 L158.71 555.25 L159.21 554.71 L159.71 553.98 L160.21 553 L160.71 551.72 L161.21 550.08 L161.71 548 L162.21 545.41 L162.71 542.27 L163.21 538.52 L163.71 534.14 L164.21 529.12 L164.71 523.49 L165.21 517.32 L165.71 510.72 L166.21 503.84 L166.71 496.86 L167.2 490.01 L167.7 483.52 L168.2 477.64 L168.7 472.6 L169.2 468.63 L169.7 465.9 L170.2 464.54 L170.7 464.6 L171.2 466.09 L171.7 468.93 L172.2 473 L172.7 478.11 L173.2 484.06 L173.7 490.59 L174.2 497.46 L174.7 504.44 L175.2 511.3 L175.7 517.87 L176.2 524 L176.7 529.57 L177.19 534.54 L177.69 538.87 L178.19 542.57 L178.69 545.66 L179.19 548.19 L179.69 550.24 L180.19 551.85 L180.69 553.1 L181.19 554.05 L181.69 554.77 L182.19 555.29 L182.69 555.67 L183.19 555.94 L183.69 556.13 L184.19 556.26 L184.69 556.34 L185.19 556.4 L185.69 556.44 L186.19 556.46 L186.69 556.48 L187.19 556.49 L187.68 556.49 L188.18 556.5 L188.68 556.5 L189.18 556.5 L189.68 556.5 L190.18 556.5 L190.68 556.5 L191.18 556.5 L191.68 556.5 L192.18 556.5 L192.68 556.5 L193.18 556.5 L193.68 556.5 L194.18 556.5 L194.68 556.5 L195.18 556.5 L195.68 556.5 L196.18 556.5 L196.68 556.5 L197.18 556.5 L197.68 556.5 L198.17 556.5 L198.67 556.5 L199.17 556.5 L199.67 556.5 L200.17 556.5 L200.67 556.5 L201.17 556.5 L201.67 556.5 L202.17 556.5 L202.67 556.5 L203.17 556.5 L203.67 556.5 L204.17 556.5 L204.67 556.5 L205.17 556.5 L205.67 556.5 L206.17 556.5 L206.67 556.5 L207.17 556.5 L207.67 556.5 L208.17 556.5 L208.66 556.5 L209.16 556.5 L209.66 556.5 L210.16 556.5 L210.66 556.5 L211.16 556.5 L211.66 556.5 L212.16 556.5 L212.66 556.5 L213.16 556.5 L213.66 556.5 L214.16 556.5 L214.66 556.5 L215.16 556.5 L215.66 556.5 L216.16 556.5 L216.66 556.5 L217.16 556.5 L217.66 556.5 L218.16 556.5 L218.65 556.5 L219.15 556.5 L219.65 556.5 L220.15 556.5 L220.65 556.5 L221.15 556.5 L221.65 556.5 L222.15 556.5 L222.65 556.5 L223.15 556.5 L223.65 556.5 L224.15 556.5 L224.65 556.5 L225.15 556.5 L225.65 556.5 L226.15 556.5 L226.65 556.5 L227.15 556.5 L227.65 556.5 L228.15 556.5 L228.65 556.5 L229.14 556.5 L229.64 556.5 L230.14 556.5 L230.64 556.5 L231.14 556.5 L231.64 556.5 L232.14 556.5 L232.64 556.5 L233.14 556.5 L233.64 556.5 L234.14 556.5 L234.64 556.5 L235.14 556.5 L235.64 556.5 L236.14 556.5 L236.64 556.5 L237.14 556.5 L237.64 556.5 L238.14 556.5 L238.64 556.5 L239.14 556.5 L239.63 556.5 L240.13 556.5 L240.63 556.5 L241.13 556.5 L241.63 556.5 L242.13 556.5 L242.63 556.5 L243.13 556.5 L243.63 556.5 L244.13 556.5 L244.63 556.5 L245.13 556.5 L245.63 556.5 L246.13 556.5 L246.63 556.5 L247.13 556.5 L247.63 556.5 L248.13 556.5 L248.63 556.5 L249.13 556.5 L249.63 556.5 L250.12 556.5 L250.62 556.5 L251.12 556.5 L251.62 556.5 L252.12 556.5 L252.62 556.5 L253.12 556.5 L253.62 556.5 L254.12 556.5 L254.62 556.5 L255.12 556.5 L255.62 556.5 L256.12 556.5 L256.62 556.5 L257.12 556.5 L257.62 556.5 L258.12 556.5 L258.62 556.5 L259.12 556.5 L259.62 556.5 L260.11 556.5 L260.61 556.5 L261.11 556.5 L261.61 556.5 L262.11 556.5 L262.61 556.5 L263.11 556.5 L263.61 556.5 L264.11 556.5 L264.61 556.5 L265.11 556.5 L265.61 556.5 L266.11 556.5 L266.61 556.5 L267.11 556.5 L267.61 556.5 L268.11 556.5 L268.61 556.5 L269.11 556.5 L269.61 556.5 L270.11 556.5 L270.6 556.5 L271.1 556.5 L271.6 556.5 L272.1 556.5 L272.6 556.5 L273.1 556.5 L273.6 556.5 L274.1 556.5 L274.6 556.5 L275.1 556.5 L275.6 556.5" fill="none" stroke="#ff0000" stroke-width="2"/></g>
<text transform="translate(141.8,0) scale(1.07,1)" x="0" y="609.8" font-size="12.5" text-anchor="middle">0</text>
<text transform="translate(223.6,0) scale(1.07,1)" x="0" y="609.8" font-size="12.5" text-anchor="middle">200</text>
<text transform="translate(62.3,0) scale(1.07,1)" x="0" y="423.7" font-size="12.5" text-anchor="end">15</text>
<text transform="translate(62.3,0) scale(1.07,1)" x="0" y="469.3" font-size="12.5" text-anchor="end">10</text>
<text transform="translate(62.3,0) scale(1.07,1)" x="0" y="514.9" font-size="12.5" text-anchor="end">5</text>
<text transform="translate(62.3,0) scale(1.07,1)" x="0" y="560.5" font-size="12.5" text-anchor="end">0</text>
<text x="144.2" y="577.4" fill="#ff0000" style="stroke:#ff0000;stroke-width:0.3px" font-size="14">4<tspan font-size="9.8" dx="1.0" dy="4.2">2,3</tspan><tspan dy="-4.7" dx="1.0">–</tspan><tspan dx="2.6" dy="0.5">3</tspan><tspan font-size="9.8" dx="1.0" dy="4.2">1,2</tspan></text>
<rect x="310.1" y="420" width="207.7" height="173.3" fill="none" stroke="#000" stroke-width="1.3"/>
<path d="M329 593.3v-3 M329 420v3 M347.9 593.3v-3 M347.9 420v3 M366.8 593.3v-3 M366.8 420v3 M385.7 593.3v-6 M385.7 420v6 M404.6 593.3v-3 M404.6 420v3 M423.5 593.3v-3 M423.5 420v3 M442.4 593.3v-3 M442.4 420v3 M461.3 593.3v-6 M461.3 420v6 M480.2 593.3v-3 M480.2 420v3 M499.1 593.3v-3 M499.1 420v3 M310.1 588.8h6 M517.8 588.8h-6 M310.1 580.4h3 M517.8 580.4h-3 M310.1 572h3 M517.8 572h-3 M310.1 563.6h3 M517.8 563.6h-3 M310.1 555.2h3 M517.8 555.2h-3 M310.1 546.8h6 M517.8 546.8h-6 M310.1 538.4h3 M517.8 538.4h-3 M310.1 530h3 M517.8 530h-3 M310.1 521.6h3 M517.8 521.6h-3 M310.1 513.2h3 M517.8 513.2h-3 M310.1 504.8h6 M517.8 504.8h-6 M310.1 496.4h3 M517.8 496.4h-3 M310.1 488h3 M517.8 488h-3 M310.1 479.6h3 M517.8 479.6h-3 M310.1 471.2h3 M517.8 471.2h-3 M310.1 462.8h6 M517.8 462.8h-6 M310.1 454.4h3 M517.8 454.4h-3 M310.1 446h3 M517.8 446h-3 M310.1 437.6h3 M517.8 437.6h-3 M310.1 429.2h3 M517.8 429.2h-3" stroke="#000" stroke-width="1.2" fill="none"/>
<g clip-path="url(#c7)"><path d="M310.1 546.8 L310.1 555.27 L312.16 555.27 L312.16 546.67 L314.17 546.67 L314.17 532.34 L316.46 532.34 L316.46 538.07 L318.47 538.07 L318.47 549.54 L320.76 549.54 L320.76 543.81 L322.77 543.81 L322.77 538.07 L324.48 538.07 L324.48 561 L326.49 561 L326.49 572.46 L328.5 572.46 L328.5 581.05 L330.21 581.05 L330.21 589.65 L332.22 589.65 L332.22 561 L334.23 561 L334.23 549.54 L335.95 549.54 L335.95 543.81 L337.95 543.81 L337.95 538.07 L339.96 538.07 L339.96 516.58 L341.68 516.58 L341.68 540.94 L343.68 540.94 L343.68 566.73 L345.69 566.73 L345.69 558.13 L347.98 558.13 L347.98 555.27 L349.99 555.27 L349.99 563.86 L352.28 563.86 L352.28 552.4 L354.28 552.4 L354.28 546.67 L356.58 546.67 L356.58 506.56 L358.58 506.56 L358.58 477.9 L360.87 477.9 L360.87 429.19 L362.88 429.19 L362.88 400.54 L365.74 400.54 L365.74 449.25 L368.04 449.25 L368.04 477.9 L370.04 477.9 L370.04 497.96 L372.34 497.96 L372.34 515.15 L374.34 515.15 L374.34 520.88 L376.63 520.88 L376.63 497.96 L378.64 497.96 L378.64 483.63 L380.93 483.63 L380.93 476.47 L382.94 476.47 L382.94 483.63 L385.23 483.63 L385.23 473.6 L387.23 473.6 L387.23 470.74 L389.53 470.74 L389.53 465.01 L391.53 465.01 L391.53 472.17 L393.83 472.17 L393.83 495.09 L395.83 495.09 L395.83 526.61 L398.12 526.61 L398.12 558.13 L400.13 558.13 L400.13 538.07 L402.42 538.07 L402.42 532.34 L404.43 532.34 L404.43 518.02 L406.72 518.02 L406.72 492.23 L408.72 492.23 L408.72 480.77 L410 480.77 L410 475.04 L411.43 475.04 L411.43 453.55 L413.44 453.55 L413.44 495.09 L415.16 495.09 L415.16 532.34 L417.16 532.34 L417.16 561 L419.17 561 L419.17 549.54 L421.46 549.54 L421.46 572.46 L423.47 572.46 L423.47 552.4 L425.76 552.4 L425.76 561 L427.77 561 L427.77 555.27 L430.06 555.27 L430.06 569.59 L432.06 569.59 L432.06 572.46 L434.36 572.46 L434.36 561 L436.36 561 L436.36 572.46 L438.65 572.46 L438.65 555.27 L440.66 555.27 L440.66 572.46 L442.95 572.46 L442.95 581.05 L444.96 581.05 L444.96 543.81 L447.25 543.81 L447.25 558.13 L449.26 558.13 L449.26 549.54 L451.55 549.54 L451.55 561 L453.55 561 L453.55 555.27 L455.85 555.27 L455.85 563.86 L457.85 563.86 L457.85 552.4 L460.14 552.4 L460.14 535.21 L462.15 535.21 L462.15 532.34 L464.44 532.34 L464.44 520.88 L466.45 520.88 L466.45 526.61 L468.74 526.61 L468.74 509.42 L470.74 509.42 L470.74 506.56 L473.04 506.56 L473.04 492.23 L475.04 492.23 L475.04 480.77 L477.34 480.77 L477.34 460.71 L479.34 460.71 L479.34 429.19 L481.63 429.19 L481.63 449.25 L483.64 449.25 L483.64 469.31 L485.93 469.31 L485.93 495.09 L487.94 495.09 L487.94 503.69 L490.23 503.69 L490.23 469.31 L492.23 469.31 L492.23 437.79 L494.53 437.79 L494.53 432.06 L496.53 432.06 L496.53 497.96 L498.83 497.96 L498.83 543.81 L500.83 543.81 L500.83 538.07 L503.12 538.07 L503.12 549.54 L505.13 549.54 L505.13 526.61 L507.42 526.61 L507.42 518.02 L509.43 518.02 L509.43 535.21 L511.72 535.21 L511.72 543.81 L513.72 543.81 L513.72 561 L516.02 561 L516.02 569.59 L518.88 569.59 L518.88 546.8 Z" fill="#ececec" stroke="none"/><path d="M310.1 555.27 L312.16 555.27 L312.16 546.67 L314.17 546.67 L314.17 532.34 L316.46 532.34 L316.46 538.07 L318.47 538.07 L318.47 549.54 L320.76 549.54 L320.76 543.81 L322.77 543.81 L322.77 538.07 L324.48 538.07 L324.48 561 L326.49 561 L326.49 572.46 L328.5 572.46 L328.5 581.05 L330.21 581.05 L330.21 589.65 L332.22 589.65 L332.22 561 L334.23 561 L334.23 549.54 L335.95 549.54 L335.95 543.81 L337.95 543.81 L337.95 538.07 L339.96 538.07 L339.96 516.58 L341.68 516.58 L341.68 540.94 L343.68 540.94 L343.68 566.73 L345.69 566.73 L345.69 558.13 L347.98 558.13 L347.98 555.27 L349.99 555.27 L349.99 563.86 L352.28 563.86 L352.28 552.4 L354.28 552.4 L354.28 546.67 L356.58 546.67 L356.58 506.56 L358.58 506.56 L358.58 477.9 L360.87 477.9 L360.87 429.19 L362.88 429.19 L362.88 400.54 L365.74 400.54 L365.74 449.25 L368.04 449.25 L368.04 477.9 L370.04 477.9 L370.04 497.96 L372.34 497.96 L372.34 515.15 L374.34 515.15 L374.34 520.88 L376.63 520.88 L376.63 497.96 L378.64 497.96 L378.64 483.63 L380.93 483.63 L380.93 476.47 L382.94 476.47 L382.94 483.63 L385.23 483.63 L385.23 473.6 L387.23 473.6 L387.23 470.74 L389.53 470.74 L389.53 465.01 L391.53 465.01 L391.53 472.17 L393.83 472.17 L393.83 495.09 L395.83 495.09 L395.83 526.61 L398.12 526.61 L398.12 558.13 L400.13 558.13 L400.13 538.07 L402.42 538.07 L402.42 532.34 L404.43 532.34 L404.43 518.02 L406.72 518.02 L406.72 492.23 L408.72 492.23 L408.72 480.77 L410 480.77 L410 475.04 L411.43 475.04 L411.43 453.55 L413.44 453.55 L413.44 495.09 L415.16 495.09 L415.16 532.34 L417.16 532.34 L417.16 561 L419.17 561 L419.17 549.54 L421.46 549.54 L421.46 572.46 L423.47 572.46 L423.47 552.4 L425.76 552.4 L425.76 561 L427.77 561 L427.77 555.27 L430.06 555.27 L430.06 569.59 L432.06 569.59 L432.06 572.46 L434.36 572.46 L434.36 561 L436.36 561 L436.36 572.46 L438.65 572.46 L438.65 555.27 L440.66 555.27 L440.66 572.46 L442.95 572.46 L442.95 581.05 L444.96 581.05 L444.96 543.81 L447.25 543.81 L447.25 558.13 L449.26 558.13 L449.26 549.54 L451.55 549.54 L451.55 561 L453.55 561 L453.55 555.27 L455.85 555.27 L455.85 563.86 L457.85 563.86 L457.85 552.4 L460.14 552.4 L460.14 535.21 L462.15 535.21 L462.15 532.34 L464.44 532.34 L464.44 520.88 L466.45 520.88 L466.45 526.61 L468.74 526.61 L468.74 509.42 L470.74 509.42 L470.74 506.56 L473.04 506.56 L473.04 492.23 L475.04 492.23 L475.04 480.77 L477.34 480.77 L477.34 460.71 L479.34 460.71 L479.34 429.19 L481.63 429.19 L481.63 449.25 L483.64 449.25 L483.64 469.31 L485.93 469.31 L485.93 495.09 L487.94 495.09 L487.94 503.69 L490.23 503.69 L490.23 469.31 L492.23 469.31 L492.23 437.79 L494.53 437.79 L494.53 432.06 L496.53 432.06 L496.53 497.96 L498.83 497.96 L498.83 543.81 L500.83 543.81 L500.83 538.07 L503.12 538.07 L503.12 549.54 L505.13 549.54 L505.13 526.61 L507.42 526.61 L507.42 518.02 L509.43 518.02 L509.43 535.21 L511.72 535.21 L511.72 543.81 L513.72 543.81 L513.72 561 L516.02 561 L516.02 569.59 L518.88 569.59 " fill="none" stroke="#767676" stroke-width="1.25" stroke-linejoin="miter"/><path d="M310.1 543.21 L310.6 542.83 L311.1 542.4 L311.6 541.91 L312.1 541.35 L312.6 540.71 L313.1 539.99 L313.59 539.22 L314.09 538.42 L314.59 537.64 L315.09 536.92 L315.59 536.32 L316.09 535.88 L316.59 535.64 L317.09 535.64 L317.59 535.87 L318.09 536.32 L318.59 536.98 L319.09 537.8 L319.59 538.72 L320.09 539.69 L320.58 540.64 L321.08 541.54 L321.58 542.33 L322.08 542.99 L322.58 543.5 L323.08 543.86 L323.58 544.07 L324.08 544.15 L324.58 544.13 L325.08 544.03 L325.58 543.88 L326.08 543.72 L326.58 543.57 L327.08 543.46 L327.57 543.4 L328.07 543.41 L328.57 543.49 L329.07 543.63 L329.57 543.83 L330.07 544.07 L330.57 544.33 L331.07 544.58 L331.57 544.81 L332.07 544.98 L332.57 545.08 L333.07 545.09 L333.57 545 L334.07 544.79 L334.56 544.46 L335.06 544.01 L335.56 543.46 L336.06 542.81 L336.56 542.11 L337.06 541.38 L337.56 540.67 L338.06 540.01 L338.56 539.46 L339.06 539.04 L339.56 538.8 L340.06 538.74 L340.56 538.87 L341.06 539.19 L341.55 539.67 L342.05 540.28 L342.55 540.98 L343.05 541.73 L343.55 542.48 L344.05 543.22 L344.55 543.9 L345.05 544.5 L345.55 545.03 L346.05 545.46 L346.55 545.82 L347.05 546.09 L347.55 546.3 L348.05 546.46 L348.54 546.57 L349.04 546.65 L349.54 546.71 L350.04 546.74 L350.54 546.76 L351.04 546.78 L351.54 546.79 L352.04 546.79 L352.54 546.8 L353.04 546.8 L353.54 546.8 L354.04 546.8 L354.54 546.8 L355.04 546.8 L355.53 546.8 L356.03 546.8 L356.53 546.8 L357.03 546.8 L357.53 546.8 L358.03 546.8 L358.53 546.8 L359.03 546.8 L359.53 546.8 L360.03 546.8 L360.53 546.8 L361.03 546.8 L361.53 546.8 L362.02 546.8 L362.52 546.8 L363.02 546.8 L363.52 546.8 L364.02 546.8 L364.52 546.8 L365.02 546.8 L365.52 546.8 L366.02 546.8 L366.52 546.8 L367.02 546.8 L367.52 546.8 L368.02 546.8 L368.52 546.8 L369.01 546.8 L369.51 546.79 L370.01 546.79 L370.51 546.78 L371.01 546.76 L371.51 546.73 L372.01 546.69 L372.51 546.62 L373.01 546.51 L373.51 546.35 L374.01 546.14 L374.51 545.84 L375.01 545.45 L375.51 544.97 L376 544.38 L376.5 543.7 L377 542.94 L377.5 542.14 L378 541.34 L378.5 540.58 L379 539.94 L379.5 539.44 L380 539.15 L380.5 539.08 L381 539.23 L381.5 539.6 L382 540.16 L382.5 540.85 L382.99 541.62 L383.49 542.43 L383.99 543.22 L384.49 543.95 L384.99 544.6 L385.49 545.16 L385.99 545.6 L386.49 545.96 L386.99 546.22 L387.49 546.42 L387.99 546.55 L388.49 546.64 L388.99 546.7 L389.49 546.74 L389.98 546.76 L390.48 546.76 L390.98 546.76 L391.48 546.74 L391.98 546.7 L392.48 546.64 L392.98 546.56 L393.48 546.44 L393.98 546.27 L394.48 546.05 L394.98 545.77 L395.48 545.42 L395.98 545.01 L396.48 544.55 L396.97 544.05 L397.47 543.54 L397.97 543.05 L398.47 542.61 L398.97 542.26 L399.47 542.02 L399.97 541.91 L400.47 541.93 L400.97 542.09 L401.47 542.35 L401.97 542.67 L402.47 543.02 L402.97 543.33 L403.47 543.55 L403.96 543.61 L404.46 543.47 L404.96 543.06 L405.46 542.33 L405.96 541.24 L406.46 539.78 L406.96 537.92 L407.46 535.69 L407.96 533.13 L408.46 530.31 L408.96 527.35 L409.46 524.38 L409.96 521.57 L410.46 519.07 L410.95 517.05 L411.45 515.64 L411.95 514.94 L412.45 515 L412.95 515.81 L413.45 517.31 L413.95 519.38 L414.45 521.87 L414.95 524.61 L415.45 527.4 L415.95 530.06 L416.45 532.42 L416.95 534.34 L417.44 535.71 L417.94 536.45 L418.44 536.55 L418.94 536.02 L419.44 534.93 L419.94 533.42 L420.44 531.64 L420.94 529.8 L421.44 528.1 L421.94 526.74 L422.44 525.9 L422.94 525.69 L423.44 526.14 L423.94 527.23 L424.43 528.87 L424.93 530.9 L425.43 533.17 L425.93 535.49 L426.43 537.73 L426.93 539.76 L427.43 541.52 L427.93 542.97 L428.43 544.11 L428.93 544.98 L429.43 545.6 L429.93 546.04 L430.43 546.33 L430.93 546.52 L431.42 546.64 L431.92 546.71 L432.42 546.75 L432.92 546.78 L433.42 546.79 L433.92 546.79 L434.42 546.8 L434.92 546.8 L435.42 546.8 L435.92 546.8 L436.42 546.8 L436.92 546.8 L437.42 546.8 L437.92 546.8 L438.41 546.8 L438.91 546.8 L439.41 546.8 L439.91 546.8 L440.41 546.8 L440.91 546.8 L441.41 546.8 L441.91 546.8 L442.41 546.8 L442.91 546.8 L443.41 546.8 L443.91 546.8 L444.41 546.8 L444.91 546.8 L445.4 546.8 L445.9 546.8 L446.4 546.8 L446.9 546.8 L447.4 546.8 L447.9 546.8 L448.4 546.8 L448.9 546.8 L449.4 546.8 L449.9 546.8 L450.4 546.8 L450.9 546.8 L451.4 546.8 L451.9 546.8 L452.39 546.8 L452.89 546.8 L453.39 546.8 L453.89 546.8 L454.39 546.8 L454.89 546.8 L455.39 546.8 L455.89 546.8 L456.39 546.8 L456.89 546.8 L457.39 546.8 L457.89 546.8 L458.39 546.8 L458.89 546.8 L459.38 546.8 L459.88 546.8 L460.38 546.8 L460.88 546.8 L461.38 546.8 L461.88 546.8 L462.38 546.8 L462.88 546.8 L463.38 546.8 L463.88 546.79 L464.38 546.79 L464.88 546.79 L465.38 546.78 L465.88 546.77 L466.37 546.76 L466.87 546.74 L467.37 546.72 L467.87 546.69 L468.37 546.64 L468.87 546.59 L469.37 546.52 L469.87 546.43 L470.37 546.32 L470.87 546.18 L471.37 546 L471.87 545.79 L472.37 545.54 L472.86 545.25 L473.36 544.9 L473.86 544.5 L474.36 544.05 L474.86 543.54 L475.36 542.98 L475.86 542.38 L476.36 541.73 L476.86 541.05 L477.36 540.34 L477.86 539.63 L478.36 538.92 L478.86 538.24 L479.36 537.6 L479.85 537.01 L480.35 536.5 L480.85 536.08 L481.35 535.76 L481.85 535.55 L482.35 535.46 L482.85 535.5 L483.35 535.65 L483.85 535.92 L484.35 536.29 L484.85 536.76 L485.35 537.32 L485.85 537.93 L486.35 538.6 L486.84 539.3 L487.34 540.01 L487.84 540.72 L488.34 541.41 L488.84 542.08 L489.34 542.7 L489.84 543.29 L490.34 543.82 L490.84 544.3 L491.34 544.72 L491.84 545.09 L492.34 545.41 L492.84 545.68 L493.34 545.91 L493.83 546.1 L494.33 546.26 L494.83 546.38 L495.33 546.48 L495.83 546.56 L496.33 546.62 L496.83 546.67 L497.33 546.7 L497.83 546.73 L498.33 546.75 L498.83 546.76 L499.33 546.78 L499.83 546.78 L500.33 546.79 L500.82 546.79 L501.32 546.79 L501.82 546.8 L502.32 546.8 L502.82 546.8 L503.32 546.8 L503.82 546.8 L504.32 546.8 L504.82 546.8 L505.32 546.8 L505.82 546.8 L506.32 546.8 L506.82 546.8 L507.32 546.8 L507.81 546.8 L508.31 546.8 L508.81 546.8 L509.31 546.8 L509.81 546.8 L510.31 546.8 L510.81 546.8 L511.31 546.8 L511.81 546.8 L512.31 546.8 L512.81 546.8 L513.31 546.8 L513.81 546.8 L514.31 546.8 L514.8 546.8 L515.3 546.8 L515.8 546.8 L516.3 546.8 L516.8 546.8 L517.3 546.8 L517.8 546.8" fill="none" stroke="#0000ff" stroke-width="2"/><path d="M310.1 546.8 L310.6 546.8 L311.1 546.8 L311.6 546.8 L312.1 546.8 L312.6 546.8 L313.1 546.8 L313.59 546.8 L314.09 546.8 L314.59 546.8 L315.09 546.8 L315.59 546.8 L316.09 546.8 L316.59 546.8 L317.09 546.8 L317.59 546.8 L318.09 546.8 L318.59 546.8 L319.09 546.8 L319.59 546.8 L320.09 546.8 L320.58 546.8 L321.08 546.8 L321.58 546.8 L322.08 546.8 L322.58 546.8 L323.08 546.8 L323.58 546.8 L324.08 546.8 L324.58 546.8 L325.08 546.8 L325.58 546.8 L326.08 546.8 L326.58 546.8 L327.08 546.8 L327.57 546.8 L328.07 546.8 L328.57 546.8 L329.07 546.8 L329.57 546.8 L330.07 546.8 L330.57 546.8 L331.07 546.8 L331.57 546.8 L332.07 546.8 L332.57 546.8 L333.07 546.8 L333.57 546.8 L334.07 546.8 L334.56 546.8 L335.06 546.8 L335.56 546.8 L336.06 546.8 L336.56 546.8 L337.06 546.8 L337.56 546.8 L338.06 546.8 L338.56 546.8 L339.06 546.8 L339.56 546.8 L340.06 546.8 L340.56 546.8 L341.06 546.8 L341.55 546.8 L342.05 546.8 L342.55 546.8 L343.05 546.8 L343.55 546.8 L344.05 546.8 L344.55 546.8 L345.05 546.8 L345.55 546.8 L346.05 546.8 L346.55 546.8 L347.05 546.8 L347.55 546.8 L348.05 546.8 L348.54 546.8 L349.04 546.8 L349.54 546.8 L350.04 546.8 L350.54 546.8 L351.04 546.8 L351.54 546.8 L352.04 546.8 L352.54 546.8 L353.04 546.8 L353.54 546.8 L354.04 546.8 L354.54 546.8 L355.04 546.8 L355.53 546.8 L356.03 546.8 L356.53 546.8 L357.03 546.8 L357.53 546.8 L358.03 546.8 L358.53 546.8 L359.03 546.8 L359.53 546.8 L360.03 546.8 L360.53 546.8 L361.03 546.8 L361.53 546.8 L362.02 546.8 L362.52 546.8 L363.02 546.8 L363.52 546.8 L364.02 546.8 L364.52 546.8 L365.02 546.8 L365.52 546.8 L366.02 546.8 L366.52 546.8 L367.02 546.8 L367.52 546.8 L368.02 546.8 L368.52 546.8 L369.01 546.8 L369.51 546.8 L370.01 546.8 L370.51 546.8 L371.01 546.8 L371.51 546.8 L372.01 546.8 L372.51 546.8 L373.01 546.8 L373.51 546.8 L374.01 546.8 L374.51 546.8 L375.01 546.8 L375.51 546.8 L376 546.8 L376.5 546.8 L377 546.8 L377.5 546.8 L378 546.8 L378.5 546.8 L379 546.8 L379.5 546.8 L380 546.8 L380.5 546.8 L381 546.8 L381.5 546.8 L382 546.8 L382.5 546.8 L382.99 546.8 L383.49 546.8 L383.99 546.8 L384.49 546.8 L384.99 546.8 L385.49 546.8 L385.99 546.8 L386.49 546.8 L386.99 546.8 L387.49 546.8 L387.99 546.8 L388.49 546.8 L388.99 546.8 L389.49 546.8 L389.98 546.8 L390.48 546.8 L390.98 546.8 L391.48 546.8 L391.98 546.8 L392.48 546.8 L392.98 546.8 L393.48 546.8 L393.98 546.8 L394.48 546.8 L394.98 546.8 L395.48 546.8 L395.98 546.8 L396.48 546.8 L396.97 546.8 L397.47 546.8 L397.97 546.8 L398.47 546.8 L398.97 546.79 L399.47 546.79 L399.97 546.78 L400.47 546.76 L400.97 546.73 L401.47 546.68 L401.97 546.59 L402.47 546.47 L402.97 546.27 L403.47 545.98 L403.96 545.57 L404.46 545 L404.96 544.21 L405.46 543.18 L405.96 541.85 L406.46 540.2 L406.96 538.2 L407.46 535.87 L407.96 533.24 L408.46 530.38 L408.96 527.39 L409.46 524.41 L409.96 521.58 L410.46 519.08 L410.95 517.05 L411.45 515.64 L411.95 514.95 L412.45 515.01 L412.95 515.84 L413.45 517.36 L413.95 519.48 L414.45 522.05 L414.95 524.91 L415.45 527.91 L415.95 530.88 L416.45 533.71 L416.95 536.29 L417.44 538.57 L417.94 540.5 L418.44 542.1 L418.94 543.37 L419.44 544.36 L419.94 545.11 L420.44 545.65 L420.94 546.04 L421.44 546.31 L421.94 546.49 L422.44 546.61 L422.94 546.69 L423.44 546.73 L423.94 546.76 L424.43 546.78 L424.93 546.79 L425.43 546.79 L425.93 546.8 L426.43 546.8 L426.93 546.8 L427.43 546.8 L427.93 546.8 L428.43 546.8 L428.93 546.8 L429.43 546.8 L429.93 546.8 L430.43 546.8 L430.93 546.8 L431.42 546.8 L431.92 546.8 L432.42 546.8 L432.92 546.8 L433.42 546.8 L433.92 546.8 L434.42 546.8 L434.92 546.8 L435.42 546.8 L435.92 546.8 L436.42 546.8 L436.92 546.8 L437.42 546.8 L437.92 546.8 L438.41 546.8 L438.91 546.8 L439.41 546.8 L439.91 546.8 L440.41 546.8 L440.91 546.8 L441.41 546.8 L441.91 546.8 L442.41 546.8 L442.91 546.8 L443.41 546.8 L443.91 546.8 L444.41 546.8 L444.91 546.8 L445.4 546.8 L445.9 546.8 L446.4 546.8 L446.9 546.8 L447.4 546.8 L447.9 546.8 L448.4 546.8 L448.9 546.8 L449.4 546.8 L449.9 546.8 L450.4 546.8 L450.9 546.8 L451.4 546.8 L451.9 546.8 L452.39 546.8 L452.89 546.8 L453.39 546.8 L453.89 546.8 L454.39 546.8 L454.89 546.8 L455.39 546.8 L455.89 546.8 L456.39 546.8 L456.89 546.8 L457.39 546.8 L457.89 546.8 L458.39 546.8 L458.89 546.8 L459.38 546.8 L459.88 546.8 L460.38 546.8 L460.88 546.8 L461.38 546.8 L461.88 546.8 L462.38 546.8 L462.88 546.8 L463.38 546.8 L463.88 546.8 L464.38 546.8 L464.88 546.8 L465.38 546.8 L465.88 546.8 L466.37 546.8 L466.87 546.8 L467.37 546.8 L467.87 546.8 L468.37 546.8 L468.87 546.8 L469.37 546.8 L469.87 546.8 L470.37 546.8 L470.87 546.8 L471.37 546.8 L471.87 546.8 L472.37 546.8 L472.86 546.8 L473.36 546.8 L473.86 546.8 L474.36 546.8 L474.86 546.8 L475.36 546.8 L475.86 546.8 L476.36 546.8 L476.86 546.8 L477.36 546.8 L477.86 546.8 L478.36 546.8 L478.86 546.8 L479.36 546.8 L479.85 546.8 L480.35 546.8 L480.85 546.8 L481.35 546.8 L481.85 546.8 L482.35 546.8 L482.85 546.8 L483.35 546.8 L483.85 546.8 L484.35 546.8 L484.85 546.8 L485.35 546.8 L485.85 546.8 L486.35 546.8 L486.84 546.8 L487.34 546.8 L487.84 546.8 L488.34 546.8 L488.84 546.8 L489.34 546.8 L489.84 546.8 L490.34 546.8 L490.84 546.8 L491.34 546.8 L491.84 546.8 L492.34 546.8 L492.84 546.8 L493.34 546.8 L493.83 546.8 L494.33 546.8 L494.83 546.8 L495.33 546.8 L495.83 546.8 L496.33 546.8 L496.83 546.8 L497.33 546.8 L497.83 546.8 L498.33 546.8 L498.83 546.8 L499.33 546.8 L499.83 546.8 L500.33 546.8 L500.82 546.8 L501.32 546.8 L501.82 546.8 L502.32 546.8 L502.82 546.8 L503.32 546.8 L503.82 546.8 L504.32 546.8 L504.82 546.8 L505.32 546.8 L505.82 546.8 L506.32 546.8 L506.82 546.8 L507.32 546.8 L507.81 546.8 L508.31 546.8 L508.81 546.8 L509.31 546.8 L509.81 546.8 L510.31 546.8 L510.81 546.8 L511.31 546.8 L511.81 546.8 L512.31 546.8 L512.81 546.8 L513.31 546.8 L513.81 546.8 L514.31 546.8 L514.8 546.8 L515.3 546.8 L515.8 546.8 L516.3 546.8 L516.8 546.8 L517.3 546.8 L517.8 546.8" fill="none" stroke="#ff0000" stroke-width="2"/></g>
<text transform="translate(310.1,0) scale(1.07,1)" x="0" y="609.8" font-size="12.5" text-anchor="middle"><tspan>–</tspan><tspan dx="1.3">200</tspan></text>
<text transform="translate(385.7,0) scale(1.07,1)" x="0" y="609.8" font-size="12.5" text-anchor="middle">0</text>
<text transform="translate(461.3,0) scale(1.07,1)" x="0" y="609.8" font-size="12.5" text-anchor="middle">200</text>
<text transform="translate(304.1,0) scale(1.07,1)" x="0" y="424.8" font-size="12.5" text-anchor="end">15</text>
<text transform="translate(304.1,0) scale(1.07,1)" x="0" y="466.8" font-size="12.5" text-anchor="end">10</text>
<text transform="translate(304.1,0) scale(1.07,1)" x="0" y="508.8" font-size="12.5" text-anchor="end">5</text>
<text transform="translate(304.1,0) scale(1.07,1)" x="0" y="550.8" font-size="12.5" text-anchor="end">0</text>
<text transform="translate(304.1,0) scale(1.07,1)" x="0" y="592.8" font-size="12.5" text-anchor="end"><tspan>–</tspan><tspan dx="1.3">5</tspan></text>
<text x="361.5" y="576.8" fill="#ff0000" style="stroke:#ff0000;stroke-width:0.3px" font-size="14">8<tspan font-size="9.8" dx="1.0" dy="4.2">1,8</tspan><tspan dy="-4.7" dx="1.0">–</tspan><tspan dx="2.6" dy="0.5">7</tspan><tspan font-size="9.8" dx="1.0" dy="4.2">0,7</tspan></text>
<text transform="translate(19.5,335.3) rotate(-90)" font-size="20.8">T</text>
<text transform="translate(24,325) rotate(-90)" font-size="14">A</text>
<text transform="translate(15.9,318.2) rotate(-90)" font-size="20">*</text>
<text transform="translate(19.3,301.8) rotate(-90)" font-size="21">(mK)</text>
<text y="640.6" font-size="20.5"><tspan x="372.6">v</tspan><tspan x="381.4" y="645.8" font-size="13.5">LSR</tspan><tspan x="414.9" y="640.6" font-size="21">(</tspan><tspan x="423.1">km</tspan><tspan x="462">s</tspan><tspan x="471.6" y="629.2" font-size="14">−1</tspan><tspan x="489.6" y="640.6" font-size="21">)</tspan></text>
</svg>
</body></html>
